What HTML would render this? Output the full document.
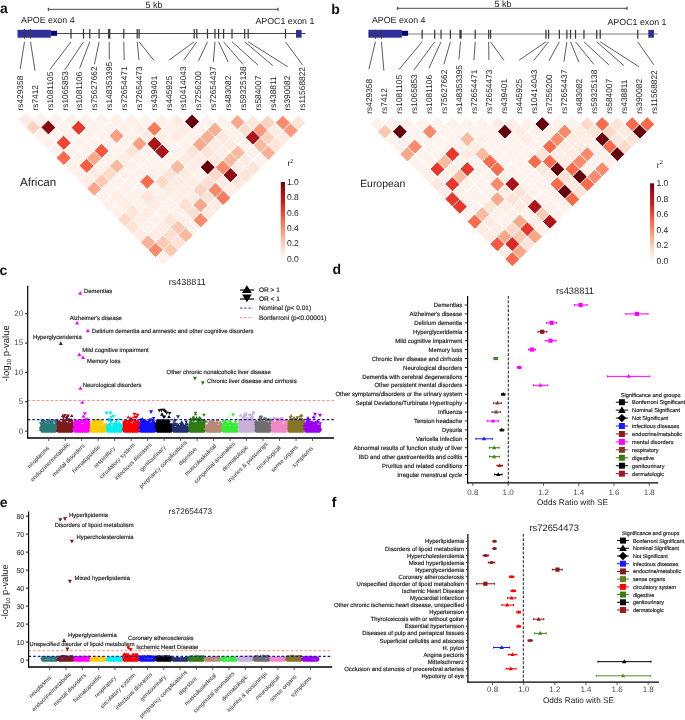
<!DOCTYPE html>
<html><head><meta charset="utf-8"><style>
html,body{margin:0;padding:0;background:#fff;}
svg{display:block;will-change:transform;}
text{font-family:"Liberation Sans", sans-serif;text-rendering:geometricPrecision;}
</style></head><body>
<svg width="685" height="720" viewBox="0 0 685 720" font-family="Liberation Sans, sans-serif">
<rect width="685" height="720" fill="#fff"/>
<line x1="48.40" y1="9.30" x2="277.90" y2="9.30" stroke="#4a4a4a" stroke-width="1" />
<line x1="48.40" y1="7.80" x2="48.40" y2="10.80" stroke="#4a4a4a" stroke-width="1.3" />
<line x1="277.90" y1="7.80" x2="277.90" y2="10.80" stroke="#4a4a4a" stroke-width="1.3" />
<text x="145.50" y="7.90" font-size="9" fill="#1a1a1a" text-anchor="start" font-weight="normal" >5 kb</text>
<text x="21.00" y="22.80" font-size="8.85" fill="#1a1a1a" text-anchor="start" font-weight="normal" >APOE exon 4</text>
<text x="255.40" y="24.40" font-size="8.85" fill="#1a1a1a" text-anchor="start" font-weight="normal" >APOC1 exon 1</text>
<line x1="57.00" y1="33.50" x2="305.40" y2="33.50" stroke="#444" stroke-width="1.0" />
<rect x="17.50" y="29.80" width="33.30" height="7.90" fill="#30309c" />
<rect x="50.80" y="30.80" width="6.20" height="5.00" fill="#000080" />
<rect x="296.00" y="29.90" width="5.60" height="7.80" fill="#30309c" />
<line x1="24.50" y1="29.00" x2="24.50" y2="38.60" stroke="#3a3a3a" stroke-width="1.25" />
<line x1="30.50" y1="29.00" x2="30.50" y2="38.60" stroke="#3a3a3a" stroke-width="1.25" />
<line x1="71.00" y1="29.00" x2="71.00" y2="38.60" stroke="#3a3a3a" stroke-width="1.25" />
<line x1="83.50" y1="29.00" x2="83.50" y2="38.60" stroke="#3a3a3a" stroke-width="1.25" />
<line x1="89.80" y1="29.00" x2="89.80" y2="38.60" stroke="#3a3a3a" stroke-width="1.25" />
<line x1="99.10" y1="29.00" x2="99.10" y2="38.60" stroke="#3a3a3a" stroke-width="1.25" />
<line x1="109.20" y1="29.00" x2="109.20" y2="38.60" stroke="#3a3a3a" stroke-width="2.3" />
<line x1="123.80" y1="29.00" x2="123.80" y2="38.60" stroke="#3a3a3a" stroke-width="1.25" />
<line x1="137.20" y1="29.00" x2="137.20" y2="38.60" stroke="#3a3a3a" stroke-width="1.25" />
<line x1="139.10" y1="29.00" x2="139.10" y2="38.60" stroke="#3a3a3a" stroke-width="1.25" />
<line x1="194.20" y1="29.00" x2="194.20" y2="38.60" stroke="#3a3a3a" stroke-width="1.25" />
<line x1="196.80" y1="29.00" x2="196.80" y2="38.60" stroke="#3a3a3a" stroke-width="1.25" />
<line x1="207.50" y1="29.00" x2="207.50" y2="38.60" stroke="#3a3a3a" stroke-width="1.25" />
<line x1="215.00" y1="29.00" x2="215.00" y2="38.60" stroke="#3a3a3a" stroke-width="1.25" />
<line x1="218.60" y1="29.00" x2="218.60" y2="38.60" stroke="#3a3a3a" stroke-width="1.25" />
<line x1="223.60" y1="29.00" x2="223.60" y2="38.60" stroke="#3a3a3a" stroke-width="1.25" />
<line x1="232.00" y1="29.00" x2="232.00" y2="38.60" stroke="#3a3a3a" stroke-width="1.25" />
<line x1="244.70" y1="29.00" x2="244.70" y2="38.60" stroke="#3a3a3a" stroke-width="1.25" />
<line x1="248.20" y1="29.00" x2="248.20" y2="38.60" stroke="#3a3a3a" stroke-width="1.25" />
<line x1="285.50" y1="29.00" x2="285.50" y2="38.60" stroke="#3a3a3a" stroke-width="1.25" />
<line x1="24.50" y1="41.80" x2="20.15" y2="69.20" stroke="#333" stroke-width="0.8" />
<text transform="translate(23.00,110.50) rotate(-90)" font-size="8.35" fill="#1a1a1a">rs429358</text>
<line x1="30.50" y1="41.80" x2="35.01" y2="70.80" stroke="#333" stroke-width="0.8" />
<text transform="translate(37.86,110.50) rotate(-90)" font-size="8.35" fill="#1a1a1a">rs7412</text>
<line x1="71.00" y1="41.80" x2="49.87" y2="69.60" stroke="#333" stroke-width="0.8" />
<text transform="translate(52.72,110.50) rotate(-90)" font-size="8.35" fill="#1a1a1a">rs1081105</text>
<line x1="83.50" y1="41.80" x2="64.73" y2="70.00" stroke="#333" stroke-width="0.8" />
<text transform="translate(67.58,110.50) rotate(-90)" font-size="8.35" fill="#1a1a1a">rs1065853</text>
<line x1="89.80" y1="41.80" x2="79.59" y2="68.40" stroke="#333" stroke-width="0.8" />
<text transform="translate(82.44,110.50) rotate(-90)" font-size="8.35" fill="#1a1a1a">rs1081106</text>
<line x1="99.10" y1="41.80" x2="94.45" y2="64.30" stroke="#333" stroke-width="0.8" />
<text transform="translate(97.30,110.50) rotate(-90)" font-size="8.35" fill="#1a1a1a">rs75627662</text>
<line x1="109.20" y1="41.80" x2="109.31" y2="59.50" stroke="#333" stroke-width="0.8" />
<text transform="translate(112.16,110.50) rotate(-90)" font-size="8.35" fill="#1a1a1a">rs148353395</text>
<line x1="123.80" y1="41.80" x2="124.17" y2="60.00" stroke="#333" stroke-width="0.8" />
<text transform="translate(127.02,110.50) rotate(-90)" font-size="8.35" fill="#1a1a1a">rs72654471</text>
<line x1="137.20" y1="41.80" x2="139.03" y2="60.00" stroke="#333" stroke-width="0.8" />
<text transform="translate(141.88,110.50) rotate(-90)" font-size="8.35" fill="#1a1a1a">rs72654473</text>
<line x1="139.10" y1="41.80" x2="153.89" y2="60.30" stroke="#333" stroke-width="0.8" />
<text transform="translate(156.74,110.50) rotate(-90)" font-size="8.35" fill="#1a1a1a">rs439401</text>
<line x1="194.20" y1="41.80" x2="168.75" y2="60.30" stroke="#333" stroke-width="0.8" />
<text transform="translate(171.60,110.50) rotate(-90)" font-size="8.35" fill="#1a1a1a">rs445925</text>
<line x1="196.80" y1="41.80" x2="183.61" y2="60.30" stroke="#333" stroke-width="0.8" />
<text transform="translate(186.46,110.50) rotate(-90)" font-size="8.35" fill="#1a1a1a">rs10414043</text>
<line x1="207.50" y1="41.80" x2="198.47" y2="60.90" stroke="#333" stroke-width="0.8" />
<text transform="translate(201.32,110.50) rotate(-90)" font-size="8.35" fill="#1a1a1a">rs7256200</text>
<line x1="215.00" y1="41.80" x2="213.33" y2="61.80" stroke="#333" stroke-width="0.8" />
<text transform="translate(216.18,110.50) rotate(-90)" font-size="8.35" fill="#1a1a1a">rs72654437</text>
<line x1="218.60" y1="41.80" x2="228.19" y2="62.10" stroke="#333" stroke-width="0.8" />
<text transform="translate(231.04,110.50) rotate(-90)" font-size="8.35" fill="#1a1a1a">rs483082</text>
<line x1="223.60" y1="41.80" x2="243.05" y2="64.40" stroke="#333" stroke-width="0.8" />
<text transform="translate(245.90,110.50) rotate(-90)" font-size="8.35" fill="#1a1a1a">rs59325138</text>
<line x1="232.00" y1="41.80" x2="257.91" y2="64.90" stroke="#333" stroke-width="0.8" />
<text transform="translate(260.76,110.50) rotate(-90)" font-size="8.35" fill="#1a1a1a">rs584007</text>
<line x1="244.70" y1="41.80" x2="272.77" y2="65.60" stroke="#333" stroke-width="0.8" />
<text transform="translate(275.62,110.50) rotate(-90)" font-size="8.35" fill="#1a1a1a">rs438811</text>
<line x1="248.20" y1="41.80" x2="287.63" y2="66.70" stroke="#333" stroke-width="0.8" />
<text transform="translate(290.48,110.50) rotate(-90)" font-size="8.35" fill="#1a1a1a">rs390082</text>
<line x1="285.50" y1="41.80" x2="302.49" y2="64.90" stroke="#333" stroke-width="0.8" />
<text transform="translate(305.34,110.50) rotate(-90)" font-size="8.35" fill="#1a1a1a">rs11568822</text>
<line x1="397.50" y1="8.30" x2="627.00" y2="8.30" stroke="#4a4a4a" stroke-width="1" />
<line x1="397.50" y1="6.80" x2="397.50" y2="9.80" stroke="#4a4a4a" stroke-width="1.3" />
<line x1="627.00" y1="6.80" x2="627.00" y2="9.80" stroke="#4a4a4a" stroke-width="1.3" />
<text x="494.60" y="6.90" font-size="9" fill="#1a1a1a" text-anchor="start" font-weight="normal" >5 kb</text>
<text x="371.91" y="23.20" font-size="8.85" fill="#1a1a1a" text-anchor="start" font-weight="normal" >APOE exon 4</text>
<text x="607.48" y="24.80" font-size="8.85" fill="#1a1a1a" text-anchor="start" font-weight="normal" >APOC1 exon 1</text>
<line x1="408.09" y1="33.90" x2="657.73" y2="33.90" stroke="#a8a8a8" stroke-width="1.5" />
<rect x="368.39" y="29.80" width="33.47" height="7.90" fill="#30309c" />
<rect x="401.85" y="30.80" width="6.23" height="5.00" fill="#000080" />
<rect x="648.28" y="29.90" width="5.63" height="7.80" fill="#30309c" />
<line x1="375.42" y1="29.80" x2="375.42" y2="38.70" stroke="#3a3a3a" stroke-width="1.25" />
<line x1="381.45" y1="29.80" x2="381.45" y2="38.70" stroke="#3a3a3a" stroke-width="1.25" />
<line x1="422.15" y1="29.80" x2="422.15" y2="38.70" stroke="#3a3a3a" stroke-width="1.25" />
<line x1="434.72" y1="29.80" x2="434.72" y2="38.70" stroke="#3a3a3a" stroke-width="1.25" />
<line x1="441.05" y1="29.80" x2="441.05" y2="38.70" stroke="#3a3a3a" stroke-width="1.25" />
<line x1="450.40" y1="29.80" x2="450.40" y2="38.70" stroke="#3a3a3a" stroke-width="1.25" />
<line x1="460.55" y1="29.80" x2="460.55" y2="38.70" stroke="#3a3a3a" stroke-width="2.3" />
<line x1="475.22" y1="29.80" x2="475.22" y2="38.70" stroke="#3a3a3a" stroke-width="1.25" />
<line x1="488.69" y1="29.80" x2="488.69" y2="38.70" stroke="#3a3a3a" stroke-width="1.25" />
<line x1="490.60" y1="29.80" x2="490.60" y2="38.70" stroke="#3a3a3a" stroke-width="1.25" />
<line x1="545.97" y1="29.80" x2="545.97" y2="38.70" stroke="#3a3a3a" stroke-width="1.25" />
<line x1="548.58" y1="29.80" x2="548.58" y2="38.70" stroke="#3a3a3a" stroke-width="1.25" />
<line x1="559.34" y1="29.80" x2="559.34" y2="38.70" stroke="#3a3a3a" stroke-width="1.25" />
<line x1="566.88" y1="29.80" x2="566.88" y2="38.70" stroke="#3a3a3a" stroke-width="1.25" />
<line x1="570.49" y1="29.80" x2="570.49" y2="38.70" stroke="#3a3a3a" stroke-width="1.25" />
<line x1="575.52" y1="29.80" x2="575.52" y2="38.70" stroke="#3a3a3a" stroke-width="1.25" />
<line x1="583.96" y1="29.80" x2="583.96" y2="38.70" stroke="#3a3a3a" stroke-width="1.25" />
<line x1="596.72" y1="29.80" x2="596.72" y2="38.70" stroke="#3a3a3a" stroke-width="1.25" />
<line x1="600.24" y1="29.80" x2="600.24" y2="38.70" stroke="#3a3a3a" stroke-width="1.25" />
<line x1="637.73" y1="29.80" x2="637.73" y2="38.70" stroke="#3a3a3a" stroke-width="1.25" />
<line x1="375.42" y1="41.80" x2="368.90" y2="69.20" stroke="#333" stroke-width="0.8" />
<text transform="translate(371.75,113.70) rotate(-90)" font-size="8.35" fill="#1a1a1a">rs429358</text>
<line x1="381.45" y1="41.80" x2="383.90" y2="70.80" stroke="#333" stroke-width="0.8" />
<text transform="translate(386.75,113.70) rotate(-90)" font-size="8.35" fill="#1a1a1a">rs7412</text>
<line x1="422.15" y1="41.80" x2="398.90" y2="69.60" stroke="#333" stroke-width="0.8" />
<text transform="translate(401.75,113.70) rotate(-90)" font-size="8.35" fill="#1a1a1a">rs1081105</text>
<line x1="434.72" y1="41.80" x2="413.90" y2="70.00" stroke="#333" stroke-width="0.8" />
<text transform="translate(416.75,113.70) rotate(-90)" font-size="8.35" fill="#1a1a1a">rs1065853</text>
<line x1="441.05" y1="41.80" x2="428.90" y2="68.40" stroke="#333" stroke-width="0.8" />
<text transform="translate(431.75,113.70) rotate(-90)" font-size="8.35" fill="#1a1a1a">rs1081106</text>
<line x1="450.40" y1="41.80" x2="443.90" y2="64.30" stroke="#333" stroke-width="0.8" />
<text transform="translate(446.75,113.70) rotate(-90)" font-size="8.35" fill="#1a1a1a">rs75627662</text>
<line x1="460.55" y1="41.80" x2="458.90" y2="59.50" stroke="#333" stroke-width="0.8" />
<text transform="translate(461.75,113.70) rotate(-90)" font-size="8.35" fill="#1a1a1a">rs148353395</text>
<line x1="475.22" y1="41.80" x2="473.90" y2="60.00" stroke="#333" stroke-width="0.8" />
<text transform="translate(476.75,113.70) rotate(-90)" font-size="8.35" fill="#1a1a1a">rs72654471</text>
<line x1="488.69" y1="41.80" x2="488.90" y2="60.00" stroke="#333" stroke-width="0.8" />
<text transform="translate(491.75,113.70) rotate(-90)" font-size="8.35" fill="#1a1a1a">rs72654473</text>
<line x1="490.60" y1="41.80" x2="503.90" y2="60.30" stroke="#333" stroke-width="0.8" />
<text transform="translate(506.75,113.70) rotate(-90)" font-size="8.35" fill="#1a1a1a">rs439401</text>
<line x1="545.97" y1="41.80" x2="518.90" y2="60.30" stroke="#333" stroke-width="0.8" />
<text transform="translate(521.75,113.70) rotate(-90)" font-size="8.35" fill="#1a1a1a">rs445925</text>
<line x1="548.58" y1="41.80" x2="533.90" y2="60.30" stroke="#333" stroke-width="0.8" />
<text transform="translate(536.75,113.70) rotate(-90)" font-size="8.35" fill="#1a1a1a">rs10414043</text>
<line x1="559.34" y1="41.80" x2="548.90" y2="60.90" stroke="#333" stroke-width="0.8" />
<text transform="translate(551.75,113.70) rotate(-90)" font-size="8.35" fill="#1a1a1a">rs7256200</text>
<line x1="566.88" y1="41.80" x2="563.90" y2="61.80" stroke="#333" stroke-width="0.8" />
<text transform="translate(566.75,113.70) rotate(-90)" font-size="8.35" fill="#1a1a1a">rs72654437</text>
<line x1="570.49" y1="41.80" x2="578.90" y2="62.10" stroke="#333" stroke-width="0.8" />
<text transform="translate(581.75,113.70) rotate(-90)" font-size="8.35" fill="#1a1a1a">rs483082</text>
<line x1="575.52" y1="41.80" x2="593.90" y2="64.40" stroke="#333" stroke-width="0.8" />
<text transform="translate(596.75,113.70) rotate(-90)" font-size="8.35" fill="#1a1a1a">rs59325138</text>
<line x1="583.96" y1="41.80" x2="608.90" y2="64.90" stroke="#333" stroke-width="0.8" />
<text transform="translate(611.75,113.70) rotate(-90)" font-size="8.35" fill="#1a1a1a">rs584007</text>
<line x1="596.72" y1="41.80" x2="623.90" y2="65.60" stroke="#333" stroke-width="0.8" />
<text transform="translate(626.75,113.70) rotate(-90)" font-size="8.35" fill="#1a1a1a">rs438811</text>
<line x1="600.24" y1="41.80" x2="638.90" y2="66.70" stroke="#333" stroke-width="0.8" />
<text transform="translate(641.75,113.70) rotate(-90)" font-size="8.35" fill="#1a1a1a">rs390082</text>
<line x1="637.73" y1="41.80" x2="653.90" y2="64.90" stroke="#333" stroke-width="0.8" />
<text transform="translate(656.75,113.70) rotate(-90)" font-size="8.35" fill="#1a1a1a">rs11568822</text>
<g transform="translate(25.6,119.7) skewY(0.6932451007573786) skewX(0.5729386976834859)">
<path d="M0.00 -7.57L7.57 0.00L0.00 7.57L-7.57 0.00Z" fill="#ffede5" stroke="#fff" stroke-width="0.9"/>
<path d="M15.14 -7.57L22.71 0.00L15.14 7.57L7.57 0.00Z" fill="#fff2ec" stroke="#fff" stroke-width="0.9"/>
<path d="M30.28 -7.57L37.85 0.00L30.28 7.57L22.71 0.00Z" fill="#fff2ec" stroke="#fff" stroke-width="0.9"/>
<path d="M45.42 -7.57L52.99 0.00L45.42 7.57L37.85 0.00Z" fill="#fff2ec" stroke="#fff" stroke-width="0.9"/>
<path d="M60.56 -7.57L68.13 0.00L60.56 7.57L52.99 0.00Z" fill="#fff1eb" stroke="#fff" stroke-width="0.9"/>
<path d="M75.70 -7.57L83.27 0.00L75.70 7.57L68.13 0.00Z" fill="#fff1eb" stroke="#fff" stroke-width="0.9"/>
<path d="M90.84 -7.57L98.41 0.00L90.84 7.57L83.27 0.00Z" fill="#ffefe7" stroke="#fff" stroke-width="0.9"/>
<path d="M105.98 -7.57L113.55 0.00L105.98 7.57L98.41 0.00Z" fill="#ffefe7" stroke="#fff" stroke-width="0.9"/>
<path d="M121.12 -7.57L128.69 0.00L121.12 7.57L113.55 0.00Z" fill="#fff2ec" stroke="#fff" stroke-width="0.9"/>
<path d="M136.26 -7.57L143.83 0.00L136.26 7.57L128.69 0.00Z" fill="#ffefe7" stroke="#fff" stroke-width="0.9"/>
<path d="M151.40 -7.57L158.97 0.00L151.40 7.57L143.83 0.00Z" fill="#ffebe2" stroke="#fff" stroke-width="0.9"/>
<path d="M166.54 -7.57L174.11 0.00L166.54 7.57L158.97 0.00Z" fill="#67000d" stroke="#fff" stroke-width="0.9"/>
<path d="M181.68 -7.57L189.25 0.00L181.68 7.57L174.11 0.00Z" fill="#fff1eb" stroke="#fff" stroke-width="0.9"/>
<path d="M196.82 -7.57L204.39 0.00L196.82 7.57L189.25 0.00Z" fill="#fff1eb" stroke="#fff" stroke-width="0.9"/>
<path d="M211.96 -7.57L219.53 0.00L211.96 7.57L204.39 0.00Z" fill="#fca78a" stroke="#fff" stroke-width="0.9"/>
<path d="M227.10 -7.57L234.67 0.00L227.10 7.57L219.53 0.00Z" fill="#fee8dd" stroke="#fff" stroke-width="0.9"/>
<path d="M242.24 -7.57L249.81 0.00L242.24 7.57L234.67 0.00Z" fill="#fdd2c0" stroke="#fff" stroke-width="0.9"/>
<path d="M257.38 -7.57L264.95 0.00L257.38 7.57L249.81 0.00Z" fill="#fc8969" stroke="#fff" stroke-width="0.9"/>
<path d="M272.52 -7.57L280.09 0.00L272.52 7.57L264.95 0.00Z" fill="#fee3d7" stroke="#fff" stroke-width="0.9"/>
<path d="M7.57 0.00L15.14 7.57L7.57 15.14L0.00 7.57Z" fill="#fdd2c0" stroke="#fff" stroke-width="0.9"/>
<path d="M22.71 0.00L30.28 7.57L22.71 15.14L15.14 7.57Z" fill="#8e0912" stroke="#fff" stroke-width="0.9"/>
<path d="M37.85 0.00L45.42 7.57L37.85 15.14L30.28 7.57Z" fill="#fff2ec" stroke="#fff" stroke-width="0.9"/>
<path d="M52.99 0.00L60.56 7.57L52.99 15.14L45.42 7.57Z" fill="#eb372a" stroke="#fff" stroke-width="0.9"/>
<path d="M68.13 0.00L75.70 7.57L68.13 15.14L60.56 7.57Z" fill="#fff2ec" stroke="#fff" stroke-width="0.9"/>
<path d="M83.27 0.00L90.84 7.57L83.27 15.14L75.70 7.57Z" fill="#fff2ec" stroke="#fff" stroke-width="0.9"/>
<path d="M98.41 0.00L105.98 7.57L98.41 15.14L90.84 7.57Z" fill="#fff0e9" stroke="#fff" stroke-width="0.9"/>
<path d="M113.55 0.00L121.12 7.57L113.55 15.14L105.98 7.57Z" fill="#ffefe7" stroke="#fff" stroke-width="0.9"/>
<path d="M128.69 0.00L136.26 7.57L128.69 15.14L121.12 7.57Z" fill="#fb7a5a" stroke="#fff" stroke-width="0.9"/>
<path d="M143.83 0.00L151.40 7.57L143.83 15.14L136.26 7.57Z" fill="#fff0e9" stroke="#fff" stroke-width="0.9"/>
<path d="M158.97 0.00L166.54 7.57L158.97 15.14L151.40 7.57Z" fill="#ffebe2" stroke="#fff" stroke-width="0.9"/>
<path d="M174.11 0.00L181.68 7.57L174.11 15.14L166.54 7.57Z" fill="#fff1eb" stroke="#fff" stroke-width="0.9"/>
<path d="M189.25 0.00L196.82 7.57L189.25 15.14L181.68 7.57Z" fill="#fcae92" stroke="#fff" stroke-width="0.9"/>
<path d="M204.39 0.00L211.96 7.57L204.39 15.14L196.82 7.57Z" fill="#fff0e9" stroke="#fff" stroke-width="0.9"/>
<path d="M219.53 0.00L227.10 7.57L219.53 15.14L211.96 7.57Z" fill="#fedecf" stroke="#fff" stroke-width="0.9"/>
<path d="M234.67 0.00L242.24 7.57L234.67 15.14L227.10 7.57Z" fill="#fc9879" stroke="#fff" stroke-width="0.9"/>
<path d="M249.81 0.00L257.38 7.57L249.81 15.14L242.24 7.57Z" fill="#ffebe2" stroke="#fff" stroke-width="0.9"/>
<path d="M264.95 0.00L272.52 7.57L264.95 15.14L257.38 7.57Z" fill="#fc9879" stroke="#fff" stroke-width="0.9"/>
<path d="M15.14 7.57L22.71 15.14L15.14 22.71L7.57 15.14Z" fill="#fff0e9" stroke="#fff" stroke-width="0.9"/>
<path d="M30.28 7.57L37.85 15.14L30.28 22.71L22.71 15.14Z" fill="#fff3ed" stroke="#fff" stroke-width="0.9"/>
<path d="M45.42 7.57L52.99 15.14L45.42 22.71L37.85 15.14Z" fill="#fff2ec" stroke="#fff" stroke-width="0.9"/>
<path d="M60.56 7.57L68.13 15.14L60.56 22.71L52.99 15.14Z" fill="#fff2ec" stroke="#fff" stroke-width="0.9"/>
<path d="M75.70 7.57L83.27 15.14L75.70 22.71L68.13 15.14Z" fill="#fff2ec" stroke="#fff" stroke-width="0.9"/>
<path d="M90.84 7.57L98.41 15.14L90.84 22.71L83.27 15.14Z" fill="#fc9e80" stroke="#fff" stroke-width="0.9"/>
<path d="M105.98 7.57L113.55 15.14L105.98 22.71L98.41 15.14Z" fill="#fff1eb" stroke="#fff" stroke-width="0.9"/>
<path d="M121.12 7.57L128.69 15.14L121.12 22.71L113.55 15.14Z" fill="#ffebe2" stroke="#fff" stroke-width="0.9"/>
<path d="M136.26 7.57L143.83 15.14L136.26 22.71L128.69 15.14Z" fill="#ffefe7" stroke="#fff" stroke-width="0.9"/>
<path d="M151.40 7.57L158.97 15.14L151.40 22.71L143.83 15.14Z" fill="#ffede5" stroke="#fff" stroke-width="0.9"/>
<path d="M166.54 7.57L174.11 15.14L166.54 22.71L158.97 15.14Z" fill="#fff1eb" stroke="#fff" stroke-width="0.9"/>
<path d="M181.68 7.57L189.25 15.14L181.68 22.71L174.11 15.14Z" fill="#fcae92" stroke="#fff" stroke-width="0.9"/>
<path d="M196.82 7.57L204.39 15.14L196.82 22.71L189.25 15.14Z" fill="#fee8dd" stroke="#fff" stroke-width="0.9"/>
<path d="M211.96 7.57L219.53 15.14L211.96 22.71L204.39 15.14Z" fill="#fff1eb" stroke="#fff" stroke-width="0.9"/>
<path d="M227.10 7.57L234.67 15.14L227.10 22.71L219.53 15.14Z" fill="#ae1117" stroke="#fff" stroke-width="0.9"/>
<path d="M242.24 7.57L249.81 15.14L242.24 22.71L234.67 15.14Z" fill="#fdd2c0" stroke="#fff" stroke-width="0.9"/>
<path d="M257.38 7.57L264.95 15.14L257.38 22.71L249.81 15.14Z" fill="#ffebe2" stroke="#fff" stroke-width="0.9"/>
<path d="M22.71 15.14L30.28 22.71L22.71 30.28L15.14 22.71Z" fill="#fff2ec" stroke="#fff" stroke-width="0.9"/>
<path d="M37.85 15.14L45.42 22.71L37.85 30.28L30.28 22.71Z" fill="#f24633" stroke="#fff" stroke-width="0.9"/>
<path d="M52.99 15.14L60.56 22.71L52.99 30.28L45.42 22.71Z" fill="#fff1eb" stroke="#fff" stroke-width="0.9"/>
<path d="M68.13 15.14L75.70 22.71L68.13 30.28L60.56 22.71Z" fill="#fff2ec" stroke="#fff" stroke-width="0.9"/>
<path d="M83.27 15.14L90.84 22.71L83.27 30.28L75.70 22.71Z" fill="#fff2ec" stroke="#fff" stroke-width="0.9"/>
<path d="M98.41 15.14L105.98 22.71L98.41 30.28L90.84 22.71Z" fill="#fff2ec" stroke="#fff" stroke-width="0.9"/>
<path d="M113.55 15.14L121.12 22.71L113.55 30.28L105.98 22.71Z" fill="#fc9e80" stroke="#fff" stroke-width="0.9"/>
<path d="M128.69 15.14L136.26 22.71L128.69 30.28L121.12 22.71Z" fill="#ae1117" stroke="#fff" stroke-width="0.9"/>
<path d="M143.83 15.14L151.40 22.71L143.83 30.28L136.26 22.71Z" fill="#fff2ec" stroke="#fff" stroke-width="0.9"/>
<path d="M158.97 15.14L166.54 22.71L158.97 30.28L151.40 22.71Z" fill="#fff2ec" stroke="#fff" stroke-width="0.9"/>
<path d="M174.11 15.14L181.68 22.71L174.11 30.28L166.54 22.71Z" fill="#fca78a" stroke="#fff" stroke-width="0.9"/>
<path d="M189.25 15.14L196.82 22.71L189.25 30.28L181.68 22.71Z" fill="#ffebe2" stroke="#fff" stroke-width="0.9"/>
<path d="M204.39 15.14L211.96 22.71L204.39 30.28L196.82 22.71Z" fill="#ffebe2" stroke="#fff" stroke-width="0.9"/>
<path d="M219.53 15.14L227.10 22.71L219.53 30.28L211.96 22.71Z" fill="#fff2ec" stroke="#fff" stroke-width="0.9"/>
<path d="M234.67 15.14L242.24 22.71L234.67 30.28L227.10 22.71Z" fill="#fcb99e" stroke="#fff" stroke-width="0.9"/>
<path d="M249.81 15.14L257.38 22.71L249.81 30.28L242.24 22.71Z" fill="#fee3d7" stroke="#fff" stroke-width="0.9"/>
<path d="M30.28 22.71L37.85 30.28L30.28 37.85L22.71 30.28Z" fill="#fff2ec" stroke="#fff" stroke-width="0.9"/>
<path d="M45.42 22.71L52.99 30.28L45.42 37.85L37.85 30.28Z" fill="#fff1eb" stroke="#fff" stroke-width="0.9"/>
<path d="M60.56 22.71L68.13 30.28L60.56 37.85L52.99 30.28Z" fill="#fff1eb" stroke="#fff" stroke-width="0.9"/>
<path d="M75.70 22.71L83.27 30.28L75.70 37.85L68.13 30.28Z" fill="#f6573e" stroke="#fff" stroke-width="0.9"/>
<path d="M90.84 22.71L98.41 30.28L90.84 37.85L83.27 30.28Z" fill="#fff2ec" stroke="#fff" stroke-width="0.9"/>
<path d="M105.98 22.71L113.55 30.28L105.98 37.85L98.41 30.28Z" fill="#fee3d7" stroke="#fff" stroke-width="0.9"/>
<path d="M121.12 22.71L128.69 30.28L121.12 37.85L113.55 30.28Z" fill="#fff2ec" stroke="#fff" stroke-width="0.9"/>
<path d="M136.26 22.71L143.83 30.28L136.26 37.85L128.69 30.28Z" fill="#ae1117" stroke="#fff" stroke-width="0.9"/>
<path d="M151.40 22.71L158.97 30.28L151.40 37.85L143.83 30.28Z" fill="#fff2ec" stroke="#fff" stroke-width="0.9"/>
<path d="M166.54 22.71L174.11 30.28L166.54 37.85L158.97 30.28Z" fill="#fee3d7" stroke="#fff" stroke-width="0.9"/>
<path d="M181.68 22.71L189.25 30.28L181.68 37.85L174.11 30.28Z" fill="#fee3d7" stroke="#fff" stroke-width="0.9"/>
<path d="M196.82 22.71L204.39 30.28L196.82 37.85L189.25 30.28Z" fill="#ffede5" stroke="#fff" stroke-width="0.9"/>
<path d="M211.96 22.71L219.53 30.28L211.96 37.85L204.39 30.28Z" fill="#fcb99e" stroke="#fff" stroke-width="0.9"/>
<path d="M227.10 22.71L234.67 30.28L227.10 37.85L219.53 30.28Z" fill="#fff1eb" stroke="#fff" stroke-width="0.9"/>
<path d="M242.24 22.71L249.81 30.28L242.24 37.85L234.67 30.28Z" fill="#fcae92" stroke="#fff" stroke-width="0.9"/>
<path d="M37.85 30.28L45.42 37.85L37.85 45.42L30.28 37.85Z" fill="#fb6a4a" stroke="#fff" stroke-width="0.9"/>
<path d="M52.99 30.28L60.56 37.85L52.99 45.42L45.42 37.85Z" fill="#fff1eb" stroke="#fff" stroke-width="0.9"/>
<path d="M68.13 30.28L75.70 37.85L68.13 45.42L60.56 37.85Z" fill="#fca78a" stroke="#fff" stroke-width="0.9"/>
<path d="M83.27 30.28L90.84 37.85L83.27 45.42L75.70 37.85Z" fill="#fff1eb" stroke="#fff" stroke-width="0.9"/>
<path d="M98.41 30.28L105.98 37.85L98.41 45.42L90.84 37.85Z" fill="#ffede5" stroke="#fff" stroke-width="0.9"/>
<path d="M113.55 30.28L121.12 37.85L113.55 45.42L105.98 37.85Z" fill="#fff0e9" stroke="#fff" stroke-width="0.9"/>
<path d="M128.69 30.28L136.26 37.85L128.69 45.42L121.12 37.85Z" fill="#fff1eb" stroke="#fff" stroke-width="0.9"/>
<path d="M143.83 30.28L151.40 37.85L143.83 45.42L136.26 37.85Z" fill="#fff2ec" stroke="#fff" stroke-width="0.9"/>
<path d="M158.97 30.28L166.54 37.85L158.97 45.42L151.40 37.85Z" fill="#ffebe2" stroke="#fff" stroke-width="0.9"/>
<path d="M174.11 30.28L181.68 37.85L174.11 45.42L166.54 37.85Z" fill="#ffebe2" stroke="#fff" stroke-width="0.9"/>
<path d="M189.25 30.28L196.82 37.85L189.25 45.42L181.68 37.85Z" fill="#fee8dd" stroke="#fff" stroke-width="0.9"/>
<path d="M204.39 30.28L211.96 37.85L204.39 45.42L196.82 37.85Z" fill="#fcb99e" stroke="#fff" stroke-width="0.9"/>
<path d="M219.53 30.28L227.10 37.85L219.53 45.42L211.96 37.85Z" fill="#ffebe2" stroke="#fff" stroke-width="0.9"/>
<path d="M234.67 30.28L242.24 37.85L234.67 45.42L227.10 37.85Z" fill="#fff1eb" stroke="#fff" stroke-width="0.9"/>
<path d="M45.42 37.85L52.99 45.42L45.42 52.99L37.85 45.42Z" fill="#fff0e9" stroke="#fff" stroke-width="0.9"/>
<path d="M60.56 37.85L68.13 45.42L60.56 52.99L52.99 45.42Z" fill="#f85f43" stroke="#fff" stroke-width="0.9"/>
<path d="M75.70 37.85L83.27 45.42L75.70 52.99L68.13 45.42Z" fill="#fff2ec" stroke="#fff" stroke-width="0.9"/>
<path d="M90.84 37.85L98.41 45.42L90.84 52.99L83.27 45.42Z" fill="#fcb99e" stroke="#fff" stroke-width="0.9"/>
<path d="M105.98 37.85L113.55 45.42L105.98 52.99L98.41 45.42Z" fill="#fff0e9" stroke="#fff" stroke-width="0.9"/>
<path d="M121.12 37.85L128.69 45.42L121.12 52.99L113.55 45.42Z" fill="#fff2ec" stroke="#fff" stroke-width="0.9"/>
<path d="M136.26 37.85L143.83 45.42L136.26 52.99L128.69 45.42Z" fill="#fff2ec" stroke="#fff" stroke-width="0.9"/>
<path d="M151.40 37.85L158.97 45.42L151.40 52.99L143.83 45.42Z" fill="#fcb99e" stroke="#fff" stroke-width="0.9"/>
<path d="M166.54 37.85L174.11 45.42L166.54 52.99L158.97 45.42Z" fill="#ffede5" stroke="#fff" stroke-width="0.9"/>
<path d="M181.68 37.85L189.25 45.42L181.68 52.99L174.11 45.42Z" fill="#67000d" stroke="#fff" stroke-width="0.9"/>
<path d="M196.82 37.85L204.39 45.42L196.82 52.99L189.25 45.42Z" fill="#fc8969" stroke="#fff" stroke-width="0.9"/>
<path d="M211.96 37.85L219.53 45.42L211.96 52.99L204.39 45.42Z" fill="#ffebe2" stroke="#fff" stroke-width="0.9"/>
<path d="M227.10 37.85L234.67 45.42L227.10 52.99L219.53 45.42Z" fill="#fee3d7" stroke="#fff" stroke-width="0.9"/>
<path d="M52.99 45.42L60.56 52.99L52.99 60.56L45.42 52.99Z" fill="#fff0e9" stroke="#fff" stroke-width="0.9"/>
<path d="M68.13 45.42L75.70 52.99L68.13 60.56L60.56 52.99Z" fill="#ffede5" stroke="#fff" stroke-width="0.9"/>
<path d="M83.27 45.42L90.84 52.99L83.27 60.56L75.70 52.99Z" fill="#fed9c8" stroke="#fff" stroke-width="0.9"/>
<path d="M98.41 45.42L105.98 52.99L98.41 60.56L90.84 52.99Z" fill="#fff0e9" stroke="#fff" stroke-width="0.9"/>
<path d="M113.55 45.42L121.12 52.99L113.55 60.56L105.98 52.99Z" fill="#fff2ec" stroke="#fff" stroke-width="0.9"/>
<path d="M128.69 45.42L136.26 52.99L128.69 60.56L121.12 52.99Z" fill="#fff0e9" stroke="#fff" stroke-width="0.9"/>
<path d="M143.83 45.42L151.40 52.99L143.83 60.56L136.26 52.99Z" fill="#fee3d7" stroke="#fff" stroke-width="0.9"/>
<path d="M158.97 45.42L166.54 52.99L158.97 60.56L151.40 52.99Z" fill="#ffebe2" stroke="#fff" stroke-width="0.9"/>
<path d="M174.11 45.42L181.68 52.99L174.11 60.56L166.54 52.99Z" fill="#fff2ec" stroke="#fff" stroke-width="0.9"/>
<path d="M189.25 45.42L196.82 52.99L189.25 60.56L181.68 52.99Z" fill="#fed9c8" stroke="#fff" stroke-width="0.9"/>
<path d="M204.39 45.42L211.96 52.99L204.39 60.56L196.82 52.99Z" fill="#8e0912" stroke="#fff" stroke-width="0.9"/>
<path d="M219.53 45.42L227.10 52.99L219.53 60.56L211.96 52.99Z" fill="#fee3d7" stroke="#fff" stroke-width="0.9"/>
<path d="M60.56 52.99L68.13 60.56L60.56 68.13L52.99 60.56Z" fill="#ffede5" stroke="#fff" stroke-width="0.9"/>
<path d="M75.70 52.99L83.27 60.56L75.70 68.13L68.13 60.56Z" fill="#fdc9b3" stroke="#fff" stroke-width="0.9"/>
<path d="M90.84 52.99L98.41 60.56L90.84 68.13L83.27 60.56Z" fill="#fff2ec" stroke="#fff" stroke-width="0.9"/>
<path d="M105.98 52.99L113.55 60.56L105.98 68.13L98.41 60.56Z" fill="#fff2ec" stroke="#fff" stroke-width="0.9"/>
<path d="M121.12 52.99L128.69 60.56L121.12 68.13L113.55 60.56Z" fill="#fb6a4a" stroke="#fff" stroke-width="0.9"/>
<path d="M136.26 52.99L143.83 60.56L136.26 68.13L128.69 60.56Z" fill="#fed9c8" stroke="#fff" stroke-width="0.9"/>
<path d="M151.40 52.99L158.97 60.56L151.40 68.13L143.83 60.56Z" fill="#ffebe2" stroke="#fff" stroke-width="0.9"/>
<path d="M166.54 52.99L174.11 60.56L166.54 68.13L158.97 60.56Z" fill="#ffede5" stroke="#fff" stroke-width="0.9"/>
<path d="M181.68 52.99L189.25 60.56L181.68 68.13L174.11 60.56Z" fill="#fedecf" stroke="#fff" stroke-width="0.9"/>
<path d="M196.82 52.99L204.39 60.56L196.82 68.13L189.25 60.56Z" fill="#ffebe2" stroke="#fff" stroke-width="0.9"/>
<path d="M211.96 52.99L219.53 60.56L211.96 68.13L204.39 60.56Z" fill="#fee8dd" stroke="#fff" stroke-width="0.9"/>
<path d="M68.13 60.56L75.70 68.13L68.13 75.70L60.56 68.13Z" fill="#fca78a" stroke="#fff" stroke-width="0.9"/>
<path d="M83.27 60.56L90.84 68.13L83.27 75.70L75.70 68.13Z" fill="#fff2ec" stroke="#fff" stroke-width="0.9"/>
<path d="M98.41 60.56L105.98 68.13L98.41 75.70L90.84 68.13Z" fill="#fff0e9" stroke="#fff" stroke-width="0.9"/>
<path d="M113.55 60.56L121.12 68.13L113.55 75.70L105.98 68.13Z" fill="#fff2ec" stroke="#fff" stroke-width="0.9"/>
<path d="M128.69 60.56L136.26 68.13L128.69 75.70L121.12 68.13Z" fill="#fff2ec" stroke="#fff" stroke-width="0.9"/>
<path d="M143.83 60.56L151.40 68.13L143.83 75.70L136.26 68.13Z" fill="#ffebe2" stroke="#fff" stroke-width="0.9"/>
<path d="M158.97 60.56L166.54 68.13L158.97 75.70L151.40 68.13Z" fill="#ffede5" stroke="#fff" stroke-width="0.9"/>
<path d="M174.11 60.56L181.68 68.13L174.11 75.70L166.54 68.13Z" fill="#fdd2c0" stroke="#fff" stroke-width="0.9"/>
<path d="M189.25 60.56L196.82 68.13L189.25 75.70L181.68 68.13Z" fill="#fc8969" stroke="#fff" stroke-width="0.9"/>
<path d="M204.39 60.56L211.96 68.13L204.39 75.70L196.82 68.13Z" fill="#fff0e9" stroke="#fff" stroke-width="0.9"/>
<path d="M75.70 68.13L83.27 75.70L75.70 83.27L68.13 75.70Z" fill="#fff1eb" stroke="#fff" stroke-width="0.9"/>
<path d="M90.84 68.13L98.41 75.70L90.84 83.27L83.27 75.70Z" fill="#ffede5" stroke="#fff" stroke-width="0.9"/>
<path d="M105.98 68.13L113.55 75.70L105.98 83.27L98.41 75.70Z" fill="#fff2ec" stroke="#fff" stroke-width="0.9"/>
<path d="M121.12 68.13L128.69 75.70L121.12 83.27L113.55 75.70Z" fill="#fee3d7" stroke="#fff" stroke-width="0.9"/>
<path d="M136.26 68.13L143.83 75.70L136.26 83.27L128.69 75.70Z" fill="#ffefe7" stroke="#fff" stroke-width="0.9"/>
<path d="M151.40 68.13L158.97 75.70L151.40 83.27L143.83 75.70Z" fill="#ffefe7" stroke="#fff" stroke-width="0.9"/>
<path d="M166.54 68.13L174.11 75.70L166.54 83.27L158.97 75.70Z" fill="#ffebe2" stroke="#fff" stroke-width="0.9"/>
<path d="M181.68 68.13L189.25 75.70L181.68 83.27L174.11 75.70Z" fill="#fee3d7" stroke="#fff" stroke-width="0.9"/>
<path d="M196.82 68.13L204.39 75.70L196.82 83.27L189.25 75.70Z" fill="#fb7a5a" stroke="#fff" stroke-width="0.9"/>
<path d="M83.27 75.70L90.84 83.27L83.27 90.84L75.70 83.27Z" fill="#fff2ec" stroke="#fff" stroke-width="0.9"/>
<path d="M98.41 75.70L105.98 83.27L98.41 90.84L90.84 83.27Z" fill="#ffede5" stroke="#fff" stroke-width="0.9"/>
<path d="M113.55 75.70L121.12 83.27L113.55 90.84L105.98 83.27Z" fill="#fff2ec" stroke="#fff" stroke-width="0.9"/>
<path d="M128.69 75.70L136.26 83.27L128.69 90.84L121.12 83.27Z" fill="#ffede5" stroke="#fff" stroke-width="0.9"/>
<path d="M143.83 75.70L151.40 83.27L143.83 90.84L136.26 83.27Z" fill="#fff2ec" stroke="#fff" stroke-width="0.9"/>
<path d="M158.97 75.70L166.54 83.27L158.97 90.84L151.40 83.27Z" fill="#fedecf" stroke="#fff" stroke-width="0.9"/>
<path d="M174.11 75.70L181.68 83.27L174.11 90.84L166.54 83.27Z" fill="#fca78a" stroke="#fff" stroke-width="0.9"/>
<path d="M189.25 75.70L196.82 83.27L189.25 90.84L181.68 83.27Z" fill="#ffede5" stroke="#fff" stroke-width="0.9"/>
<path d="M90.84 83.27L98.41 90.84L90.84 98.41L83.27 90.84Z" fill="#fff1eb" stroke="#fff" stroke-width="0.9"/>
<path d="M105.98 83.27L113.55 90.84L105.98 98.41L98.41 90.84Z" fill="#fee3d7" stroke="#fff" stroke-width="0.9"/>
<path d="M121.12 83.27L128.69 90.84L121.12 98.41L113.55 90.84Z" fill="#ffede5" stroke="#fff" stroke-width="0.9"/>
<path d="M136.26 83.27L143.83 90.84L136.26 98.41L128.69 90.84Z" fill="#fff2ec" stroke="#fff" stroke-width="0.9"/>
<path d="M151.40 83.27L158.97 90.84L151.40 98.41L143.83 90.84Z" fill="#fff0e9" stroke="#fff" stroke-width="0.9"/>
<path d="M166.54 83.27L174.11 90.84L166.54 98.41L158.97 90.84Z" fill="#fedecf" stroke="#fff" stroke-width="0.9"/>
<path d="M181.68 83.27L189.25 90.84L181.68 98.41L174.11 90.84Z" fill="#ffebe2" stroke="#fff" stroke-width="0.9"/>
<path d="M98.41 90.84L105.98 98.41L98.41 105.98L90.84 98.41Z" fill="#fed9c8" stroke="#fff" stroke-width="0.9"/>
<path d="M113.55 90.84L121.12 98.41L113.55 105.98L105.98 98.41Z" fill="#ffede5" stroke="#fff" stroke-width="0.9"/>
<path d="M128.69 90.84L136.26 98.41L128.69 105.98L121.12 98.41Z" fill="#fff1eb" stroke="#fff" stroke-width="0.9"/>
<path d="M143.83 90.84L151.40 98.41L143.83 105.98L136.26 98.41Z" fill="#fee3d7" stroke="#fff" stroke-width="0.9"/>
<path d="M158.97 90.84L166.54 98.41L158.97 105.98L151.40 98.41Z" fill="#fff0e9" stroke="#fff" stroke-width="0.9"/>
<path d="M174.11 90.84L181.68 98.41L174.11 105.98L166.54 98.41Z" fill="#fc8969" stroke="#fff" stroke-width="0.9"/>
<path d="M105.98 98.41L113.55 105.98L105.98 113.55L98.41 105.98Z" fill="#fee3d7" stroke="#fff" stroke-width="0.9"/>
<path d="M121.12 98.41L128.69 105.98L121.12 113.55L113.55 105.98Z" fill="#fff1eb" stroke="#fff" stroke-width="0.9"/>
<path d="M136.26 98.41L143.83 105.98L136.26 113.55L128.69 105.98Z" fill="#ffebe2" stroke="#fff" stroke-width="0.9"/>
<path d="M151.40 98.41L158.97 105.98L151.40 113.55L143.83 105.98Z" fill="#fdc9b3" stroke="#fff" stroke-width="0.9"/>
<path d="M166.54 98.41L174.11 105.98L166.54 113.55L158.97 105.98Z" fill="#fff2ec" stroke="#fff" stroke-width="0.9"/>
<path d="M113.55 105.98L121.12 113.55L113.55 121.12L105.98 113.55Z" fill="#ffebe2" stroke="#fff" stroke-width="0.9"/>
<path d="M128.69 105.98L136.26 113.55L128.69 121.12L121.12 113.55Z" fill="#ffebe2" stroke="#fff" stroke-width="0.9"/>
<path d="M143.83 105.98L151.40 113.55L143.83 121.12L136.26 113.55Z" fill="#fedecf" stroke="#fff" stroke-width="0.9"/>
<path d="M158.97 105.98L166.54 113.55L158.97 121.12L151.40 113.55Z" fill="#fcb99e" stroke="#fff" stroke-width="0.9"/>
<path d="M121.12 113.55L128.69 121.12L121.12 128.69L113.55 121.12Z" fill="#fcb296" stroke="#fff" stroke-width="0.9"/>
<path d="M136.26 113.55L143.83 121.12L136.26 128.69L128.69 121.12Z" fill="#fdc9b3" stroke="#fff" stroke-width="0.9"/>
<path d="M151.40 113.55L158.97 121.12L151.40 128.69L143.83 121.12Z" fill="#fee3d7" stroke="#fff" stroke-width="0.9"/>
<path d="M128.69 121.12L136.26 128.69L128.69 136.26L121.12 128.69Z" fill="#fc8969" stroke="#fff" stroke-width="0.9"/>
<path d="M143.83 121.12L151.40 128.69L143.83 136.26L136.26 128.69Z" fill="#fdc9b3" stroke="#fff" stroke-width="0.9"/>
<path d="M136.26 128.69L143.83 136.26L136.26 143.83L128.69 136.26Z" fill="#fff1eb" stroke="#fff" stroke-width="0.9"/>
</g>
<g transform="translate(377.4,124.2) skewY(0) skewX(0)">
<path d="M0.00 -7.50L7.50 0.00L0.00 7.50L-7.50 0.00Z" fill="#fff1eb" stroke="#fff" stroke-width="0.9"/>
<path d="M14.99 -7.50L22.48 0.00L14.99 7.50L7.50 0.00Z" fill="#fff2ec" stroke="#fff" stroke-width="0.9"/>
<path d="M29.98 -7.50L37.48 0.00L29.98 7.50L22.48 0.00Z" fill="#fff2ec" stroke="#fff" stroke-width="0.9"/>
<path d="M44.97 -7.50L52.46 0.00L44.97 7.50L37.48 0.00Z" fill="#fff2ec" stroke="#fff" stroke-width="0.9"/>
<path d="M59.96 -7.50L67.45 0.00L59.96 7.50L52.47 0.00Z" fill="#fff2ec" stroke="#fff" stroke-width="0.9"/>
<path d="M74.95 -7.50L82.45 0.00L74.95 7.50L67.45 0.00Z" fill="#fff2ec" stroke="#fff" stroke-width="0.9"/>
<path d="M89.94 -7.50L97.44 0.00L89.94 7.50L82.44 0.00Z" fill="#fff1eb" stroke="#fff" stroke-width="0.9"/>
<path d="M104.93 -7.50L112.43 0.00L104.93 7.50L97.44 0.00Z" fill="#fff2ec" stroke="#fff" stroke-width="0.9"/>
<path d="M119.92 -7.50L127.42 0.00L119.92 7.50L112.42 0.00Z" fill="#ffede5" stroke="#fff" stroke-width="0.9"/>
<path d="M134.91 -7.50L142.41 0.00L134.91 7.50L127.41 0.00Z" fill="#ffede5" stroke="#fff" stroke-width="0.9"/>
<path d="M149.90 -7.50L157.40 0.00L149.90 7.50L142.41 0.00Z" fill="#fff2ec" stroke="#fff" stroke-width="0.9"/>
<path d="M164.89 -7.50L172.39 0.00L164.89 7.50L157.40 0.00Z" fill="#67000d" stroke="#fff" stroke-width="0.9"/>
<path d="M179.88 -7.50L187.38 0.00L179.88 7.50L172.38 0.00Z" fill="#fff2ec" stroke="#fff" stroke-width="0.9"/>
<path d="M194.87 -7.50L202.37 0.00L194.87 7.50L187.38 0.00Z" fill="#fff1eb" stroke="#fff" stroke-width="0.9"/>
<path d="M209.86 -7.50L217.36 0.00L209.86 7.50L202.37 0.00Z" fill="#fed9c8" stroke="#fff" stroke-width="0.9"/>
<path d="M224.85 -7.50L232.34 0.00L224.85 7.50L217.35 0.00Z" fill="#fb6a4a" stroke="#fff" stroke-width="0.9"/>
<path d="M239.84 -7.50L247.34 0.00L239.84 7.50L232.34 0.00Z" fill="#fee3d7" stroke="#fff" stroke-width="0.9"/>
<path d="M254.83 -7.50L262.32 0.00L254.83 7.50L247.34 0.00Z" fill="#fb6a4a" stroke="#fff" stroke-width="0.9"/>
<path d="M269.82 -7.50L277.31 0.00L269.82 7.50L262.32 0.00Z" fill="#fb6a4a" stroke="#fff" stroke-width="0.9"/>
<path d="M7.50 0.00L14.99 7.50L7.50 14.99L0.00 7.50Z" fill="#fdc9b3" stroke="#fff" stroke-width="0.9"/>
<path d="M22.48 0.00L29.98 7.50L22.48 14.99L14.99 7.50Z" fill="#67000d" stroke="#fff" stroke-width="0.9"/>
<path d="M37.48 0.00L44.97 7.50L37.48 14.99L29.98 7.50Z" fill="#fff3ed" stroke="#fff" stroke-width="0.9"/>
<path d="M52.47 0.00L59.96 7.50L52.47 14.99L44.97 7.50Z" fill="#fc8969" stroke="#fff" stroke-width="0.9"/>
<path d="M67.45 0.00L74.95 7.50L67.45 14.99L59.96 7.50Z" fill="#fff3ed" stroke="#fff" stroke-width="0.9"/>
<path d="M82.45 0.00L89.94 7.50L82.45 14.99L74.95 7.50Z" fill="#fff3ed" stroke="#fff" stroke-width="0.9"/>
<path d="M97.44 0.00L104.93 7.50L97.44 14.99L89.94 7.50Z" fill="#fff3ed" stroke="#fff" stroke-width="0.9"/>
<path d="M112.42 0.00L119.92 7.50L112.42 14.99L104.93 7.50Z" fill="#fff3ed" stroke="#fff" stroke-width="0.9"/>
<path d="M127.42 0.00L134.91 7.50L127.42 14.99L119.92 7.50Z" fill="#67000d" stroke="#fff" stroke-width="0.9"/>
<path d="M142.41 0.00L149.90 7.50L142.41 14.99L134.91 7.50Z" fill="#ffede5" stroke="#fff" stroke-width="0.9"/>
<path d="M157.40 0.00L164.89 7.50L157.40 14.99L149.90 7.50Z" fill="#fff1eb" stroke="#fff" stroke-width="0.9"/>
<path d="M172.38 0.00L179.88 7.50L172.38 14.99L164.89 7.50Z" fill="#fff2ec" stroke="#fff" stroke-width="0.9"/>
<path d="M187.38 0.00L194.87 7.50L187.38 14.99L179.88 7.50Z" fill="#fc8969" stroke="#fff" stroke-width="0.9"/>
<path d="M202.37 0.00L209.86 7.50L202.37 14.99L194.87 7.50Z" fill="#ffede5" stroke="#fff" stroke-width="0.9"/>
<path d="M217.35 0.00L224.85 7.50L217.35 14.99L209.86 7.50Z" fill="#fee3d7" stroke="#fff" stroke-width="0.9"/>
<path d="M232.34 0.00L239.84 7.50L232.34 14.99L224.85 7.50Z" fill="#fed9c8" stroke="#fff" stroke-width="0.9"/>
<path d="M247.34 0.00L254.83 7.50L247.34 14.99L239.84 7.50Z" fill="#ffebe2" stroke="#fff" stroke-width="0.9"/>
<path d="M262.32 0.00L269.82 7.50L262.32 14.99L254.83 7.50Z" fill="#67000d" stroke="#fff" stroke-width="0.9"/>
<path d="M14.99 7.50L22.48 14.99L14.99 22.48L7.50 14.99Z" fill="#fff3ed" stroke="#fff" stroke-width="0.9"/>
<path d="M29.98 7.50L37.48 14.99L29.98 22.48L22.48 14.99Z" fill="#fff1eb" stroke="#fff" stroke-width="0.9"/>
<path d="M44.97 7.50L52.46 14.99L44.97 22.48L37.48 14.99Z" fill="#fff3ed" stroke="#fff" stroke-width="0.9"/>
<path d="M59.96 7.50L67.45 14.99L59.96 22.48L52.47 14.99Z" fill="#fff3ed" stroke="#fff" stroke-width="0.9"/>
<path d="M74.95 7.50L82.45 14.99L74.95 22.48L67.45 14.99Z" fill="#fff3ed" stroke="#fff" stroke-width="0.9"/>
<path d="M89.94 7.50L97.44 14.99L89.94 22.48L82.44 14.99Z" fill="#fcb99e" stroke="#fff" stroke-width="0.9"/>
<path d="M104.93 7.50L112.43 14.99L104.93 22.48L97.44 14.99Z" fill="#fff2ec" stroke="#fff" stroke-width="0.9"/>
<path d="M119.92 7.50L127.42 14.99L119.92 22.48L112.42 14.99Z" fill="#fff3ed" stroke="#fff" stroke-width="0.9"/>
<path d="M134.91 7.50L142.41 14.99L134.91 22.48L127.41 14.99Z" fill="#fff3ed" stroke="#fff" stroke-width="0.9"/>
<path d="M149.90 7.50L157.40 14.99L149.90 22.48L142.41 14.99Z" fill="#ffede5" stroke="#fff" stroke-width="0.9"/>
<path d="M164.89 7.50L172.39 14.99L164.89 22.48L157.40 14.99Z" fill="#fff2ec" stroke="#fff" stroke-width="0.9"/>
<path d="M179.88 7.50L187.38 14.99L179.88 22.48L172.38 14.99Z" fill="#fc8969" stroke="#fff" stroke-width="0.9"/>
<path d="M194.87 7.50L202.37 14.99L194.87 22.48L187.38 14.99Z" fill="#ffebe2" stroke="#fff" stroke-width="0.9"/>
<path d="M209.86 7.50L217.36 14.99L209.86 22.48L202.37 14.99Z" fill="#ffede5" stroke="#fff" stroke-width="0.9"/>
<path d="M224.85 7.50L232.34 14.99L224.85 22.48L217.35 14.99Z" fill="#67000d" stroke="#fff" stroke-width="0.9"/>
<path d="M239.84 7.50L247.34 14.99L239.84 22.48L232.34 14.99Z" fill="#fee8dd" stroke="#fff" stroke-width="0.9"/>
<path d="M254.83 7.50L262.32 14.99L254.83 22.48L247.34 14.99Z" fill="#fee3d7" stroke="#fff" stroke-width="0.9"/>
<path d="M22.48 14.99L29.98 22.48L22.48 29.98L14.99 22.48Z" fill="#fff2ec" stroke="#fff" stroke-width="0.9"/>
<path d="M37.48 14.99L44.97 22.48L37.48 29.98L29.98 22.48Z" fill="#fc8969" stroke="#fff" stroke-width="0.9"/>
<path d="M52.47 14.99L59.96 22.48L52.47 29.98L44.97 22.48Z" fill="#fff3ed" stroke="#fff" stroke-width="0.9"/>
<path d="M67.45 14.99L74.95 22.48L67.45 29.98L59.96 22.48Z" fill="#fff3ed" stroke="#fff" stroke-width="0.9"/>
<path d="M82.45 14.99L89.94 22.48L82.45 29.98L74.95 22.48Z" fill="#fff2ec" stroke="#fff" stroke-width="0.9"/>
<path d="M97.44 14.99L104.93 22.48L97.44 29.98L89.94 22.48Z" fill="#ffebe2" stroke="#fff" stroke-width="0.9"/>
<path d="M112.42 14.99L119.92 22.48L112.42 29.98L104.93 22.48Z" fill="#fff3ed" stroke="#fff" stroke-width="0.9"/>
<path d="M127.42 14.99L134.91 22.48L127.42 29.98L119.92 22.48Z" fill="#fff3ed" stroke="#fff" stroke-width="0.9"/>
<path d="M142.41 14.99L149.90 22.48L142.41 29.98L134.91 22.48Z" fill="#fff2ec" stroke="#fff" stroke-width="0.9"/>
<path d="M157.40 14.99L164.89 22.48L157.40 29.98L149.90 22.48Z" fill="#fff2ec" stroke="#fff" stroke-width="0.9"/>
<path d="M172.38 14.99L179.88 22.48L172.38 29.98L164.89 22.48Z" fill="#fb6a4a" stroke="#fff" stroke-width="0.9"/>
<path d="M187.38 14.99L194.87 22.48L187.38 29.98L179.88 22.48Z" fill="#ffede5" stroke="#fff" stroke-width="0.9"/>
<path d="M202.37 14.99L209.86 22.48L202.37 29.98L194.87 22.48Z" fill="#ffebe2" stroke="#fff" stroke-width="0.9"/>
<path d="M217.35 14.99L224.85 22.48L217.35 29.98L209.86 22.48Z" fill="#fff1eb" stroke="#fff" stroke-width="0.9"/>
<path d="M232.34 14.99L239.84 22.48L232.34 29.98L224.85 22.48Z" fill="#fb6a4a" stroke="#fff" stroke-width="0.9"/>
<path d="M247.34 14.99L254.83 22.48L247.34 29.98L239.84 22.48Z" fill="#fed9c8" stroke="#fff" stroke-width="0.9"/>
<path d="M29.98 22.48L37.48 29.98L29.98 37.48L22.48 29.98Z" fill="#fca78a" stroke="#fff" stroke-width="0.9"/>
<path d="M44.97 22.48L52.46 29.98L44.97 37.48L37.48 29.98Z" fill="#fff2ec" stroke="#fff" stroke-width="0.9"/>
<path d="M59.96 22.48L67.45 29.98L59.96 37.48L52.47 29.98Z" fill="#fff3ed" stroke="#fff" stroke-width="0.9"/>
<path d="M74.95 22.48L82.45 29.98L74.95 37.48L67.45 29.98Z" fill="#eb372a" stroke="#fff" stroke-width="0.9"/>
<path d="M89.94 22.48L97.44 29.98L89.94 37.48L82.44 29.98Z" fill="#ffebe2" stroke="#fff" stroke-width="0.9"/>
<path d="M104.93 22.48L112.43 29.98L104.93 37.48L97.44 29.98Z" fill="#fcb99e" stroke="#fff" stroke-width="0.9"/>
<path d="M119.92 22.48L127.42 29.98L119.92 37.48L112.42 29.98Z" fill="#fff3ed" stroke="#fff" stroke-width="0.9"/>
<path d="M134.91 22.48L142.41 29.98L134.91 37.48L127.41 29.98Z" fill="#fff2ec" stroke="#fff" stroke-width="0.9"/>
<path d="M149.90 22.48L157.40 29.98L149.90 37.48L142.41 29.98Z" fill="#fff1eb" stroke="#fff" stroke-width="0.9"/>
<path d="M164.89 22.48L172.39 29.98L164.89 37.48L157.40 29.98Z" fill="#fee3d7" stroke="#fff" stroke-width="0.9"/>
<path d="M179.88 22.48L187.38 29.98L179.88 37.48L172.38 29.98Z" fill="#ffede5" stroke="#fff" stroke-width="0.9"/>
<path d="M194.87 22.48L202.37 29.98L194.87 37.48L187.38 29.98Z" fill="#ffebe2" stroke="#fff" stroke-width="0.9"/>
<path d="M209.86 22.48L217.36 29.98L209.86 37.48L202.37 29.98Z" fill="#fc8969" stroke="#fff" stroke-width="0.9"/>
<path d="M224.85 22.48L232.34 29.98L224.85 37.48L217.35 29.98Z" fill="#fff1eb" stroke="#fff" stroke-width="0.9"/>
<path d="M239.84 22.48L247.34 29.98L239.84 37.48L232.34 29.98Z" fill="#67000d" stroke="#fff" stroke-width="0.9"/>
<path d="M37.48 29.98L44.97 37.48L37.48 44.97L29.98 37.48Z" fill="#fff1eb" stroke="#fff" stroke-width="0.9"/>
<path d="M52.47 29.98L59.96 37.48L52.47 44.97L44.97 37.48Z" fill="#fff2ec" stroke="#fff" stroke-width="0.9"/>
<path d="M67.45 29.98L74.95 37.48L67.45 44.97L59.96 37.48Z" fill="#fcb99e" stroke="#fff" stroke-width="0.9"/>
<path d="M82.45 29.98L89.94 37.48L82.45 44.97L74.95 37.48Z" fill="#fff2ec" stroke="#fff" stroke-width="0.9"/>
<path d="M97.44 29.98L104.93 37.48L97.44 44.97L89.94 37.48Z" fill="#fff2ec" stroke="#fff" stroke-width="0.9"/>
<path d="M112.42 29.98L119.92 37.48L112.42 44.97L104.93 37.48Z" fill="#fb6a4a" stroke="#fff" stroke-width="0.9"/>
<path d="M127.42 29.98L134.91 37.48L127.42 44.97L119.92 37.48Z" fill="#fff2ec" stroke="#fff" stroke-width="0.9"/>
<path d="M142.41 29.98L149.90 37.48L142.41 44.97L134.91 37.48Z" fill="#fff2ec" stroke="#fff" stroke-width="0.9"/>
<path d="M157.40 29.98L164.89 37.48L157.40 44.97L149.90 37.48Z" fill="#fb6a4a" stroke="#fff" stroke-width="0.9"/>
<path d="M172.38 29.98L179.88 37.48L172.38 44.97L164.89 37.48Z" fill="#fb6a4a" stroke="#fff" stroke-width="0.9"/>
<path d="M187.38 29.98L194.87 37.48L187.38 44.97L179.88 37.48Z" fill="#ffebe2" stroke="#fff" stroke-width="0.9"/>
<path d="M202.37 29.98L209.86 37.48L202.37 44.97L194.87 37.48Z" fill="#fc8969" stroke="#fff" stroke-width="0.9"/>
<path d="M217.35 29.98L224.85 37.48L217.35 44.97L209.86 37.48Z" fill="#fff2ec" stroke="#fff" stroke-width="0.9"/>
<path d="M232.34 29.98L239.84 37.48L232.34 44.97L224.85 37.48Z" fill="#fff0e9" stroke="#fff" stroke-width="0.9"/>
<path d="M44.97 37.48L52.46 44.97L44.97 52.46L37.48 44.97Z" fill="#fff1eb" stroke="#fff" stroke-width="0.9"/>
<path d="M59.96 37.48L67.45 44.97L59.96 52.46L52.47 44.97Z" fill="#eb372a" stroke="#fff" stroke-width="0.9"/>
<path d="M74.95 37.48L82.45 44.97L74.95 52.46L67.45 44.97Z" fill="#fff0e9" stroke="#fff" stroke-width="0.9"/>
<path d="M89.94 37.48L97.44 44.97L89.94 52.46L82.44 44.97Z" fill="#eb372a" stroke="#fff" stroke-width="0.9"/>
<path d="M104.93 37.48L112.43 44.97L104.93 52.46L97.44 44.97Z" fill="#fff2ec" stroke="#fff" stroke-width="0.9"/>
<path d="M119.92 37.48L127.42 44.97L119.92 52.46L112.42 44.97Z" fill="#fb6a4a" stroke="#fff" stroke-width="0.9"/>
<path d="M134.91 37.48L142.41 44.97L134.91 52.46L127.41 44.97Z" fill="#fff2ec" stroke="#fff" stroke-width="0.9"/>
<path d="M149.90 37.48L157.40 44.97L149.90 52.46L142.41 44.97Z" fill="#fff2ec" stroke="#fff" stroke-width="0.9"/>
<path d="M164.89 37.48L172.39 44.97L164.89 52.46L157.40 44.97Z" fill="#fee8dd" stroke="#fff" stroke-width="0.9"/>
<path d="M179.88 37.48L187.38 44.97L179.88 52.46L172.38 44.97Z" fill="#67000d" stroke="#fff" stroke-width="0.9"/>
<path d="M194.87 37.48L202.37 44.97L194.87 52.46L187.38 44.97Z" fill="#fb6a4a" stroke="#fff" stroke-width="0.9"/>
<path d="M209.86 37.48L217.36 44.97L209.86 52.46L202.37 44.97Z" fill="#fff1eb" stroke="#fff" stroke-width="0.9"/>
<path d="M224.85 37.48L232.34 44.97L224.85 52.46L217.35 44.97Z" fill="#fc8969" stroke="#fff" stroke-width="0.9"/>
<path d="M52.47 44.97L59.96 52.47L52.47 59.96L44.97 52.47Z" fill="#fff0e9" stroke="#fff" stroke-width="0.9"/>
<path d="M67.45 44.97L74.95 52.47L67.45 59.96L59.96 52.47Z" fill="#fff0e9" stroke="#fff" stroke-width="0.9"/>
<path d="M82.45 44.97L89.94 52.47L82.45 59.96L74.95 52.47Z" fill="#fcb99e" stroke="#fff" stroke-width="0.9"/>
<path d="M97.44 44.97L104.93 52.47L97.44 59.96L89.94 52.47Z" fill="#fff2ec" stroke="#fff" stroke-width="0.9"/>
<path d="M112.42 44.97L119.92 52.47L112.42 59.96L104.93 52.47Z" fill="#fff2ec" stroke="#fff" stroke-width="0.9"/>
<path d="M127.42 44.97L134.91 52.47L127.42 59.96L119.92 52.47Z" fill="#fff0e9" stroke="#fff" stroke-width="0.9"/>
<path d="M142.41 44.97L149.90 52.47L142.41 59.96L134.91 52.47Z" fill="#fff2ec" stroke="#fff" stroke-width="0.9"/>
<path d="M157.40 44.97L164.89 52.47L157.40 59.96L149.90 52.47Z" fill="#fff2ec" stroke="#fff" stroke-width="0.9"/>
<path d="M172.38 44.97L179.88 52.47L172.38 59.96L164.89 52.47Z" fill="#ffede5" stroke="#fff" stroke-width="0.9"/>
<path d="M187.38 44.97L194.87 52.47L187.38 59.96L179.88 52.47Z" fill="#fee3d7" stroke="#fff" stroke-width="0.9"/>
<path d="M202.37 44.97L209.86 52.47L202.37 59.96L194.87 52.47Z" fill="#67000d" stroke="#fff" stroke-width="0.9"/>
<path d="M217.35 44.97L224.85 52.47L217.35 59.96L209.86 52.47Z" fill="#fc8969" stroke="#fff" stroke-width="0.9"/>
<path d="M59.96 52.47L67.45 59.96L59.96 67.45L52.47 59.96Z" fill="#fee8dd" stroke="#fff" stroke-width="0.9"/>
<path d="M74.95 52.47L82.45 59.96L74.95 67.45L67.45 59.96Z" fill="#eb372a" stroke="#fff" stroke-width="0.9"/>
<path d="M89.94 52.47L97.44 59.96L89.94 67.45L82.44 59.96Z" fill="#fff2ec" stroke="#fff" stroke-width="0.9"/>
<path d="M104.93 52.47L112.43 59.96L104.93 67.45L97.44 59.96Z" fill="#fff2ec" stroke="#fff" stroke-width="0.9"/>
<path d="M119.92 52.47L127.42 59.96L119.92 67.45L112.42 59.96Z" fill="#fc8969" stroke="#fff" stroke-width="0.9"/>
<path d="M134.91 52.47L142.41 59.96L134.91 67.45L127.41 59.96Z" fill="#ae1117" stroke="#fff" stroke-width="0.9"/>
<path d="M149.90 52.47L157.40 59.96L149.90 67.45L142.41 59.96Z" fill="#fff2ec" stroke="#fff" stroke-width="0.9"/>
<path d="M164.89 52.47L172.39 59.96L164.89 67.45L157.40 59.96Z" fill="#fff1eb" stroke="#fff" stroke-width="0.9"/>
<path d="M179.88 52.47L187.38 59.96L179.88 67.45L172.38 59.96Z" fill="#fb6a4a" stroke="#fff" stroke-width="0.9"/>
<path d="M194.87 52.47L202.37 59.96L194.87 67.45L187.38 59.96Z" fill="#ffebe2" stroke="#fff" stroke-width="0.9"/>
<path d="M209.86 52.47L217.36 59.96L209.86 67.45L202.37 59.96Z" fill="#fb6a4a" stroke="#fff" stroke-width="0.9"/>
<path d="M67.45 59.96L74.95 67.45L67.45 74.95L59.96 67.45Z" fill="#ffede5" stroke="#fff" stroke-width="0.9"/>
<path d="M82.45 59.96L89.94 67.45L82.45 74.95L74.95 67.45Z" fill="#fff2ec" stroke="#fff" stroke-width="0.9"/>
<path d="M97.44 59.96L104.93 67.45L97.44 74.95L89.94 67.45Z" fill="#fff2ec" stroke="#fff" stroke-width="0.9"/>
<path d="M112.42 59.96L119.92 67.45L112.42 74.95L104.93 67.45Z" fill="#fff1eb" stroke="#fff" stroke-width="0.9"/>
<path d="M127.42 59.96L134.91 67.45L127.42 74.95L119.92 67.45Z" fill="#ffede5" stroke="#fff" stroke-width="0.9"/>
<path d="M142.41 59.96L149.90 67.45L142.41 74.95L134.91 67.45Z" fill="#fee3d7" stroke="#fff" stroke-width="0.9"/>
<path d="M157.40 59.96L164.89 67.45L157.40 74.95L149.90 67.45Z" fill="#fff2ec" stroke="#fff" stroke-width="0.9"/>
<path d="M172.38 59.96L179.88 67.45L172.38 74.95L164.89 67.45Z" fill="#fff1eb" stroke="#fff" stroke-width="0.9"/>
<path d="M187.38 59.96L194.87 67.45L187.38 74.95L179.88 67.45Z" fill="#67000d" stroke="#fff" stroke-width="0.9"/>
<path d="M202.37 59.96L209.86 67.45L202.37 74.95L194.87 67.45Z" fill="#fee3d7" stroke="#fff" stroke-width="0.9"/>
<path d="M74.95 67.45L82.45 74.95L74.95 82.45L67.45 74.95Z" fill="#eb372a" stroke="#fff" stroke-width="0.9"/>
<path d="M89.94 67.45L97.44 74.95L89.94 82.45L82.44 74.95Z" fill="#fff2ec" stroke="#fff" stroke-width="0.9"/>
<path d="M104.93 67.45L112.43 74.95L104.93 82.45L97.44 74.95Z" fill="#fff1eb" stroke="#fff" stroke-width="0.9"/>
<path d="M119.92 67.45L127.42 74.95L119.92 82.45L112.42 74.95Z" fill="#fca78a" stroke="#fff" stroke-width="0.9"/>
<path d="M134.91 67.45L142.41 74.95L134.91 82.45L127.41 74.95Z" fill="#fee3d7" stroke="#fff" stroke-width="0.9"/>
<path d="M149.90 67.45L157.40 74.95L149.90 82.45L142.41 74.95Z" fill="#fee8dd" stroke="#fff" stroke-width="0.9"/>
<path d="M164.89 67.45L172.39 74.95L164.89 82.45L157.40 74.95Z" fill="#fff1eb" stroke="#fff" stroke-width="0.9"/>
<path d="M179.88 67.45L187.38 74.95L179.88 82.45L172.38 74.95Z" fill="#fff0e9" stroke="#fff" stroke-width="0.9"/>
<path d="M194.87 67.45L202.37 74.95L194.87 82.45L187.38 74.95Z" fill="#fb6a4a" stroke="#fff" stroke-width="0.9"/>
<path d="M82.45 74.95L89.94 82.45L82.45 89.94L74.95 82.45Z" fill="#eb372a" stroke="#fff" stroke-width="0.9"/>
<path d="M97.44 74.95L104.93 82.45L97.44 89.94L89.94 82.45Z" fill="#fff2ec" stroke="#fff" stroke-width="0.9"/>
<path d="M112.42 74.95L119.92 82.45L112.42 89.94L104.93 82.45Z" fill="#fee3d7" stroke="#fff" stroke-width="0.9"/>
<path d="M127.42 74.95L134.91 82.45L127.42 89.94L119.92 82.45Z" fill="#ffede5" stroke="#fff" stroke-width="0.9"/>
<path d="M142.41 74.95L149.90 82.45L142.41 89.94L134.91 82.45Z" fill="#ffebe2" stroke="#fff" stroke-width="0.9"/>
<path d="M157.40 74.95L164.89 82.45L157.40 89.94L149.90 82.45Z" fill="#ae1117" stroke="#fff" stroke-width="0.9"/>
<path d="M172.38 74.95L179.88 82.45L172.38 89.94L164.89 82.45Z" fill="#fff0e9" stroke="#fff" stroke-width="0.9"/>
<path d="M187.38 74.95L194.87 82.45L187.38 89.94L179.88 82.45Z" fill="#fff1eb" stroke="#fff" stroke-width="0.9"/>
<path d="M89.94 82.44L97.44 89.94L89.94 97.44L82.44 89.94Z" fill="#fff1eb" stroke="#fff" stroke-width="0.9"/>
<path d="M104.93 82.44L112.43 89.94L104.93 97.44L97.44 89.94Z" fill="#fcb99e" stroke="#fff" stroke-width="0.9"/>
<path d="M119.92 82.44L127.42 89.94L119.92 97.44L112.42 89.94Z" fill="#fff0e9" stroke="#fff" stroke-width="0.9"/>
<path d="M134.91 82.44L142.41 89.94L134.91 97.44L127.41 89.94Z" fill="#fff0e9" stroke="#fff" stroke-width="0.9"/>
<path d="M149.90 82.44L157.40 89.94L149.90 97.44L142.41 89.94Z" fill="#fff1eb" stroke="#fff" stroke-width="0.9"/>
<path d="M164.89 82.44L172.39 89.94L164.89 97.44L157.40 89.94Z" fill="#fdc9b3" stroke="#fff" stroke-width="0.9"/>
<path d="M179.88 82.44L187.38 89.94L179.88 97.44L172.38 89.94Z" fill="#fff2ec" stroke="#fff" stroke-width="0.9"/>
<path d="M97.44 89.94L104.93 97.44L97.44 104.93L89.94 97.44Z" fill="#fb6a4a" stroke="#fff" stroke-width="0.9"/>
<path d="M112.42 89.94L119.92 97.44L112.42 104.93L104.93 97.44Z" fill="#ffebe2" stroke="#fff" stroke-width="0.9"/>
<path d="M127.42 89.94L134.91 97.44L127.42 104.93L119.92 97.44Z" fill="#fff1eb" stroke="#fff" stroke-width="0.9"/>
<path d="M142.41 89.94L149.90 97.44L142.41 104.93L134.91 97.44Z" fill="#fca78a" stroke="#fff" stroke-width="0.9"/>
<path d="M157.40 89.94L164.89 97.44L157.40 104.93L149.90 97.44Z" fill="#ffede5" stroke="#fff" stroke-width="0.9"/>
<path d="M172.38 89.94L179.88 97.44L172.38 104.93L164.89 97.44Z" fill="#ae1117" stroke="#fff" stroke-width="0.9"/>
<path d="M104.93 97.44L112.43 104.93L104.93 112.43L97.44 104.93Z" fill="#ffebe2" stroke="#fff" stroke-width="0.9"/>
<path d="M119.92 97.44L127.42 104.93L119.92 112.43L112.42 104.93Z" fill="#ffede5" stroke="#fff" stroke-width="0.9"/>
<path d="M134.91 97.44L142.41 104.93L134.91 112.43L127.41 104.93Z" fill="#fed9c8" stroke="#fff" stroke-width="0.9"/>
<path d="M149.90 97.44L157.40 104.93L149.90 112.43L142.41 104.93Z" fill="#eb372a" stroke="#fff" stroke-width="0.9"/>
<path d="M164.89 97.44L172.39 104.93L164.89 112.43L157.40 104.93Z" fill="#fff0e9" stroke="#fff" stroke-width="0.9"/>
<path d="M112.42 104.93L119.92 112.42L112.42 119.92L104.93 112.42Z" fill="#ffebe2" stroke="#fff" stroke-width="0.9"/>
<path d="M127.42 104.93L134.91 112.42L127.42 119.92L119.92 112.42Z" fill="#fca78a" stroke="#fff" stroke-width="0.9"/>
<path d="M142.41 104.93L149.90 112.42L142.41 119.92L134.91 112.42Z" fill="#fdc9b3" stroke="#fff" stroke-width="0.9"/>
<path d="M157.40 104.93L164.89 112.42L157.40 119.92L149.90 112.42Z" fill="#fca78a" stroke="#fff" stroke-width="0.9"/>
<path d="M119.92 112.42L127.42 119.92L119.92 127.42L112.42 119.92Z" fill="#f6573e" stroke="#fff" stroke-width="0.9"/>
<path d="M134.91 112.42L142.41 119.92L134.91 127.42L127.41 119.92Z" fill="#dc2924" stroke="#fff" stroke-width="0.9"/>
<path d="M149.90 112.42L157.40 119.92L149.90 127.42L142.41 119.92Z" fill="#fee3d7" stroke="#fff" stroke-width="0.9"/>
<path d="M127.42 119.92L134.91 127.42L127.42 134.91L119.92 127.42Z" fill="#ffede5" stroke="#fff" stroke-width="0.9"/>
<path d="M142.41 119.92L149.90 127.42L142.41 134.91L134.91 127.42Z" fill="#fca78a" stroke="#fff" stroke-width="0.9"/>
<path d="M134.91 127.41L142.41 134.91L134.91 142.41L127.41 134.91Z" fill="#fb6a4a" stroke="#fff" stroke-width="0.9"/>
</g>
<defs><linearGradient id="rg" x1="0" y1="1" x2="0" y2="0"><stop offset="0.000" stop-color="#FFF5F0"/><stop offset="0.125" stop-color="#FEE0D2"/><stop offset="0.250" stop-color="#FCBBA1"/><stop offset="0.375" stop-color="#FC9272"/><stop offset="0.500" stop-color="#FB6A4A"/><stop offset="0.625" stop-color="#EF3B2C"/><stop offset="0.750" stop-color="#CB181D"/><stop offset="0.875" stop-color="#A50F15"/><stop offset="1.000" stop-color="#67000D"/></linearGradient></defs>
<rect x="280.80" y="182.00" width="4.20" height="76.50" fill="url(#rg)" />
<text x="287.00" y="261.55" font-size="8.5" fill="#1a1a1a" text-anchor="start" font-weight="normal" >0.0</text>
<text x="287.00" y="246.25" font-size="8.5" fill="#1a1a1a" text-anchor="start" font-weight="normal" >0.2</text>
<text x="287.00" y="230.95" font-size="8.5" fill="#1a1a1a" text-anchor="start" font-weight="normal" >0.4</text>
<text x="287.00" y="215.65" font-size="8.5" fill="#1a1a1a" text-anchor="start" font-weight="normal" >0.6</text>
<text x="287.00" y="200.35" font-size="8.5" fill="#1a1a1a" text-anchor="start" font-weight="normal" >0.8</text>
<text x="287.00" y="185.05" font-size="8.5" fill="#1a1a1a" text-anchor="start" font-weight="normal" >1.0</text>
<text x="287.4" y="166.0" font-size="8.5" fill="#1a1a1a">r<tspan font-size="5.5" dy="-3.5">2</tspan></text>
<rect x="650.10" y="183.30" width="4.00" height="77.20" fill="url(#rg)" />
<text x="656.50" y="263.55" font-size="8.5" fill="#1a1a1a" text-anchor="start" font-weight="normal" >0.0</text>
<text x="656.50" y="248.11" font-size="8.5" fill="#1a1a1a" text-anchor="start" font-weight="normal" >0.2</text>
<text x="656.50" y="232.67" font-size="8.5" fill="#1a1a1a" text-anchor="start" font-weight="normal" >0.4</text>
<text x="656.50" y="217.23" font-size="8.5" fill="#1a1a1a" text-anchor="start" font-weight="normal" >0.6</text>
<text x="656.50" y="201.79" font-size="8.5" fill="#1a1a1a" text-anchor="start" font-weight="normal" >0.8</text>
<text x="656.50" y="186.35" font-size="8.5" fill="#1a1a1a" text-anchor="start" font-weight="normal" >1.0</text>
<text x="656.8" y="167.5" font-size="8.5" fill="#1a1a1a">r<tspan font-size="5.5" dy="-3.5">2</tspan></text>
<text x="20.00" y="185.90" font-size="11.6" fill="#1a1a1a" text-anchor="start" font-weight="normal" >African</text>
<text x="360.20" y="186.80" font-size="10.4" fill="#1a1a1a" text-anchor="start" font-weight="normal" >European</text>
<text x="0.00" y="13.10" font-size="14" fill="#111" text-anchor="start" font-weight="bold" >a</text>
<text x="331.30" y="13.80" font-size="14" fill="#111" text-anchor="start" font-weight="bold" >b</text>
<text x="-0.60" y="274.60" font-size="14" fill="#111" text-anchor="start" font-weight="bold" >c</text>
<text x="332.40" y="274.00" font-size="14" fill="#111" text-anchor="start" font-weight="bold" >d</text>
<text x="-0.30" y="507.40" font-size="14" fill="#111" text-anchor="start" font-weight="bold" >e</text>
<text x="331.80" y="507.20" font-size="14" fill="#111" text-anchor="start" font-weight="bold" >f</text>
<path d="M40.4 423.8L57.0 423.8L57.0 431.7L55.8 432.8L41.6 432.8L40.4 431.7ZM48.0 424.3l-1.8 -3.1h3.6ZM48.2 424.4l-1.8 -3.1h3.6ZM43.9 424.4l-1.8 -3.1h3.6ZM53.1 422.1l1.8 3.1h-3.6ZM42.5 423.4l-1.8 -3.1h3.6ZM41.8 422.8l-1.8 -3.1h3.6ZM51.0 420.3l1.8 3.1h-3.6ZM41.4 420.6l1.8 3.1h-3.6ZM44.0 421.6l1.8 3.1h-3.6ZM48.2 424.7l-1.8 -3.1h3.6ZM49.0 420.2l1.8 3.1h-3.6ZM51.2 420.9l1.8 3.1h-3.6ZM56.2 422.7l-1.8 -3.1h3.6ZM51.8 421.4l1.8 3.1h-3.6ZM45.5 426.0l-1.8 -3.1h3.6ZM47.2 419.5l1.8 3.1h-3.6ZM55.6 419.5l1.8 3.1h-3.6ZM44.3 419.3l1.8 3.1h-3.6ZM55.9 421.1l1.8 3.1h-3.6ZM50.7 419.7l1.8 3.1h-3.6ZM42.5 425.1l-1.8 -3.1h3.6ZM52.6 422.1l1.8 3.1h-3.6ZM40.7 425.1l1.8 3.1h-3.6ZM41.2 431.3l-1.8 -3.1h3.6ZM41.2 425.8l1.8 3.1h-3.6ZM40.7 425.4l-1.8 -3.1h3.6ZM56.7 429.0l1.8 3.1h-3.6ZM40.7 427.9l1.8 3.1h-3.6ZM41.6 426.3l1.8 3.1h-3.6ZM40.7 431.1l-1.8 -3.1h3.6ZM42.1 423.1l-1.8 -3.1h3.6ZM43.6 422.5l-1.8 -3.1h3.6ZM43.7 423.0l-1.8 -3.1h3.6ZM46.1 423.5l-1.8 -3.1h3.6ZM51.8 423.7l-1.8 -3.1h3.6ZM49.4 418.4l1.8 3.1h-3.6ZM48.5 420.2l1.8 3.1h-3.6ZM43.3 418.9l1.8 3.1h-3.6ZM52.0 419.3l1.8 3.1h-3.6ZM54.2 422.7l-1.8 -3.1h3.6Z" fill="#2a7b78"/>
<path d="M56.8 422.6L73.5 422.6L73.5 431.7L72.3 432.8L58.0 432.8L56.8 431.7ZM71.7 417.9l1.8 3.1h-3.6ZM64.9 422.8l-1.8 -3.1h3.6ZM58.8 424.3l-1.8 -3.1h3.6ZM68.9 421.1l1.8 3.1h-3.6ZM61.4 421.1l1.8 3.1h-3.6ZM65.7 417.9l1.8 3.1h-3.6ZM59.7 419.7l1.8 3.1h-3.6ZM68.7 423.2l-1.8 -3.1h3.6ZM66.5 418.0l1.8 3.1h-3.6ZM63.0 420.2l1.8 3.1h-3.6ZM66.7 421.0l1.8 3.1h-3.6ZM62.3 420.8l1.8 3.1h-3.6ZM64.5 420.0l1.8 3.1h-3.6ZM71.8 418.7l1.8 3.1h-3.6ZM72.2 420.1l1.8 3.1h-3.6ZM64.8 424.8l-1.8 -3.1h3.6ZM71.9 421.2l1.8 3.1h-3.6ZM57.9 419.0l1.8 3.1h-3.6ZM57.8 421.0l1.8 3.1h-3.6ZM59.4 420.4l1.8 3.1h-3.6ZM62.6 421.8l-1.8 -3.1h3.6ZM64.6 423.4l-1.8 -3.1h3.6ZM57.5 428.3l1.8 3.1h-3.6ZM57.7 426.8l-1.8 -3.1h3.6ZM73.1 425.5l1.8 3.1h-3.6ZM57.8 421.7l1.8 3.1h-3.6ZM72.6 426.8l1.8 3.1h-3.6ZM72.3 428.7l-1.8 -3.1h3.6ZM58.2 429.1l-1.8 -3.1h3.6ZM72.3 427.9l1.8 3.1h-3.6ZM70.6 419.0l1.8 3.1h-3.6ZM71.8 413.9l1.8 3.1h-3.6ZM64.8 417.0l-1.8 -3.1h3.6ZM63.6 419.6l-1.8 -3.1h3.6ZM68.2 417.6l-1.8 -3.1h3.6ZM62.7 413.9l1.8 3.1h-3.6ZM66.7 414.9l1.8 3.1h-3.6ZM63.2 418.8l-1.8 -3.1h3.6ZM67.1 416.6l1.8 3.1h-3.6ZM68.9 421.3l-1.8 -3.1h3.6Z" fill="#7b1a1a"/>
<path d="M73.3 423.8L90.0 423.8L90.0 431.7L88.8 432.8L74.5 432.8L73.3 431.7ZM86.2 419.0l1.8 3.1h-3.6ZM75.8 424.3l-1.8 -3.1h3.6ZM79.7 422.2l1.8 3.1h-3.6ZM86.6 425.3l-1.8 -3.1h3.6ZM85.5 420.6l1.8 3.1h-3.6ZM77.6 423.5l-1.8 -3.1h3.6ZM88.4 424.5l-1.8 -3.1h3.6ZM76.5 423.2l-1.8 -3.1h3.6ZM77.5 424.8l-1.8 -3.1h3.6ZM80.0 420.9l1.8 3.1h-3.6ZM87.5 426.2l-1.8 -3.1h3.6ZM84.0 424.5l-1.8 -3.1h3.6ZM79.3 425.1l-1.8 -3.1h3.6ZM75.6 423.2l-1.8 -3.1h3.6ZM88.1 422.0l1.8 3.1h-3.6ZM80.0 422.2l1.8 3.1h-3.6ZM88.9 419.2l1.8 3.1h-3.6ZM85.0 426.2l-1.8 -3.1h3.6ZM74.7 421.3l1.8 3.1h-3.6ZM78.3 419.2l1.8 3.1h-3.6ZM87.2 421.0l1.8 3.1h-3.6ZM82.2 423.8l-1.8 -3.1h3.6ZM88.7 428.4l-1.8 -3.1h3.6ZM89.7 428.6l-1.8 -3.1h3.6ZM74.5 429.1l-1.8 -3.1h3.6ZM74.3 425.6l-1.8 -3.1h3.6ZM89.3 424.6l-1.8 -3.1h3.6ZM74.0 431.7l-1.8 -3.1h3.6ZM89.2 431.2l-1.8 -3.1h3.6ZM74.4 432.7l-1.8 -3.1h3.6ZM81.9 422.8l-1.8 -3.1h3.6ZM82.5 422.4l-1.8 -3.1h3.6ZM75.7 418.5l1.8 3.1h-3.6ZM87.9 417.2l1.8 3.1h-3.6ZM81.3 420.0l1.8 3.1h-3.6ZM86.0 417.2l1.8 3.1h-3.6ZM79.2 423.5l-1.8 -3.1h3.6ZM87.5 423.7l-1.8 -3.1h3.6ZM75.1 419.7l1.8 3.1h-3.6ZM84.2 419.3l1.8 3.1h-3.6Z" fill="#ff00ff"/>
<path d="M89.8 424.4L106.5 424.4L106.5 431.7L105.3 432.8L91.0 432.8L89.8 431.7ZM100.0 426.4l-1.8 -3.1h3.6ZM92.5 421.3l1.8 3.1h-3.6ZM93.6 421.2l1.8 3.1h-3.6ZM96.3 425.4l-1.8 -3.1h3.6ZM93.0 426.1l-1.8 -3.1h3.6ZM100.3 425.0l-1.8 -3.1h3.6ZM99.9 420.0l1.8 3.1h-3.6ZM101.8 424.0l-1.8 -3.1h3.6ZM95.4 425.7l-1.8 -3.1h3.6ZM93.9 423.3l-1.8 -3.1h3.6ZM92.6 426.0l-1.8 -3.1h3.6ZM94.5 426.5l-1.8 -3.1h3.6ZM97.0 420.3l1.8 3.1h-3.6ZM96.7 420.6l1.8 3.1h-3.6ZM93.7 424.4l-1.8 -3.1h3.6ZM105.2 426.4l-1.8 -3.1h3.6ZM102.1 425.0l-1.8 -3.1h3.6ZM93.5 422.8l1.8 3.1h-3.6ZM91.2 424.9l-1.8 -3.1h3.6ZM99.2 422.5l1.8 3.1h-3.6ZM93.7 423.9l-1.8 -3.1h3.6ZM104.6 422.7l1.8 3.1h-3.6ZM105.1 428.4l1.8 3.1h-3.6ZM105.6 429.4l-1.8 -3.1h3.6ZM90.9 428.9l1.8 3.1h-3.6ZM105.6 423.1l1.8 3.1h-3.6ZM90.9 432.2l-1.8 -3.1h3.6ZM106.1 426.4l-1.8 -3.1h3.6ZM105.7 431.4l-1.8 -3.1h3.6ZM106.0 430.9l-1.8 -3.1h3.6ZM101.5 422.5l-1.8 -3.1h3.6ZM96.9 422.1l-1.8 -3.1h3.6ZM100.8 422.5l-1.8 -3.1h3.6ZM96.9 418.9l1.8 3.1h-3.6ZM96.0 419.6l1.8 3.1h-3.6ZM96.2 422.9l-1.8 -3.1h3.6ZM94.5 422.0l-1.8 -3.1h3.6ZM95.9 422.8l-1.8 -3.1h3.6ZM98.6 423.6l-1.8 -3.1h3.6ZM100.1 422.7l-1.8 -3.1h3.6Z" fill="#ffcc00"/>
<path d="M106.3 425.6L123.0 425.6L123.0 431.7L121.8 432.8L107.5 432.8L106.3 431.7ZM121.9 427.9l-1.8 -3.1h3.6ZM118.3 423.3l1.8 3.1h-3.6ZM107.9 423.5l1.8 3.1h-3.6ZM108.6 427.1l-1.8 -3.1h3.6ZM115.4 426.2l-1.8 -3.1h3.6ZM115.7 424.5l-1.8 -3.1h3.6ZM119.3 427.7l-1.8 -3.1h3.6ZM118.6 427.8l-1.8 -3.1h3.6ZM109.5 422.6l1.8 3.1h-3.6ZM114.6 422.1l1.8 3.1h-3.6ZM121.4 426.5l-1.8 -3.1h3.6ZM116.1 422.9l1.8 3.1h-3.6ZM117.0 422.3l1.8 3.1h-3.6ZM117.9 423.2l1.8 3.1h-3.6ZM110.8 424.1l1.8 3.1h-3.6ZM118.5 426.6l-1.8 -3.1h3.6ZM118.4 427.8l-1.8 -3.1h3.6ZM121.4 427.7l-1.8 -3.1h3.6ZM113.6 426.3l-1.8 -3.1h3.6ZM110.8 426.1l-1.8 -3.1h3.6ZM118.0 426.3l-1.8 -3.1h3.6ZM119.4 422.1l1.8 3.1h-3.6ZM122.1 427.8l1.8 3.1h-3.6ZM106.8 429.9l-1.8 -3.1h3.6ZM122.2 428.5l-1.8 -3.1h3.6ZM122.4 429.2l-1.8 -3.1h3.6ZM122.4 427.5l1.8 3.1h-3.6ZM122.4 424.8l1.8 3.1h-3.6ZM122.2 427.9l-1.8 -3.1h3.6ZM107.4 423.9l1.8 3.1h-3.6ZM111.2 419.0l-1.8 -3.1h3.6ZM119.8 421.9l1.8 3.1h-3.6ZM111.5 422.9l-1.8 -3.1h3.6ZM109.2 418.4l1.8 3.1h-3.6ZM109.0 421.2l-1.8 -3.1h3.6ZM116.5 419.5l1.8 3.1h-3.6ZM110.7 423.5l-1.8 -3.1h3.6ZM119.3 421.7l1.8 3.1h-3.6ZM118.9 421.5l-1.8 -3.1h3.6ZM110.7 419.2l1.8 3.1h-3.6Z" fill="#00f0f0"/>
<path d="M122.8 423.2L139.5 423.2L139.5 431.7L138.3 432.8L124.0 432.8L122.8 431.7ZM135.8 424.3l-1.8 -3.1h3.6ZM138.5 424.5l-1.8 -3.1h3.6ZM134.9 418.6l1.8 3.1h-3.6ZM129.2 425.3l-1.8 -3.1h3.6ZM124.8 425.3l-1.8 -3.1h3.6ZM130.9 419.5l1.8 3.1h-3.6ZM135.3 421.6l1.8 3.1h-3.6ZM133.6 421.6l1.8 3.1h-3.6ZM134.5 419.4l1.8 3.1h-3.6ZM125.8 424.4l-1.8 -3.1h3.6ZM129.1 425.2l-1.8 -3.1h3.6ZM132.2 422.4l-1.8 -3.1h3.6ZM137.4 424.1l-1.8 -3.1h3.6ZM128.2 420.8l1.8 3.1h-3.6ZM137.7 418.7l1.8 3.1h-3.6ZM129.1 420.6l1.8 3.1h-3.6ZM129.6 420.5l1.8 3.1h-3.6ZM132.1 422.8l-1.8 -3.1h3.6ZM136.2 419.9l1.8 3.1h-3.6ZM135.1 418.8l1.8 3.1h-3.6ZM123.9 423.8l-1.8 -3.1h3.6ZM132.2 422.2l-1.8 -3.1h3.6ZM138.1 427.8l-1.8 -3.1h3.6ZM123.5 426.7l1.8 3.1h-3.6ZM138.1 423.3l1.8 3.1h-3.6ZM138.3 430.9l-1.8 -3.1h3.6ZM138.9 425.5l1.8 3.1h-3.6ZM138.8 428.3l-1.8 -3.1h3.6ZM124.0 420.6l1.8 3.1h-3.6ZM139.0 425.4l-1.8 -3.1h3.6ZM136.5 419.1l-1.8 -3.1h3.6ZM131.5 420.3l-1.8 -3.1h3.6ZM130.1 417.9l1.8 3.1h-3.6ZM134.5 415.2l1.8 3.1h-3.6ZM126.6 418.9l1.8 3.1h-3.6ZM128.3 415.3l1.8 3.1h-3.6ZM128.5 423.0l-1.8 -3.1h3.6ZM134.9 419.0l1.8 3.1h-3.6ZM130.6 420.8l-1.8 -3.1h3.6ZM124.8 419.3l1.8 3.1h-3.6Z" fill="#ff0000"/>
<path d="M139.3 423.8L156.0 423.8L156.0 431.7L154.8 432.8L140.5 432.8L139.3 431.7ZM143.4 425.4l-1.8 -3.1h3.6ZM149.1 421.7l1.8 3.1h-3.6ZM144.3 425.6l-1.8 -3.1h3.6ZM144.8 424.3l-1.8 -3.1h3.6ZM147.3 425.3l-1.8 -3.1h3.6ZM153.9 425.0l-1.8 -3.1h3.6ZM154.5 420.8l1.8 3.1h-3.6ZM140.8 422.9l-1.8 -3.1h3.6ZM145.9 424.4l-1.8 -3.1h3.6ZM144.2 422.7l-1.8 -3.1h3.6ZM143.7 422.4l1.8 3.1h-3.6ZM145.7 423.4l-1.8 -3.1h3.6ZM149.2 421.9l1.8 3.1h-3.6ZM145.0 425.3l-1.8 -3.1h3.6ZM147.9 424.0l-1.8 -3.1h3.6ZM144.1 420.6l1.8 3.1h-3.6ZM151.7 426.2l-1.8 -3.1h3.6ZM152.9 419.6l1.8 3.1h-3.6ZM144.2 419.9l1.8 3.1h-3.6ZM147.3 424.6l-1.8 -3.1h3.6ZM148.9 419.5l1.8 3.1h-3.6ZM152.0 424.8l-1.8 -3.1h3.6ZM140.5 425.3l1.8 3.1h-3.6ZM155.1 431.6l-1.8 -3.1h3.6ZM154.9 429.4l-1.8 -3.1h3.6ZM155.3 428.6l1.8 3.1h-3.6ZM139.7 425.7l1.8 3.1h-3.6ZM140.4 429.1l1.8 3.1h-3.6ZM154.8 424.3l1.8 3.1h-3.6ZM140.6 425.5l-1.8 -3.1h3.6ZM153.1 423.4l-1.8 -3.1h3.6ZM153.6 420.2l-1.8 -3.1h3.6ZM151.1 417.5l1.8 3.1h-3.6ZM143.4 418.4l1.8 3.1h-3.6ZM145.0 419.0l1.8 3.1h-3.6ZM149.6 418.1l1.8 3.1h-3.6ZM142.2 417.1l1.8 3.1h-3.6ZM149.4 419.5l1.8 3.1h-3.6ZM141.3 421.7l-1.8 -3.1h3.6ZM142.2 424.0l-1.8 -3.1h3.6Z" fill="#1010ff"/>
<path d="M155.8 423.2L172.5 423.2L172.5 431.7L171.3 432.8L157.0 432.8L155.8 431.7ZM163.1 419.2l1.8 3.1h-3.6ZM169.0 418.6l1.8 3.1h-3.6ZM159.7 425.1l-1.8 -3.1h3.6ZM163.9 422.4l-1.8 -3.1h3.6ZM167.6 419.7l1.8 3.1h-3.6ZM168.5 424.8l-1.8 -3.1h3.6ZM164.6 421.0l1.8 3.1h-3.6ZM161.2 424.1l-1.8 -3.1h3.6ZM159.7 420.7l1.8 3.1h-3.6ZM158.1 419.4l1.8 3.1h-3.6ZM164.7 420.8l1.8 3.1h-3.6ZM165.8 423.8l-1.8 -3.1h3.6ZM159.6 422.4l-1.8 -3.1h3.6ZM167.3 422.3l-1.8 -3.1h3.6ZM157.0 423.3l-1.8 -3.1h3.6ZM158.6 420.2l1.8 3.1h-3.6ZM161.6 425.3l-1.8 -3.1h3.6ZM160.6 418.8l1.8 3.1h-3.6ZM167.6 424.8l-1.8 -3.1h3.6ZM164.8 425.4l-1.8 -3.1h3.6ZM159.1 423.0l-1.8 -3.1h3.6ZM161.6 425.1l-1.8 -3.1h3.6ZM156.4 420.8l1.8 3.1h-3.6ZM172.0 431.2l-1.8 -3.1h3.6ZM156.6 429.2l-1.8 -3.1h3.6ZM156.5 426.7l-1.8 -3.1h3.6ZM171.7 427.0l-1.8 -3.1h3.6ZM156.3 424.8l1.8 3.1h-3.6ZM171.1 425.4l1.8 3.1h-3.6ZM156.4 423.9l1.8 3.1h-3.6ZM166.1 423.1l-1.8 -3.1h3.6ZM159.3 412.3l-1.8 -3.1h3.6ZM163.7 418.8l-1.8 -3.1h3.6ZM166.7 414.7l-1.8 -3.1h3.6ZM163.9 411.9l-1.8 -3.1h3.6ZM169.0 415.0l1.8 3.1h-3.6ZM165.0 413.0l-1.8 -3.1h3.6ZM164.5 418.5l-1.8 -3.1h3.6ZM161.7 422.9l-1.8 -3.1h3.6ZM169.6 415.0l-1.8 -3.1h3.6Z" fill="#000000"/>
<path d="M172.3 426.7L189.0 426.7L189.0 431.7L187.8 432.8L173.5 432.8L172.3 431.7ZM184.4 428.1l-1.8 -3.1h3.6ZM174.1 425.0l1.8 3.1h-3.6ZM180.7 424.0l1.8 3.1h-3.6ZM183.6 423.6l1.8 3.1h-3.6ZM177.7 424.0l1.8 3.1h-3.6ZM174.1 426.0l-1.8 -3.1h3.6ZM183.1 422.4l1.8 3.1h-3.6ZM185.2 428.4l-1.8 -3.1h3.6ZM181.6 422.2l1.8 3.1h-3.6ZM185.0 428.7l-1.8 -3.1h3.6ZM187.4 425.4l1.8 3.1h-3.6ZM177.6 424.3l1.8 3.1h-3.6ZM186.6 422.5l1.8 3.1h-3.6ZM178.5 423.3l1.8 3.1h-3.6ZM173.5 422.2l1.8 3.1h-3.6ZM180.6 425.9l-1.8 -3.1h3.6ZM180.2 424.7l1.8 3.1h-3.6ZM187.0 422.2l1.8 3.1h-3.6ZM185.7 424.2l1.8 3.1h-3.6ZM175.7 426.1l-1.8 -3.1h3.6ZM176.1 423.2l1.8 3.1h-3.6ZM186.4 425.2l1.8 3.1h-3.6ZM188.6 427.6l1.8 3.1h-3.6ZM173.0 427.4l-1.8 -3.1h3.6ZM187.6 427.9l1.8 3.1h-3.6ZM172.9 428.8l-1.8 -3.1h3.6ZM188.4 430.8l-1.8 -3.1h3.6ZM173.3 427.9l1.8 3.1h-3.6ZM173.4 431.4l-1.8 -3.1h3.6ZM173.1 432.5l-1.8 -3.1h3.6ZM174.8 418.0l1.8 3.1h-3.6ZM181.8 420.2l1.8 3.1h-3.6ZM181.6 426.1l-1.8 -3.1h3.6ZM176.4 426.1l-1.8 -3.1h3.6ZM174.2 418.7l1.8 3.1h-3.6ZM186.1 423.5l-1.8 -3.1h3.6ZM181.8 427.1l-1.8 -3.1h3.6ZM174.6 426.7l-1.8 -3.1h3.6ZM186.2 421.5l1.8 3.1h-3.6ZM174.2 425.4l-1.8 -3.1h3.6Z" fill="#1f2f70"/>
<path d="M188.8 422.0L205.5 422.0L205.5 431.7L204.3 432.8L190.0 432.8L188.8 431.7ZM199.1 421.0l-1.8 -3.1h3.6ZM197.6 422.4l-1.8 -3.1h3.6ZM191.3 422.9l-1.8 -3.1h3.6ZM197.8 423.6l-1.8 -3.1h3.6ZM200.5 423.6l-1.8 -3.1h3.6ZM202.4 418.6l1.8 3.1h-3.6ZM192.6 417.3l1.8 3.1h-3.6ZM196.3 417.6l1.8 3.1h-3.6ZM198.7 422.3l-1.8 -3.1h3.6ZM197.2 421.9l-1.8 -3.1h3.6ZM190.0 420.3l1.8 3.1h-3.6ZM199.2 422.4l-1.8 -3.1h3.6ZM199.0 420.5l1.8 3.1h-3.6ZM200.1 421.6l-1.8 -3.1h3.6ZM201.3 418.0l1.8 3.1h-3.6ZM199.4 418.9l1.8 3.1h-3.6ZM193.3 422.7l-1.8 -3.1h3.6ZM198.6 419.1l1.8 3.1h-3.6ZM196.6 422.0l-1.8 -3.1h3.6ZM204.0 424.0l-1.8 -3.1h3.6ZM198.6 424.0l-1.8 -3.1h3.6ZM197.4 417.2l1.8 3.1h-3.6ZM205.0 427.7l1.8 3.1h-3.6ZM204.5 423.1l-1.8 -3.1h3.6ZM189.4 431.7l-1.8 -3.1h3.6ZM204.5 419.4l1.8 3.1h-3.6ZM205.1 419.5l1.8 3.1h-3.6ZM189.5 422.4l1.8 3.1h-3.6ZM204.6 423.3l-1.8 -3.1h3.6ZM189.6 428.8l-1.8 -3.1h3.6ZM195.5 412.2l1.8 3.1h-3.6ZM195.0 420.9l-1.8 -3.1h3.6ZM192.5 417.0l1.8 3.1h-3.6ZM196.7 416.1l1.8 3.1h-3.6ZM203.9 416.8l-1.8 -3.1h3.6ZM193.1 415.5l1.8 3.1h-3.6ZM199.7 415.7l1.8 3.1h-3.6ZM190.5 417.2l1.8 3.1h-3.6ZM195.6 414.8l-1.8 -3.1h3.6ZM193.9 415.7l1.8 3.1h-3.6Z" fill="#2f7d12"/>
<path d="M205.3 425.0L221.9 425.0L221.9 431.7L220.7 432.8L206.5 432.8L205.3 431.7ZM220.2 426.1l-1.8 -3.1h3.6ZM217.0 420.4l1.8 3.1h-3.6ZM210.9 422.3l1.8 3.1h-3.6ZM219.4 426.3l-1.8 -3.1h3.6ZM213.9 423.5l1.8 3.1h-3.6ZM209.7 423.5l1.8 3.1h-3.6ZM215.0 423.5l1.8 3.1h-3.6ZM212.5 421.7l1.8 3.1h-3.6ZM216.7 426.5l-1.8 -3.1h3.6ZM216.1 423.1l1.8 3.1h-3.6ZM210.3 421.1l1.8 3.1h-3.6ZM211.9 420.6l1.8 3.1h-3.6ZM210.5 422.4l1.8 3.1h-3.6ZM206.7 427.3l-1.8 -3.1h3.6ZM214.6 424.6l-1.8 -3.1h3.6ZM210.6 425.0l-1.8 -3.1h3.6ZM209.3 425.0l-1.8 -3.1h3.6ZM220.5 420.6l1.8 3.1h-3.6ZM215.6 423.3l1.8 3.1h-3.6ZM212.0 423.4l1.8 3.1h-3.6ZM211.0 421.9l1.8 3.1h-3.6ZM208.4 422.2l1.8 3.1h-3.6ZM206.0 427.5l-1.8 -3.1h3.6ZM221.5 423.1l1.8 3.1h-3.6ZM221.3 428.8l-1.8 -3.1h3.6ZM206.6 432.1l-1.8 -3.1h3.6ZM220.8 430.1l-1.8 -3.1h3.6ZM221.0 426.7l1.8 3.1h-3.6ZM205.6 426.8l1.8 3.1h-3.6ZM220.8 424.1l1.8 3.1h-3.6ZM213.2 423.2l-1.8 -3.1h3.6ZM211.7 423.3l-1.8 -3.1h3.6ZM217.3 423.1l-1.8 -3.1h3.6ZM212.4 420.1l1.8 3.1h-3.6ZM218.1 418.5l1.8 3.1h-3.6ZM219.2 421.5l1.8 3.1h-3.6ZM213.7 420.5l1.8 3.1h-3.6ZM220.1 421.1l1.8 3.1h-3.6ZM209.9 419.2l1.8 3.1h-3.6ZM206.8 419.7l1.8 3.1h-3.6Z" fill="#b88878"/>
<path d="M221.7 426.1L238.4 426.1L238.4 431.7L237.2 432.8L222.9 432.8L221.7 431.7ZM226.2 426.8l-1.8 -3.1h3.6ZM230.8 426.4l-1.8 -3.1h3.6ZM235.1 421.4l1.8 3.1h-3.6ZM227.8 421.7l1.8 3.1h-3.6ZM233.3 426.1l-1.8 -3.1h3.6ZM237.1 421.9l1.8 3.1h-3.6ZM231.9 426.8l-1.8 -3.1h3.6ZM228.1 427.6l-1.8 -3.1h3.6ZM230.6 424.0l1.8 3.1h-3.6ZM227.4 428.0l-1.8 -3.1h3.6ZM224.4 424.6l1.8 3.1h-3.6ZM224.1 422.3l1.8 3.1h-3.6ZM229.4 422.1l1.8 3.1h-3.6ZM225.0 425.5l-1.8 -3.1h3.6ZM223.4 427.7l-1.8 -3.1h3.6ZM234.6 427.2l-1.8 -3.1h3.6ZM226.3 422.3l1.8 3.1h-3.6ZM227.6 425.9l-1.8 -3.1h3.6ZM235.0 422.8l1.8 3.1h-3.6ZM233.2 426.4l-1.8 -3.1h3.6ZM234.6 424.4l1.8 3.1h-3.6ZM232.6 424.0l1.8 3.1h-3.6ZM222.6 428.5l-1.8 -3.1h3.6ZM222.4 427.5l1.8 3.1h-3.6ZM237.4 424.8l1.8 3.1h-3.6ZM222.9 428.5l1.8 3.1h-3.6ZM237.4 429.5l-1.8 -3.1h3.6ZM237.3 432.8l-1.8 -3.1h3.6ZM237.1 428.8l1.8 3.1h-3.6ZM237.2 424.6l1.8 3.1h-3.6ZM225.2 424.2l-1.8 -3.1h3.6ZM226.2 425.4l-1.8 -3.1h3.6ZM229.3 423.1l-1.8 -3.1h3.6ZM235.5 419.1l1.8 3.1h-3.6ZM225.3 419.1l1.8 3.1h-3.6ZM231.0 421.6l1.8 3.1h-3.6ZM227.7 422.4l1.8 3.1h-3.6ZM230.8 420.5l1.8 3.1h-3.6ZM223.3 423.4l-1.8 -3.1h3.6ZM223.3 421.4l1.8 3.1h-3.6Z" fill="#33ee33"/>
<path d="M238.2 420.9L254.9 420.9L254.9 431.7L253.7 432.8L239.4 432.8L238.2 431.7ZM250.9 416.0l1.8 3.1h-3.6ZM239.5 422.1l-1.8 -3.1h3.6ZM247.4 422.5l-1.8 -3.1h3.6ZM251.5 418.6l1.8 3.1h-3.6ZM243.4 422.4l-1.8 -3.1h3.6ZM247.7 416.2l1.8 3.1h-3.6ZM252.0 420.0l-1.8 -3.1h3.6ZM249.2 418.6l1.8 3.1h-3.6ZM247.4 419.3l1.8 3.1h-3.6ZM252.4 419.3l1.8 3.1h-3.6ZM250.6 418.6l1.8 3.1h-3.6ZM253.0 417.8l1.8 3.1h-3.6ZM247.1 420.9l-1.8 -3.1h3.6ZM250.6 416.2l1.8 3.1h-3.6ZM251.7 421.9l-1.8 -3.1h3.6ZM248.4 419.5l1.8 3.1h-3.6ZM243.9 420.7l-1.8 -3.1h3.6ZM243.2 419.8l-1.8 -3.1h3.6ZM245.8 418.4l1.8 3.1h-3.6ZM248.9 417.4l1.8 3.1h-3.6ZM242.3 418.9l1.8 3.1h-3.6ZM241.0 418.5l1.8 3.1h-3.6ZM253.6 427.5l1.8 3.1h-3.6ZM253.5 424.5l1.8 3.1h-3.6ZM238.9 426.7l-1.8 -3.1h3.6ZM238.6 427.2l1.8 3.1h-3.6ZM239.2 425.4l1.8 3.1h-3.6ZM239.1 423.8l-1.8 -3.1h3.6ZM253.5 428.4l-1.8 -3.1h3.6ZM239.5 423.1l1.8 3.1h-3.6ZM249.7 417.0l-1.8 -3.1h3.6ZM240.5 413.5l1.8 3.1h-3.6ZM245.8 412.9l1.8 3.1h-3.6ZM253.0 411.5l1.8 3.1h-3.6ZM249.8 412.7l1.8 3.1h-3.6ZM246.1 415.8l-1.8 -3.1h3.6ZM244.9 414.0l1.8 3.1h-3.6ZM252.3 414.1l1.8 3.1h-3.6ZM243.6 417.2l1.8 3.1h-3.6ZM244.2 414.0l1.8 3.1h-3.6Z" fill="#c8b0d8"/>
<path d="M254.7 422.6L271.4 422.6L271.4 431.7L270.2 432.8L255.9 432.8L254.7 431.7ZM259.4 419.1l1.8 3.1h-3.6ZM262.6 419.4l1.8 3.1h-3.6ZM270.1 422.4l-1.8 -3.1h3.6ZM257.2 424.4l-1.8 -3.1h3.6ZM267.4 420.8l1.8 3.1h-3.6ZM257.1 420.4l1.8 3.1h-3.6ZM258.3 421.2l1.8 3.1h-3.6ZM263.3 420.1l1.8 3.1h-3.6ZM255.7 419.8l1.8 3.1h-3.6ZM270.0 420.5l1.8 3.1h-3.6ZM262.2 422.4l-1.8 -3.1h3.6ZM256.6 419.5l1.8 3.1h-3.6ZM268.7 417.9l1.8 3.1h-3.6ZM269.7 418.4l1.8 3.1h-3.6ZM260.6 421.8l-1.8 -3.1h3.6ZM258.8 420.3l1.8 3.1h-3.6ZM264.8 424.9l-1.8 -3.1h3.6ZM262.6 419.6l1.8 3.1h-3.6ZM265.3 419.4l1.8 3.1h-3.6ZM270.0 421.6l-1.8 -3.1h3.6ZM270.5 423.7l-1.8 -3.1h3.6ZM266.1 422.1l-1.8 -3.1h3.6ZM255.9 427.4l1.8 3.1h-3.6ZM270.0 426.4l1.8 3.1h-3.6ZM270.6 425.7l1.8 3.1h-3.6ZM255.9 421.9l1.8 3.1h-3.6ZM270.8 427.2l1.8 3.1h-3.6ZM270.4 421.0l1.8 3.1h-3.6ZM270.1 428.0l1.8 3.1h-3.6ZM270.2 423.4l1.8 3.1h-3.6ZM268.2 421.5l-1.8 -3.1h3.6ZM265.5 420.6l-1.8 -3.1h3.6ZM261.5 419.1l-1.8 -3.1h3.6ZM262.4 418.9l1.8 3.1h-3.6ZM260.1 420.7l-1.8 -3.1h3.6ZM260.2 419.3l-1.8 -3.1h3.6ZM259.6 417.1l1.8 3.1h-3.6ZM268.5 417.9l1.8 3.1h-3.6ZM260.9 418.7l-1.8 -3.1h3.6ZM264.3 416.4l1.8 3.1h-3.6Z" fill="#6e6e6e"/>
<path d="M271.2 423.2L287.9 423.2L287.9 431.7L286.7 432.8L272.4 432.8L271.2 431.7ZM285.5 421.6l1.8 3.1h-3.6ZM277.7 423.1l-1.8 -3.1h3.6ZM277.2 422.5l-1.8 -3.1h3.6ZM272.4 419.7l1.8 3.1h-3.6ZM277.5 420.2l1.8 3.1h-3.6ZM282.1 423.5l-1.8 -3.1h3.6ZM286.7 418.4l1.8 3.1h-3.6ZM284.5 423.4l-1.8 -3.1h3.6ZM287.1 421.6l1.8 3.1h-3.6ZM278.1 419.6l1.8 3.1h-3.6ZM287.0 421.1l1.8 3.1h-3.6ZM274.2 424.3l-1.8 -3.1h3.6ZM273.3 425.1l-1.8 -3.1h3.6ZM281.4 419.3l1.8 3.1h-3.6ZM284.3 423.1l-1.8 -3.1h3.6ZM273.8 420.2l1.8 3.1h-3.6ZM285.0 422.3l-1.8 -3.1h3.6ZM272.4 424.4l-1.8 -3.1h3.6ZM280.1 425.2l-1.8 -3.1h3.6ZM276.6 420.1l1.8 3.1h-3.6ZM280.6 421.4l1.8 3.1h-3.6ZM279.7 424.6l-1.8 -3.1h3.6ZM272.2 428.6l-1.8 -3.1h3.6ZM286.6 428.2l1.8 3.1h-3.6ZM272.5 424.5l1.8 3.1h-3.6ZM272.0 427.2l-1.8 -3.1h3.6ZM272.0 429.1l1.8 3.1h-3.6ZM272.4 422.5l1.8 3.1h-3.6ZM272.0 428.3l-1.8 -3.1h3.6ZM272.0 426.4l1.8 3.1h-3.6ZM280.1 416.7l1.8 3.1h-3.6ZM285.0 422.6l-1.8 -3.1h3.6ZM280.4 422.9l-1.8 -3.1h3.6ZM285.4 423.1l-1.8 -3.1h3.6ZM276.4 417.0l1.8 3.1h-3.6ZM273.9 416.1l1.8 3.1h-3.6ZM281.6 418.3l1.8 3.1h-3.6ZM277.0 417.3l1.8 3.1h-3.6ZM277.9 422.1l-1.8 -3.1h3.6ZM282.0 416.5l1.8 3.1h-3.6Z" fill="#f088c8"/>
<path d="M287.7 422.0L304.4 422.0L304.4 431.7L303.2 432.8L288.9 432.8L287.7 431.7ZM293.9 421.1l-1.8 -3.1h3.6ZM296.5 418.1l1.8 3.1h-3.6ZM297.5 424.1l-1.8 -3.1h3.6ZM293.9 423.6l-1.8 -3.1h3.6ZM299.0 417.8l1.8 3.1h-3.6ZM300.0 420.5l1.8 3.1h-3.6ZM290.3 418.0l1.8 3.1h-3.6ZM301.4 423.7l-1.8 -3.1h3.6ZM300.7 421.1l-1.8 -3.1h3.6ZM294.1 424.2l-1.8 -3.1h3.6ZM290.0 419.3l1.8 3.1h-3.6ZM292.3 420.6l1.8 3.1h-3.6ZM290.9 419.7l1.8 3.1h-3.6ZM303.6 419.0l1.8 3.1h-3.6ZM289.8 420.2l1.8 3.1h-3.6ZM299.3 422.3l-1.8 -3.1h3.6ZM291.7 422.5l-1.8 -3.1h3.6ZM295.7 423.3l-1.8 -3.1h3.6ZM302.3 417.8l1.8 3.1h-3.6ZM289.8 418.3l1.8 3.1h-3.6ZM299.9 422.1l-1.8 -3.1h3.6ZM295.2 421.3l-1.8 -3.1h3.6ZM289.2 429.2l-1.8 -3.1h3.6ZM288.8 428.8l-1.8 -3.1h3.6ZM289.1 427.0l1.8 3.1h-3.6ZM289.0 431.7l-1.8 -3.1h3.6ZM303.4 423.5l-1.8 -3.1h3.6ZM288.8 419.4l1.8 3.1h-3.6ZM303.5 427.9l-1.8 -3.1h3.6ZM288.9 425.8l1.8 3.1h-3.6ZM300.5 414.4l1.8 3.1h-3.6ZM300.2 414.2l1.8 3.1h-3.6ZM297.3 419.4l-1.8 -3.1h3.6ZM291.2 414.1l1.8 3.1h-3.6ZM290.4 419.3l-1.8 -3.1h3.6ZM294.0 416.0l1.8 3.1h-3.6ZM301.8 413.5l1.8 3.1h-3.6ZM292.5 421.0l-1.8 -3.1h3.6ZM290.1 417.5l1.8 3.1h-3.6ZM296.5 416.2l1.8 3.1h-3.6Z" fill="#857525"/>
<path d="M304.2 424.4L320.9 424.4L320.9 431.7L319.7 432.8L305.4 432.8L304.2 431.7ZM307.8 424.6l-1.8 -3.1h3.6ZM312.5 426.3l-1.8 -3.1h3.6ZM310.3 422.5l1.8 3.1h-3.6ZM312.4 425.2l-1.8 -3.1h3.6ZM310.4 422.0l1.8 3.1h-3.6ZM307.4 423.3l-1.8 -3.1h3.6ZM316.1 421.8l1.8 3.1h-3.6ZM307.9 426.2l-1.8 -3.1h3.6ZM310.6 421.9l1.8 3.1h-3.6ZM316.9 424.0l-1.8 -3.1h3.6ZM317.5 419.6l1.8 3.1h-3.6ZM310.4 426.2l-1.8 -3.1h3.6ZM315.1 425.8l-1.8 -3.1h3.6ZM309.0 422.8l1.8 3.1h-3.6ZM317.0 419.7l1.8 3.1h-3.6ZM310.9 423.9l-1.8 -3.1h3.6ZM307.0 426.5l-1.8 -3.1h3.6ZM307.5 424.2l-1.8 -3.1h3.6ZM313.9 420.8l1.8 3.1h-3.6ZM311.4 424.1l-1.8 -3.1h3.6ZM313.2 425.1l-1.8 -3.1h3.6ZM310.2 426.1l-1.8 -3.1h3.6ZM320.1 426.4l1.8 3.1h-3.6ZM305.2 425.4l-1.8 -3.1h3.6ZM320.5 432.1l-1.8 -3.1h3.6ZM304.7 426.2l1.8 3.1h-3.6ZM304.6 423.7l1.8 3.1h-3.6ZM305.0 431.8l-1.8 -3.1h3.6ZM305.0 423.6l1.8 3.1h-3.6ZM320.1 425.4l-1.8 -3.1h3.6ZM307.1 420.1l1.8 3.1h-3.6ZM315.2 424.6l-1.8 -3.1h3.6ZM318.0 424.2l-1.8 -3.1h3.6ZM309.2 419.6l1.8 3.1h-3.6ZM307.8 421.3l-1.8 -3.1h3.6ZM307.8 422.0l-1.8 -3.1h3.6ZM314.0 419.6l-1.8 -3.1h3.6ZM313.5 415.2l1.8 3.1h-3.6ZM308.0 416.0l1.8 3.1h-3.6ZM318.2 420.3l1.8 3.1h-3.6Z" fill="#9900ee"/>
<line x1="27.70" y1="400.50" x2="334.00" y2="400.50" stroke="#f8826f" stroke-width="0.9" stroke-dasharray="2.6,2"/>
<line x1="27.70" y1="419.60" x2="334.00" y2="419.60" stroke="#1a1aa0" stroke-width="1.1" stroke-dasharray="2.6,2"/>
<line x1="27.70" y1="285.80" x2="27.70" y2="438.50" stroke="#000" stroke-width="1.2" />
<line x1="27.10" y1="438.00" x2="334.00" y2="438.00" stroke="#000" stroke-width="1.4" />
<line x1="25.10" y1="431.10" x2="27.70" y2="431.10" stroke="#222" stroke-width="1.1" />
<text x="23.20" y="433.50" font-size="8" fill="#4d4d4d" text-anchor="end" font-weight="normal" >0</text>
<line x1="25.10" y1="401.75" x2="27.70" y2="401.75" stroke="#222" stroke-width="1.1" />
<text x="23.20" y="404.15" font-size="8" fill="#4d4d4d" text-anchor="end" font-weight="normal" >5</text>
<line x1="25.10" y1="372.40" x2="27.70" y2="372.40" stroke="#222" stroke-width="1.1" />
<text x="23.20" y="374.80" font-size="8" fill="#4d4d4d" text-anchor="end" font-weight="normal" >10</text>
<line x1="25.10" y1="343.05" x2="27.70" y2="343.05" stroke="#222" stroke-width="1.1" />
<text x="23.20" y="345.45" font-size="8" fill="#4d4d4d" text-anchor="end" font-weight="normal" >15</text>
<line x1="25.10" y1="313.70" x2="27.70" y2="313.70" stroke="#222" stroke-width="1.1" />
<text x="23.20" y="316.10" font-size="8" fill="#4d4d4d" text-anchor="end" font-weight="normal" >20</text>
<line x1="48.70" y1="438.00" x2="48.70" y2="441.00" stroke="#333" stroke-width="0.8" />
<text transform="translate(49.71,448.53) rotate(-45)" font-size="5.9" fill="#262626" text-anchor="end">neoplasms</text>
<line x1="65.19" y1="438.00" x2="65.19" y2="441.00" stroke="#333" stroke-width="0.8" />
<text transform="translate(70.02,444.71) rotate(-45)" font-size="5.9" fill="#262626" text-anchor="end">endocrine/metabolic</text>
<line x1="81.68" y1="438.00" x2="81.68" y2="441.00" stroke="#333" stroke-width="0.8" />
<text transform="translate(85.06,446.16) rotate(-45)" font-size="5.9" fill="#262626" text-anchor="end">mental disorders</text>
<line x1="98.17" y1="438.00" x2="98.17" y2="441.00" stroke="#333" stroke-width="0.8" />
<text transform="translate(100.47,447.24) rotate(-45)" font-size="5.9" fill="#262626" text-anchor="end">hematopoietic</text>
<line x1="114.66" y1="438.00" x2="114.66" y2="441.00" stroke="#333" stroke-width="0.8" />
<text transform="translate(115.56,448.64) rotate(-45)" font-size="5.9" fill="#262626" text-anchor="end">respiratory</text>
<line x1="131.15" y1="438.00" x2="131.15" y2="441.00" stroke="#333" stroke-width="0.8" />
<text transform="translate(135.10,445.59) rotate(-45)" font-size="5.9" fill="#262626" text-anchor="end">circulatory system</text>
<line x1="147.64" y1="438.00" x2="147.64" y2="441.00" stroke="#333" stroke-width="0.8" />
<text transform="translate(152.01,445.17) rotate(-45)" font-size="5.9" fill="#262626" text-anchor="end">infectious diseases</text>
<line x1="164.13" y1="438.00" x2="164.13" y2="441.00" stroke="#333" stroke-width="0.8" />
<text transform="translate(166.01,447.65) rotate(-45)" font-size="5.9" fill="#262626" text-anchor="end">genitourinary</text>
<line x1="180.62" y1="438.00" x2="180.62" y2="441.00" stroke="#333" stroke-width="0.8" />
<text transform="translate(187.37,442.79) rotate(-45)" font-size="5.9" fill="#262626" text-anchor="end">pregnancy complications</text>
<line x1="197.11" y1="438.00" x2="197.11" y2="441.00" stroke="#333" stroke-width="0.8" />
<text transform="translate(197.29,449.36) rotate(-45)" font-size="5.9" fill="#262626" text-anchor="end">digestive</text>
<line x1="213.60" y1="438.00" x2="213.60" y2="441.00" stroke="#333" stroke-width="0.8" />
<text transform="translate(216.73,446.41) rotate(-45)" font-size="5.9" fill="#262626" text-anchor="end">musculoskeletal</text>
<line x1="230.09" y1="438.00" x2="230.09" y2="441.00" stroke="#333" stroke-width="0.8" />
<text transform="translate(235.34,444.29) rotate(-45)" font-size="5.9" fill="#262626" text-anchor="end">congenital anomalies</text>
<line x1="246.58" y1="438.00" x2="246.58" y2="441.00" stroke="#333" stroke-width="0.8" />
<text transform="translate(248.41,447.71) rotate(-45)" font-size="5.9" fill="#262626" text-anchor="end">dermatologic</text>
<line x1="263.07" y1="438.00" x2="263.07" y2="441.00" stroke="#333" stroke-width="0.8" />
<text transform="translate(268.11,444.50) rotate(-45)" font-size="5.9" fill="#262626" text-anchor="end">injuries &amp; poisonings</text>
<line x1="279.56" y1="438.00" x2="279.56" y2="441.00" stroke="#333" stroke-width="0.8" />
<text transform="translate(281.08,448.02) rotate(-45)" font-size="5.9" fill="#262626" text-anchor="end">neurological</text>
<line x1="296.05" y1="438.00" x2="296.05" y2="441.00" stroke="#333" stroke-width="0.8" />
<text transform="translate(298.14,447.45) rotate(-45)" font-size="5.9" fill="#262626" text-anchor="end">sense organs</text>
<line x1="312.54" y1="438.00" x2="312.54" y2="441.00" stroke="#333" stroke-width="0.8" />
<text transform="translate(313.29,448.79) rotate(-45)" font-size="5.9" fill="#262626" text-anchor="end">symptoms</text>
<text transform="translate(8.60,353.30) rotate(-90)" font-size="9.5" fill="#1a1a1a" text-anchor="middle">-log<tspan font-size="5.89" dy="2.85">10</tspan><tspan dy="-2.85"> p-value</tspan></text>
<text x="187.30" y="285.10" font-size="9" fill="#1a1a1a" text-anchor="middle" font-weight="normal" >rs438811</text>
<path d="M80.20 290.96L82.20 294.64L78.20 294.64Z" fill="#ff00ff" />
<path d="M77.10 320.76L79.10 324.44L75.10 324.44Z" fill="#ff00ff" />
<path d="M87.90 328.56L89.90 332.24L85.90 332.24Z" fill="#ff00ff" />
<path d="M60.80 341.36L62.80 345.04L58.80 345.04Z" fill="#7b1a1a" />
<path d="M79.40 352.56L81.40 356.24L77.40 356.24Z" fill="#ff00ff" />
<path d="M83.00 355.36L85.00 359.04L81.00 359.04Z" fill="#ff00ff" />
<path d="M80.40 386.16L82.40 389.84L78.40 389.84Z" fill="#ff00ff" />
<path d="M82.30 400.16L84.30 403.84L80.30 403.84Z" fill="#ff00ff" />
<path d="M84.90 415.84L86.90 412.16L82.90 412.16Z" fill="#ff00ff" />
<path d="M83.50 414.16L85.50 417.84L81.50 417.84Z" fill="#ff00ff" />
<path d="M194.90 380.54L196.90 376.86L192.90 376.86Z" fill="#2f7d12" />
<path d="M202.80 384.94L204.80 381.26L200.80 381.26Z" fill="#2f7d12" />
<path d="M106.50 415.14L108.50 411.46L104.50 411.46Z" fill="#00f0f0" />
<path d="M110.50 415.14L112.50 411.46L108.50 411.46Z" fill="#00f0f0" />
<path d="M113.50 418.34L115.50 414.66L111.50 414.66Z" fill="#00f0f0" />
<path d="M151.00 414.04L153.00 410.36L149.00 410.36Z" fill="#1010ff" />
<path d="M161.50 412.34L163.50 408.66L159.50 408.66Z" fill="#000" />
<path d="M162.00 412.16L164.00 415.84L160.00 415.84Z" fill="#000" />
<path d="M134.50 416.34L136.50 412.66L132.50 412.66Z" fill="#ff0000" />
<path d="M137.50 417.34L139.50 413.66L135.50 413.66Z" fill="#ff0000" />
<path d="M178.00 418.84L180.00 415.16L176.00 415.16Z" fill="#1f2f70" />
<path d="M245.00 411.66L247.00 415.34L243.00 415.34Z" fill="#c8b0d8" />
<path d="M253.50 414.84L255.50 411.16L251.50 411.16Z" fill="#c8b0d8" />
<path d="M233.00 416.84L235.00 413.16L231.00 413.16Z" fill="#33ee33" />
<path d="M315.00 416.34L317.00 412.66L313.00 412.66Z" fill="#9900ee" />
<path d="M320.00 417.34L322.00 413.66L318.00 413.66Z" fill="#9900ee" />
<text x="84.00" y="293.40" font-size="5.9" fill="#262626" text-anchor="start" font-weight="normal" stroke="#262626" stroke-width="0.18" >Dementias</text>
<text x="69.70" y="319.70" font-size="5.9" fill="#262626" text-anchor="start" font-weight="normal" stroke="#262626" stroke-width="0.18" >Alzheimer's disease</text>
<text x="92.00" y="333.30" font-size="5.9" fill="#262626" text-anchor="start" font-weight="normal" stroke="#262626" stroke-width="0.18" >Delirium dementia and amnestic and other cognitive disorders</text>
<text x="32.90" y="338.60" font-size="5.9" fill="#262626" text-anchor="start" font-weight="normal" stroke="#262626" stroke-width="0.18" >Hyperglyceridemia</text>
<text x="82.30" y="352.20" font-size="5.9" fill="#262626" text-anchor="start" font-weight="normal" stroke="#262626" stroke-width="0.18" >Mild cognitive impairment</text>
<text x="87.00" y="362.70" font-size="5.9" fill="#262626" text-anchor="start" font-weight="normal" stroke="#262626" stroke-width="0.18" >Memory loss</text>
<text x="82.80" y="387.10" font-size="5.9" fill="#262626" text-anchor="start" font-weight="normal" stroke="#262626" stroke-width="0.18" >Neurological disorders</text>
<text x="166.60" y="374.30" font-size="5.9" fill="#262626" text-anchor="start" font-weight="normal" stroke="#262626" stroke-width="0.18" >Other chronic nonalcoholic liver disease</text>
<text x="206.90" y="383.30" font-size="5.9" fill="#262626" text-anchor="start" font-weight="normal" stroke="#262626" stroke-width="0.18" >Chronic liver disease and cirrhosis</text>
<line x1="240.00" y1="290.00" x2="254.10" y2="290.00" stroke="#000" stroke-width="1.2" />
<path d="M246.9 285.2L251.7 293.0L242.1 293.0Z" fill="#000"/>
<line x1="240.00" y1="299.00" x2="254.10" y2="299.00" stroke="#000" stroke-width="1.2" />
<path d="M246.9 302.2L251.7 294.5L242.1 294.5Z" fill="#000"/>
<text x="258.90" y="291.60" font-size="6.55" fill="#262626" text-anchor="start" font-weight="normal" stroke="#262626" stroke-width="0.18" >OR &gt; 1</text>
<text x="258.90" y="300.50" font-size="6.55" fill="#262626" text-anchor="start" font-weight="normal" stroke="#262626" stroke-width="0.18" >OR &lt; 1</text>
<line x1="240.00" y1="308.10" x2="253.00" y2="308.10" stroke="#3030c0" stroke-width="1.0" stroke-dasharray="2.4,1.8"/>
<line x1="240.00" y1="317.70" x2="253.00" y2="317.70" stroke="#f8826f" stroke-width="1.0" stroke-dasharray="2.4,1.8"/>
<text x="258.90" y="310.40" font-size="6.55" fill="#262626" text-anchor="start" font-weight="normal" stroke="#262626" stroke-width="0.18" >Nominal (p&lt; 0.01)</text>
<text x="258.90" y="320.00" font-size="6.55" fill="#262626" text-anchor="start" font-weight="normal" stroke="#262626" stroke-width="0.18" >Bonferroni (p&lt;0.00001)</text>
<path d="M41.5 659.4L58.0 659.4L58.0 660.7L56.8 661.8L42.7 661.8L41.5 660.7ZM56.5 656.4l1.8 3.1h-3.6ZM57.1 656.3l1.8 3.1h-3.6ZM52.0 659.9l-1.8 -3.1h3.6ZM45.7 655.6l1.8 3.1h-3.6ZM51.2 659.4l-1.8 -3.1h3.6ZM56.0 655.9l1.8 3.1h-3.6ZM55.4 656.0l1.8 3.1h-3.6ZM45.1 659.5l-1.8 -3.1h3.6ZM56.2 659.6l-1.8 -3.1h3.6ZM50.7 659.6l-1.8 -3.1h3.6ZM46.1 655.6l1.8 3.1h-3.6ZM53.9 659.4l-1.8 -3.1h3.6ZM44.4 659.5l-1.8 -3.1h3.6ZM45.0 660.2l-1.8 -3.1h3.6ZM42.7 659.4l-1.8 -3.1h3.6ZM50.0 659.9l-1.8 -3.1h3.6ZM55.9 656.2l1.8 3.1h-3.6ZM50.9 660.0l-1.8 -3.1h3.6ZM50.3 659.9l-1.8 -3.1h3.6ZM50.1 660.2l-1.8 -3.1h3.6ZM47.5 656.1l1.8 3.1h-3.6ZM56.1 659.4l-1.8 -3.1h3.6ZM56.5 657.2l1.8 3.1h-3.6ZM42.4 657.4l1.8 3.1h-3.6ZM57.2 657.2l1.8 3.1h-3.6ZM42.7 656.8l1.8 3.1h-3.6ZM41.8 661.1l-1.8 -3.1h3.6ZM56.5 661.7l-1.8 -3.1h3.6ZM42.5 659.7l-1.8 -3.1h3.6ZM57.0 661.8l-1.8 -3.1h3.6ZM55.8 659.7l-1.8 -3.1h3.6ZM46.4 656.0l1.8 3.1h-3.6ZM47.7 656.0l1.8 3.1h-3.6ZM51.4 659.7l-1.8 -3.1h3.6ZM45.3 656.0l1.8 3.1h-3.6ZM52.1 659.6l-1.8 -3.1h3.6ZM49.5 656.0l1.8 3.1h-3.6ZM53.1 659.7l-1.8 -3.1h3.6ZM48.4 659.7l-1.8 -3.1h3.6ZM50.0 656.0l1.8 3.1h-3.6Z" fill="#2a7b78"/>
<path d="M57.8 658.6L74.2 658.6L74.2 660.7L73.0 661.8L59.0 661.8L57.8 660.7ZM71.1 655.2l1.8 3.1h-3.6ZM69.8 655.2l1.8 3.1h-3.6ZM68.8 655.4l1.8 3.1h-3.6ZM71.8 659.4l-1.8 -3.1h3.6ZM72.4 655.3l1.8 3.1h-3.6ZM72.9 655.5l1.8 3.1h-3.6ZM60.9 659.3l-1.8 -3.1h3.6ZM69.0 659.3l-1.8 -3.1h3.6ZM61.8 655.1l1.8 3.1h-3.6ZM68.4 655.4l1.8 3.1h-3.6ZM63.8 659.3l-1.8 -3.1h3.6ZM68.8 658.9l-1.8 -3.1h3.6ZM60.1 658.8l-1.8 -3.1h3.6ZM67.8 655.2l1.8 3.1h-3.6ZM71.1 655.5l1.8 3.1h-3.6ZM66.4 659.2l-1.8 -3.1h3.6ZM65.9 655.3l1.8 3.1h-3.6ZM66.6 655.3l1.8 3.1h-3.6ZM71.6 659.4l-1.8 -3.1h3.6ZM66.4 655.1l1.8 3.1h-3.6ZM72.3 655.5l1.8 3.1h-3.6ZM66.4 655.0l1.8 3.1h-3.6ZM73.8 660.2l-1.8 -3.1h3.6ZM58.2 656.7l1.8 3.1h-3.6ZM58.2 658.0l1.8 3.1h-3.6ZM73.9 655.5l1.8 3.1h-3.6ZM73.1 660.0l-1.8 -3.1h3.6ZM59.1 659.6l-1.8 -3.1h3.6ZM73.6 658.2l1.8 3.1h-3.6ZM59.2 657.3l1.8 3.1h-3.6ZM63.5 655.1l1.8 3.1h-3.6ZM63.7 655.0l1.8 3.1h-3.6ZM64.9 658.4l-1.8 -3.1h3.6ZM63.4 658.1l-1.8 -3.1h3.6ZM72.2 654.6l1.8 3.1h-3.6ZM72.1 654.4l1.8 3.1h-3.6ZM61.0 654.8l1.8 3.1h-3.6ZM61.1 658.9l-1.8 -3.1h3.6ZM70.3 655.1l1.8 3.1h-3.6ZM70.1 654.4l1.8 3.1h-3.6Z" fill="#7b1a1a"/>
<path d="M74.1 659.0L90.6 659.0L90.6 660.7L89.4 661.8L75.3 661.8L74.1 660.7ZM79.9 659.5l-1.8 -3.1h3.6ZM83.5 659.5l-1.8 -3.1h3.6ZM75.6 659.3l-1.8 -3.1h3.6ZM84.8 655.8l1.8 3.1h-3.6ZM75.0 656.0l1.8 3.1h-3.6ZM81.6 655.4l1.8 3.1h-3.6ZM81.9 659.3l-1.8 -3.1h3.6ZM75.2 659.1l-1.8 -3.1h3.6ZM79.4 659.7l-1.8 -3.1h3.6ZM88.7 655.8l1.8 3.1h-3.6ZM83.2 656.0l1.8 3.1h-3.6ZM88.5 659.4l-1.8 -3.1h3.6ZM78.8 659.1l-1.8 -3.1h3.6ZM78.2 659.4l-1.8 -3.1h3.6ZM83.4 655.6l1.8 3.1h-3.6ZM83.1 659.6l-1.8 -3.1h3.6ZM80.4 659.0l-1.8 -3.1h3.6ZM78.2 655.8l1.8 3.1h-3.6ZM85.8 659.8l-1.8 -3.1h3.6ZM79.4 655.4l1.8 3.1h-3.6ZM85.0 655.5l1.8 3.1h-3.6ZM76.8 659.6l-1.8 -3.1h3.6ZM89.1 661.5l-1.8 -3.1h3.6ZM89.2 659.5l-1.8 -3.1h3.6ZM75.2 657.5l1.8 3.1h-3.6ZM74.6 661.8l-1.8 -3.1h3.6ZM89.9 656.8l1.8 3.1h-3.6ZM89.3 661.5l-1.8 -3.1h3.6ZM75.1 657.3l1.8 3.1h-3.6ZM89.8 657.3l1.8 3.1h-3.6ZM85.4 659.2l-1.8 -3.1h3.6ZM81.1 655.6l1.8 3.1h-3.6ZM83.1 659.3l-1.8 -3.1h3.6ZM88.1 659.0l-1.8 -3.1h3.6ZM84.9 655.3l1.8 3.1h-3.6ZM88.4 655.0l1.8 3.1h-3.6ZM80.7 659.3l-1.8 -3.1h3.6ZM87.1 655.4l1.8 3.1h-3.6ZM83.8 655.1l1.8 3.1h-3.6ZM79.4 655.2l1.8 3.1h-3.6Z" fill="#ff00ff"/>
<path d="M90.4 659.4L106.9 659.4L106.9 660.7L105.7 661.8L91.6 661.8L90.4 660.7ZM103.3 660.0l-1.8 -3.1h3.6ZM97.9 656.3l1.8 3.1h-3.6ZM92.8 660.0l-1.8 -3.1h3.6ZM103.0 655.9l1.8 3.1h-3.6ZM101.0 655.8l1.8 3.1h-3.6ZM92.4 656.1l1.8 3.1h-3.6ZM94.0 656.1l1.8 3.1h-3.6ZM104.5 660.0l-1.8 -3.1h3.6ZM102.1 660.2l-1.8 -3.1h3.6ZM103.2 659.8l-1.8 -3.1h3.6ZM98.3 656.5l1.8 3.1h-3.6ZM95.8 659.5l-1.8 -3.1h3.6ZM92.9 656.2l1.8 3.1h-3.6ZM94.6 656.2l1.8 3.1h-3.6ZM93.4 655.9l1.8 3.1h-3.6ZM104.4 656.1l1.8 3.1h-3.6ZM102.6 656.2l1.8 3.1h-3.6ZM93.0 656.2l1.8 3.1h-3.6ZM102.1 659.9l-1.8 -3.1h3.6ZM95.3 656.4l1.8 3.1h-3.6ZM97.0 655.7l1.8 3.1h-3.6ZM94.3 656.3l1.8 3.1h-3.6ZM91.8 657.7l1.8 3.1h-3.6ZM106.4 657.6l1.8 3.1h-3.6ZM91.6 662.0l-1.8 -3.1h3.6ZM106.3 661.1l-1.8 -3.1h3.6ZM90.9 657.6l1.8 3.1h-3.6ZM90.7 657.0l1.8 3.1h-3.6ZM105.6 661.7l-1.8 -3.1h3.6ZM91.3 656.9l1.8 3.1h-3.6ZM96.0 655.9l1.8 3.1h-3.6ZM93.3 659.7l-1.8 -3.1h3.6ZM93.2 656.0l1.8 3.1h-3.6ZM103.6 655.9l1.8 3.1h-3.6ZM102.2 656.0l1.8 3.1h-3.6ZM99.9 659.7l-1.8 -3.1h3.6ZM96.2 655.9l1.8 3.1h-3.6ZM93.5 659.7l-1.8 -3.1h3.6ZM105.1 655.9l1.8 3.1h-3.6ZM101.8 659.6l-1.8 -3.1h3.6Z" fill="#ffcc00"/>
<path d="M106.7 659.4L123.2 659.4L123.2 660.7L122.0 661.8L107.9 661.8L106.7 660.7ZM113.6 659.6l-1.8 -3.1h3.6ZM118.5 659.8l-1.8 -3.1h3.6ZM119.1 656.3l1.8 3.1h-3.6ZM108.8 659.9l-1.8 -3.1h3.6ZM114.7 659.8l-1.8 -3.1h3.6ZM108.7 656.2l1.8 3.1h-3.6ZM114.8 659.6l-1.8 -3.1h3.6ZM119.4 659.8l-1.8 -3.1h3.6ZM115.5 659.4l-1.8 -3.1h3.6ZM116.3 656.1l1.8 3.1h-3.6ZM118.8 659.9l-1.8 -3.1h3.6ZM118.3 659.4l-1.8 -3.1h3.6ZM115.9 656.2l1.8 3.1h-3.6ZM117.3 659.6l-1.8 -3.1h3.6ZM118.8 660.2l-1.8 -3.1h3.6ZM111.6 659.9l-1.8 -3.1h3.6ZM113.5 656.1l1.8 3.1h-3.6ZM110.2 656.3l1.8 3.1h-3.6ZM115.2 656.4l1.8 3.1h-3.6ZM108.7 659.6l-1.8 -3.1h3.6ZM118.6 656.0l1.8 3.1h-3.6ZM119.1 656.4l1.8 3.1h-3.6ZM108.0 661.3l-1.8 -3.1h3.6ZM121.9 658.0l1.8 3.1h-3.6ZM108.1 656.4l1.8 3.1h-3.6ZM107.6 656.6l1.8 3.1h-3.6ZM107.3 657.8l1.8 3.1h-3.6ZM107.6 657.4l1.8 3.1h-3.6ZM122.4 656.7l1.8 3.1h-3.6ZM107.0 657.6l1.8 3.1h-3.6ZM110.2 659.6l-1.8 -3.1h3.6ZM120.2 655.9l1.8 3.1h-3.6ZM116.7 659.7l-1.8 -3.1h3.6ZM116.2 659.7l-1.8 -3.1h3.6ZM115.3 655.9l1.8 3.1h-3.6ZM110.3 655.9l1.8 3.1h-3.6ZM115.9 659.6l-1.8 -3.1h3.6ZM116.1 659.7l-1.8 -3.1h3.6ZM113.4 655.9l1.8 3.1h-3.6ZM109.6 659.7l-1.8 -3.1h3.6Z" fill="#00f0f0"/>
<path d="M122.9 658.1L139.4 658.1L139.4 660.7L138.2 661.8L124.1 661.8L122.9 660.7ZM127.8 658.7l-1.8 -3.1h3.6ZM124.7 658.3l-1.8 -3.1h3.6ZM127.5 655.2l1.8 3.1h-3.6ZM124.4 658.2l-1.8 -3.1h3.6ZM136.9 654.6l1.8 3.1h-3.6ZM135.8 658.3l-1.8 -3.1h3.6ZM128.3 658.5l-1.8 -3.1h3.6ZM125.8 658.8l-1.8 -3.1h3.6ZM133.5 658.3l-1.8 -3.1h3.6ZM137.7 654.4l1.8 3.1h-3.6ZM129.9 658.5l-1.8 -3.1h3.6ZM134.2 654.4l1.8 3.1h-3.6ZM125.6 658.2l-1.8 -3.1h3.6ZM129.7 654.8l1.8 3.1h-3.6ZM128.3 658.5l-1.8 -3.1h3.6ZM127.2 658.6l-1.8 -3.1h3.6ZM135.3 654.6l1.8 3.1h-3.6ZM127.2 658.5l-1.8 -3.1h3.6ZM132.8 654.4l1.8 3.1h-3.6ZM132.6 654.7l1.8 3.1h-3.6ZM133.4 658.8l-1.8 -3.1h3.6ZM136.3 658.8l-1.8 -3.1h3.6ZM138.9 659.0l-1.8 -3.1h3.6ZM138.0 659.5l-1.8 -3.1h3.6ZM124.3 660.3l-1.8 -3.1h3.6ZM138.0 659.8l-1.8 -3.1h3.6ZM123.5 660.2l-1.8 -3.1h3.6ZM123.9 657.9l1.8 3.1h-3.6ZM138.4 660.3l-1.8 -3.1h3.6ZM138.0 658.9l-1.8 -3.1h3.6ZM126.6 656.7l-1.8 -3.1h3.6ZM127.9 656.3l-1.8 -3.1h3.6ZM128.8 653.7l1.8 3.1h-3.6ZM133.2 657.2l-1.8 -3.1h3.6ZM124.6 657.2l-1.8 -3.1h3.6ZM137.7 653.3l1.8 3.1h-3.6ZM136.1 656.3l-1.8 -3.1h3.6ZM131.3 658.3l-1.8 -3.1h3.6ZM126.2 653.1l1.8 3.1h-3.6ZM124.7 652.1l1.8 3.1h-3.6Z" fill="#ff0000"/>
<path d="M139.2 658.6L155.8 658.6L155.8 660.7L154.6 661.8L140.4 661.8L139.2 660.7ZM140.4 658.9l-1.8 -3.1h3.6ZM140.8 658.9l-1.8 -3.1h3.6ZM143.1 655.2l1.8 3.1h-3.6ZM141.0 655.0l1.8 3.1h-3.6ZM141.6 659.1l-1.8 -3.1h3.6ZM153.9 658.8l-1.8 -3.1h3.6ZM143.6 658.7l-1.8 -3.1h3.6ZM149.9 658.9l-1.8 -3.1h3.6ZM154.7 659.0l-1.8 -3.1h3.6ZM152.1 655.1l1.8 3.1h-3.6ZM147.1 659.4l-1.8 -3.1h3.6ZM141.4 655.3l1.8 3.1h-3.6ZM140.5 655.5l1.8 3.1h-3.6ZM144.0 658.8l-1.8 -3.1h3.6ZM145.4 655.2l1.8 3.1h-3.6ZM146.8 659.0l-1.8 -3.1h3.6ZM148.6 654.9l1.8 3.1h-3.6ZM140.4 658.9l-1.8 -3.1h3.6ZM145.3 658.7l-1.8 -3.1h3.6ZM150.2 658.8l-1.8 -3.1h3.6ZM153.4 659.5l-1.8 -3.1h3.6ZM145.2 658.7l-1.8 -3.1h3.6ZM155.3 660.1l-1.8 -3.1h3.6ZM154.7 657.6l1.8 3.1h-3.6ZM139.6 657.4l1.8 3.1h-3.6ZM139.8 657.0l1.8 3.1h-3.6ZM140.6 656.8l1.8 3.1h-3.6ZM140.5 659.6l-1.8 -3.1h3.6ZM154.3 657.5l1.8 3.1h-3.6ZM154.5 657.9l1.8 3.1h-3.6ZM149.9 655.2l1.8 3.1h-3.6ZM153.3 654.9l1.8 3.1h-3.6ZM142.6 658.9l-1.8 -3.1h3.6ZM147.8 654.2l1.8 3.1h-3.6ZM144.7 654.5l1.8 3.1h-3.6ZM150.3 658.4l-1.8 -3.1h3.6ZM147.8 654.2l1.8 3.1h-3.6ZM141.1 658.6l-1.8 -3.1h3.6ZM143.0 654.4l1.8 3.1h-3.6ZM141.7 658.9l-1.8 -3.1h3.6Z" fill="#1010ff"/>
<path d="M155.6 658.6L172.1 658.6L172.1 660.7L170.9 661.8L156.8 661.8L155.6 660.7ZM164.9 659.4l-1.8 -3.1h3.6ZM160.3 658.7l-1.8 -3.1h3.6ZM168.7 655.3l1.8 3.1h-3.6ZM168.3 658.9l-1.8 -3.1h3.6ZM158.6 655.7l1.8 3.1h-3.6ZM160.7 659.3l-1.8 -3.1h3.6ZM158.7 655.4l1.8 3.1h-3.6ZM162.9 659.4l-1.8 -3.1h3.6ZM162.6 655.7l1.8 3.1h-3.6ZM164.6 655.6l1.8 3.1h-3.6ZM163.0 659.5l-1.8 -3.1h3.6ZM164.9 654.9l1.8 3.1h-3.6ZM158.4 658.7l-1.8 -3.1h3.6ZM157.2 659.5l-1.8 -3.1h3.6ZM162.1 655.3l1.8 3.1h-3.6ZM166.5 655.6l1.8 3.1h-3.6ZM163.8 659.0l-1.8 -3.1h3.6ZM163.2 655.2l1.8 3.1h-3.6ZM158.9 659.2l-1.8 -3.1h3.6ZM162.8 655.7l1.8 3.1h-3.6ZM159.4 658.9l-1.8 -3.1h3.6ZM162.0 659.4l-1.8 -3.1h3.6ZM156.6 655.8l1.8 3.1h-3.6ZM157.0 659.2l-1.8 -3.1h3.6ZM156.8 657.5l1.8 3.1h-3.6ZM171.7 656.1l1.8 3.1h-3.6ZM171.0 655.3l1.8 3.1h-3.6ZM156.3 656.0l1.8 3.1h-3.6ZM156.4 659.5l-1.8 -3.1h3.6ZM171.6 656.3l1.8 3.1h-3.6ZM164.4 658.5l-1.8 -3.1h3.6ZM169.3 654.7l1.8 3.1h-3.6ZM158.7 654.8l1.8 3.1h-3.6ZM168.1 658.7l-1.8 -3.1h3.6ZM159.0 658.5l-1.8 -3.1h3.6ZM168.0 658.5l-1.8 -3.1h3.6ZM159.4 655.0l1.8 3.1h-3.6ZM161.0 654.9l1.8 3.1h-3.6ZM165.9 658.4l-1.8 -3.1h3.6ZM157.1 658.6l-1.8 -3.1h3.6Z" fill="#000000"/>
<path d="M171.9 660.1L188.4 660.1L188.4 660.7L187.2 661.8L173.1 661.8L171.9 660.7ZM179.1 660.3l-1.8 -3.1h3.6ZM176.3 656.6l1.8 3.1h-3.6ZM179.2 660.6l-1.8 -3.1h3.6ZM186.2 660.2l-1.8 -3.1h3.6ZM183.2 660.4l-1.8 -3.1h3.6ZM174.7 660.7l-1.8 -3.1h3.6ZM181.5 657.1l1.8 3.1h-3.6ZM174.6 657.1l1.8 3.1h-3.6ZM177.0 657.2l1.8 3.1h-3.6ZM186.5 656.8l1.8 3.1h-3.6ZM178.3 657.0l1.8 3.1h-3.6ZM175.5 660.6l-1.8 -3.1h3.6ZM178.1 656.4l1.8 3.1h-3.6ZM182.1 656.8l1.8 3.1h-3.6ZM185.8 656.7l1.8 3.1h-3.6ZM177.2 660.6l-1.8 -3.1h3.6ZM178.3 657.0l1.8 3.1h-3.6ZM187.5 660.3l-1.8 -3.1h3.6ZM186.0 660.8l-1.8 -3.1h3.6ZM183.4 660.5l-1.8 -3.1h3.6ZM182.1 656.6l1.8 3.1h-3.6ZM173.5 657.0l1.8 3.1h-3.6ZM188.0 661.5l-1.8 -3.1h3.6ZM172.7 660.9l-1.8 -3.1h3.6ZM172.8 656.9l1.8 3.1h-3.6ZM187.2 657.2l1.8 3.1h-3.6ZM187.9 660.9l-1.8 -3.1h3.6ZM172.2 657.7l1.8 3.1h-3.6ZM187.7 660.7l-1.8 -3.1h3.6ZM187.7 660.7l-1.8 -3.1h3.6ZM185.0 656.6l1.8 3.1h-3.6ZM182.9 656.4l1.8 3.1h-3.6ZM181.6 660.3l-1.8 -3.1h3.6ZM173.8 656.6l1.8 3.1h-3.6ZM178.3 656.5l1.8 3.1h-3.6ZM177.1 656.4l1.8 3.1h-3.6ZM173.5 660.3l-1.8 -3.1h3.6ZM185.9 660.2l-1.8 -3.1h3.6ZM176.9 660.4l-1.8 -3.1h3.6ZM178.0 656.6l1.8 3.1h-3.6Z" fill="#1f2f70"/>
<path d="M188.2 658.6L204.7 658.6L204.7 660.7L203.5 661.8L189.4 661.8L188.2 660.7ZM191.9 655.6l1.8 3.1h-3.6ZM199.4 655.6l1.8 3.1h-3.6ZM190.2 659.2l-1.8 -3.1h3.6ZM197.9 659.0l-1.8 -3.1h3.6ZM199.3 658.8l-1.8 -3.1h3.6ZM189.0 655.0l1.8 3.1h-3.6ZM203.7 655.1l1.8 3.1h-3.6ZM189.6 659.4l-1.8 -3.1h3.6ZM189.1 659.5l-1.8 -3.1h3.6ZM198.0 655.2l1.8 3.1h-3.6ZM203.2 655.1l1.8 3.1h-3.6ZM197.4 655.5l1.8 3.1h-3.6ZM198.1 654.9l1.8 3.1h-3.6ZM200.9 654.9l1.8 3.1h-3.6ZM202.3 655.7l1.8 3.1h-3.6ZM189.3 655.6l1.8 3.1h-3.6ZM197.3 659.1l-1.8 -3.1h3.6ZM200.2 655.7l1.8 3.1h-3.6ZM193.1 658.8l-1.8 -3.1h3.6ZM201.4 658.8l-1.8 -3.1h3.6ZM197.3 658.8l-1.8 -3.1h3.6ZM201.1 658.8l-1.8 -3.1h3.6ZM189.2 661.1l-1.8 -3.1h3.6ZM189.3 659.3l-1.8 -3.1h3.6ZM204.0 660.6l-1.8 -3.1h3.6ZM189.0 656.7l1.8 3.1h-3.6ZM203.5 661.5l-1.8 -3.1h3.6ZM204.0 656.6l1.8 3.1h-3.6ZM189.6 658.2l1.8 3.1h-3.6ZM203.3 656.8l1.8 3.1h-3.6ZM201.5 658.7l-1.8 -3.1h3.6ZM194.1 655.2l1.8 3.1h-3.6ZM192.5 654.7l1.8 3.1h-3.6ZM191.1 654.7l1.8 3.1h-3.6ZM198.8 654.9l1.8 3.1h-3.6ZM202.2 655.1l1.8 3.1h-3.6ZM201.0 655.1l1.8 3.1h-3.6ZM197.2 654.8l1.8 3.1h-3.6ZM195.0 658.8l-1.8 -3.1h3.6ZM196.2 654.8l1.8 3.1h-3.6Z" fill="#2f7d12"/>
<path d="M204.4 659.4L220.9 659.4L220.9 660.7L219.8 661.8L205.6 661.8L204.4 660.7ZM216.2 656.0l1.8 3.1h-3.6ZM211.4 659.7l-1.8 -3.1h3.6ZM211.4 660.0l-1.8 -3.1h3.6ZM214.3 659.4l-1.8 -3.1h3.6ZM211.8 659.9l-1.8 -3.1h3.6ZM216.4 656.2l1.8 3.1h-3.6ZM209.8 656.3l1.8 3.1h-3.6ZM212.6 655.8l1.8 3.1h-3.6ZM211.4 656.2l1.8 3.1h-3.6ZM209.5 655.8l1.8 3.1h-3.6ZM216.4 655.7l1.8 3.1h-3.6ZM218.0 655.7l1.8 3.1h-3.6ZM209.7 655.8l1.8 3.1h-3.6ZM212.3 659.9l-1.8 -3.1h3.6ZM216.0 659.5l-1.8 -3.1h3.6ZM217.3 659.6l-1.8 -3.1h3.6ZM205.7 655.8l1.8 3.1h-3.6ZM219.8 656.4l1.8 3.1h-3.6ZM209.2 656.4l1.8 3.1h-3.6ZM208.4 659.6l-1.8 -3.1h3.6ZM215.5 656.1l1.8 3.1h-3.6ZM213.0 660.2l-1.8 -3.1h3.6ZM205.8 660.9l-1.8 -3.1h3.6ZM204.9 656.9l1.8 3.1h-3.6ZM204.8 660.5l-1.8 -3.1h3.6ZM205.7 656.5l1.8 3.1h-3.6ZM219.6 661.0l-1.8 -3.1h3.6ZM219.9 656.2l1.8 3.1h-3.6ZM205.4 661.0l-1.8 -3.1h3.6ZM205.2 657.9l1.8 3.1h-3.6ZM216.9 655.9l1.8 3.1h-3.6ZM214.3 656.0l1.8 3.1h-3.6ZM211.8 659.7l-1.8 -3.1h3.6ZM207.8 655.9l1.8 3.1h-3.6ZM206.1 659.7l-1.8 -3.1h3.6ZM216.0 659.7l-1.8 -3.1h3.6ZM213.8 659.7l-1.8 -3.1h3.6ZM218.9 659.7l-1.8 -3.1h3.6ZM206.6 659.7l-1.8 -3.1h3.6ZM218.3 655.9l1.8 3.1h-3.6Z" fill="#b88878"/>
<path d="M220.8 659.4L237.2 659.4L237.2 660.7L236.1 661.8L221.9 661.8L220.8 660.7ZM230.0 660.2l-1.8 -3.1h3.6ZM230.4 659.7l-1.8 -3.1h3.6ZM221.8 656.1l1.8 3.1h-3.6ZM229.5 659.7l-1.8 -3.1h3.6ZM230.0 660.1l-1.8 -3.1h3.6ZM224.2 660.1l-1.8 -3.1h3.6ZM225.6 659.7l-1.8 -3.1h3.6ZM225.6 655.9l1.8 3.1h-3.6ZM230.5 655.9l1.8 3.1h-3.6ZM235.0 656.3l1.8 3.1h-3.6ZM230.3 656.1l1.8 3.1h-3.6ZM221.6 655.8l1.8 3.1h-3.6ZM232.5 656.0l1.8 3.1h-3.6ZM232.7 659.4l-1.8 -3.1h3.6ZM231.6 656.2l1.8 3.1h-3.6ZM234.6 655.9l1.8 3.1h-3.6ZM222.5 660.2l-1.8 -3.1h3.6ZM232.8 655.8l1.8 3.1h-3.6ZM229.9 656.0l1.8 3.1h-3.6ZM232.5 656.4l1.8 3.1h-3.6ZM224.7 655.8l1.8 3.1h-3.6ZM223.9 659.8l-1.8 -3.1h3.6ZM221.8 658.0l1.8 3.1h-3.6ZM222.0 657.1l1.8 3.1h-3.6ZM222.1 660.3l-1.8 -3.1h3.6ZM221.2 660.9l-1.8 -3.1h3.6ZM236.4 661.4l-1.8 -3.1h3.6ZM222.1 657.2l1.8 3.1h-3.6ZM236.5 660.3l-1.8 -3.1h3.6ZM221.7 656.9l1.8 3.1h-3.6ZM223.6 655.9l1.8 3.1h-3.6ZM232.0 656.0l1.8 3.1h-3.6ZM226.3 659.7l-1.8 -3.1h3.6ZM228.4 659.7l-1.8 -3.1h3.6ZM225.6 655.9l1.8 3.1h-3.6ZM223.6 659.7l-1.8 -3.1h3.6ZM235.2 655.9l1.8 3.1h-3.6ZM230.2 659.7l-1.8 -3.1h3.6ZM225.2 655.9l1.8 3.1h-3.6ZM226.1 659.7l-1.8 -3.1h3.6Z" fill="#33ee33"/>
<path d="M237.1 659.0L253.6 659.0L253.6 660.7L252.4 661.8L238.2 661.8L237.1 660.7ZM249.5 659.4l-1.8 -3.1h3.6ZM240.0 659.6l-1.8 -3.1h3.6ZM249.1 659.3l-1.8 -3.1h3.6ZM247.4 655.5l1.8 3.1h-3.6ZM250.8 655.9l1.8 3.1h-3.6ZM247.1 655.5l1.8 3.1h-3.6ZM252.7 655.3l1.8 3.1h-3.6ZM250.2 659.8l-1.8 -3.1h3.6ZM245.4 659.7l-1.8 -3.1h3.6ZM243.0 659.8l-1.8 -3.1h3.6ZM252.6 659.7l-1.8 -3.1h3.6ZM241.1 655.4l1.8 3.1h-3.6ZM251.5 655.6l1.8 3.1h-3.6ZM240.7 659.3l-1.8 -3.1h3.6ZM240.2 655.8l1.8 3.1h-3.6ZM246.6 655.9l1.8 3.1h-3.6ZM243.5 659.8l-1.8 -3.1h3.6ZM251.9 659.5l-1.8 -3.1h3.6ZM250.9 655.4l1.8 3.1h-3.6ZM245.1 659.1l-1.8 -3.1h3.6ZM251.4 656.0l1.8 3.1h-3.6ZM245.8 655.6l1.8 3.1h-3.6ZM237.7 655.7l1.8 3.1h-3.6ZM252.7 656.7l1.8 3.1h-3.6ZM237.6 660.6l-1.8 -3.1h3.6ZM253.2 659.7l-1.8 -3.1h3.6ZM252.6 656.2l1.8 3.1h-3.6ZM237.4 660.7l-1.8 -3.1h3.6ZM237.5 659.7l-1.8 -3.1h3.6ZM238.5 659.7l-1.8 -3.1h3.6ZM248.3 654.9l1.8 3.1h-3.6ZM242.5 658.8l-1.8 -3.1h3.6ZM250.5 658.9l-1.8 -3.1h3.6ZM249.8 658.7l-1.8 -3.1h3.6ZM251.7 654.8l1.8 3.1h-3.6ZM246.5 658.9l-1.8 -3.1h3.6ZM247.5 658.9l-1.8 -3.1h3.6ZM248.5 659.0l-1.8 -3.1h3.6ZM247.4 655.3l1.8 3.1h-3.6ZM249.5 655.0l1.8 3.1h-3.6Z" fill="#c8b0d8"/>
<path d="M253.4 658.5L269.9 658.5L269.9 660.7L268.7 661.8L254.6 661.8L253.4 660.7ZM262.4 658.6l-1.8 -3.1h3.6ZM257.1 659.3l-1.8 -3.1h3.6ZM263.8 655.1l1.8 3.1h-3.6ZM266.2 654.7l1.8 3.1h-3.6ZM256.8 655.5l1.8 3.1h-3.6ZM261.9 659.3l-1.8 -3.1h3.6ZM269.0 655.0l1.8 3.1h-3.6ZM263.6 655.5l1.8 3.1h-3.6ZM262.9 654.9l1.8 3.1h-3.6ZM259.2 658.8l-1.8 -3.1h3.6ZM257.5 658.8l-1.8 -3.1h3.6ZM265.3 655.1l1.8 3.1h-3.6ZM260.7 655.4l1.8 3.1h-3.6ZM262.4 655.2l1.8 3.1h-3.6ZM262.6 658.6l-1.8 -3.1h3.6ZM256.8 655.3l1.8 3.1h-3.6ZM257.7 655.5l1.8 3.1h-3.6ZM260.5 658.9l-1.8 -3.1h3.6ZM267.1 655.0l1.8 3.1h-3.6ZM260.1 655.5l1.8 3.1h-3.6ZM254.7 655.5l1.8 3.1h-3.6ZM267.6 659.3l-1.8 -3.1h3.6ZM253.9 657.2l1.8 3.1h-3.6ZM254.4 656.2l1.8 3.1h-3.6ZM269.1 655.8l1.8 3.1h-3.6ZM254.2 657.4l1.8 3.1h-3.6ZM269.5 661.8l-1.8 -3.1h3.6ZM254.0 655.2l1.8 3.1h-3.6ZM268.4 661.4l-1.8 -3.1h3.6ZM254.8 660.5l-1.8 -3.1h3.6ZM260.6 654.4l1.8 3.1h-3.6ZM267.9 657.9l-1.8 -3.1h3.6ZM256.5 658.1l-1.8 -3.1h3.6ZM266.3 658.6l-1.8 -3.1h3.6ZM263.0 658.5l-1.8 -3.1h3.6ZM256.3 654.2l1.8 3.1h-3.6ZM263.5 654.3l1.8 3.1h-3.6ZM262.9 654.1l1.8 3.1h-3.6ZM265.1 658.4l-1.8 -3.1h3.6ZM263.7 658.1l-1.8 -3.1h3.6Z" fill="#6e6e6e"/>
<path d="M269.7 659.4L286.2 659.4L286.2 660.7L285.0 661.8L270.9 661.8L269.7 660.7ZM276.2 656.4l1.8 3.1h-3.6ZM274.1 655.9l1.8 3.1h-3.6ZM282.2 659.9l-1.8 -3.1h3.6ZM279.4 660.0l-1.8 -3.1h3.6ZM274.7 656.2l1.8 3.1h-3.6ZM280.5 659.7l-1.8 -3.1h3.6ZM279.0 655.6l1.8 3.1h-3.6ZM274.5 659.9l-1.8 -3.1h3.6ZM282.9 659.6l-1.8 -3.1h3.6ZM281.4 660.1l-1.8 -3.1h3.6ZM272.8 660.1l-1.8 -3.1h3.6ZM283.3 656.1l1.8 3.1h-3.6ZM279.2 659.5l-1.8 -3.1h3.6ZM272.4 659.7l-1.8 -3.1h3.6ZM284.4 655.8l1.8 3.1h-3.6ZM271.1 659.6l-1.8 -3.1h3.6ZM279.4 656.3l1.8 3.1h-3.6ZM272.7 655.7l1.8 3.1h-3.6ZM280.0 659.8l-1.8 -3.1h3.6ZM276.3 656.2l1.8 3.1h-3.6ZM279.0 655.7l1.8 3.1h-3.6ZM285.1 656.1l1.8 3.1h-3.6ZM271.0 657.6l1.8 3.1h-3.6ZM270.8 661.9l-1.8 -3.1h3.6ZM285.0 657.8l1.8 3.1h-3.6ZM271.0 660.9l-1.8 -3.1h3.6ZM285.1 656.9l1.8 3.1h-3.6ZM270.9 660.7l-1.8 -3.1h3.6ZM271.1 660.8l-1.8 -3.1h3.6ZM284.8 657.4l1.8 3.1h-3.6ZM279.8 655.7l1.8 3.1h-3.6ZM274.3 655.6l1.8 3.1h-3.6ZM282.6 655.8l1.8 3.1h-3.6ZM275.2 655.5l1.8 3.1h-3.6ZM275.6 659.6l-1.8 -3.1h3.6ZM280.5 656.0l1.8 3.1h-3.6ZM276.4 659.6l-1.8 -3.1h3.6ZM282.9 655.7l1.8 3.1h-3.6ZM281.2 655.8l1.8 3.1h-3.6ZM271.3 659.5l-1.8 -3.1h3.6Z" fill="#f088c8"/>
<path d="M285.9 658.6L302.4 658.6L302.4 660.7L301.2 661.8L287.1 661.8L285.9 660.7ZM293.8 658.8l-1.8 -3.1h3.6ZM294.9 659.0l-1.8 -3.1h3.6ZM290.7 659.2l-1.8 -3.1h3.6ZM295.4 659.3l-1.8 -3.1h3.6ZM293.6 655.5l1.8 3.1h-3.6ZM296.0 659.5l-1.8 -3.1h3.6ZM287.1 659.2l-1.8 -3.1h3.6ZM300.9 655.0l1.8 3.1h-3.6ZM295.5 659.2l-1.8 -3.1h3.6ZM294.2 655.0l1.8 3.1h-3.6ZM296.3 655.5l1.8 3.1h-3.6ZM290.5 655.5l1.8 3.1h-3.6ZM292.7 655.1l1.8 3.1h-3.6ZM301.4 655.1l1.8 3.1h-3.6ZM295.7 654.9l1.8 3.1h-3.6ZM298.1 655.5l1.8 3.1h-3.6ZM292.1 659.1l-1.8 -3.1h3.6ZM299.0 655.5l1.8 3.1h-3.6ZM291.6 654.9l1.8 3.1h-3.6ZM289.5 654.9l1.8 3.1h-3.6ZM295.7 659.1l-1.8 -3.1h3.6ZM295.0 658.9l-1.8 -3.1h3.6ZM286.6 656.8l1.8 3.1h-3.6ZM302.0 656.2l1.8 3.1h-3.6ZM286.5 656.5l1.8 3.1h-3.6ZM301.4 659.4l-1.8 -3.1h3.6ZM287.2 660.9l-1.8 -3.1h3.6ZM287.3 655.5l1.8 3.1h-3.6ZM286.9 656.5l1.8 3.1h-3.6ZM286.9 656.8l1.8 3.1h-3.6ZM296.2 654.9l1.8 3.1h-3.6ZM290.6 654.5l1.8 3.1h-3.6ZM298.2 654.6l1.8 3.1h-3.6ZM287.9 658.4l-1.8 -3.1h3.6ZM293.0 658.5l-1.8 -3.1h3.6ZM298.2 658.7l-1.8 -3.1h3.6ZM292.7 657.9l-1.8 -3.1h3.6ZM297.2 655.1l1.8 3.1h-3.6ZM296.0 655.0l1.8 3.1h-3.6ZM300.1 658.1l-1.8 -3.1h3.6Z" fill="#857525"/>
<path d="M302.2 659.4L318.8 659.4L318.8 660.7L317.6 661.8L303.4 661.8L302.2 660.7ZM313.2 655.9l1.8 3.1h-3.6ZM313.6 655.9l1.8 3.1h-3.6ZM316.3 659.5l-1.8 -3.1h3.6ZM317.0 656.2l1.8 3.1h-3.6ZM309.8 655.6l1.8 3.1h-3.6ZM306.6 659.5l-1.8 -3.1h3.6ZM309.9 655.7l1.8 3.1h-3.6ZM305.9 656.4l1.8 3.1h-3.6ZM316.8 656.2l1.8 3.1h-3.6ZM304.0 656.2l1.8 3.1h-3.6ZM307.8 656.2l1.8 3.1h-3.6ZM314.9 660.1l-1.8 -3.1h3.6ZM309.2 656.0l1.8 3.1h-3.6ZM305.5 656.4l1.8 3.1h-3.6ZM312.8 655.9l1.8 3.1h-3.6ZM312.0 656.3l1.8 3.1h-3.6ZM314.7 655.9l1.8 3.1h-3.6ZM312.2 655.9l1.8 3.1h-3.6ZM303.3 656.0l1.8 3.1h-3.6ZM309.6 656.2l1.8 3.1h-3.6ZM308.7 656.3l1.8 3.1h-3.6ZM305.8 655.9l1.8 3.1h-3.6ZM302.6 657.2l1.8 3.1h-3.6ZM317.9 661.5l-1.8 -3.1h3.6ZM318.1 656.3l1.8 3.1h-3.6ZM303.0 660.9l-1.8 -3.1h3.6ZM302.7 657.4l1.8 3.1h-3.6ZM317.4 657.7l1.8 3.1h-3.6ZM303.5 656.8l1.8 3.1h-3.6ZM303.0 657.5l1.8 3.1h-3.6ZM308.0 659.6l-1.8 -3.1h3.6ZM304.0 659.3l-1.8 -3.1h3.6ZM312.4 659.4l-1.8 -3.1h3.6ZM309.5 655.9l1.8 3.1h-3.6ZM311.9 659.4l-1.8 -3.1h3.6ZM317.0 659.6l-1.8 -3.1h3.6ZM307.5 655.6l1.8 3.1h-3.6ZM311.9 655.6l1.8 3.1h-3.6ZM316.9 659.5l-1.8 -3.1h3.6ZM307.9 655.6l1.8 3.1h-3.6Z" fill="#9900ee"/>
<line x1="28.60" y1="650.70" x2="332.20" y2="650.70" stroke="#f8826f" stroke-width="0.9" stroke-dasharray="2.6,2"/>
<line x1="28.60" y1="656.40" x2="332.20" y2="656.40" stroke="#1a1aa0" stroke-width="1.1" stroke-dasharray="2.6,2"/>
<line x1="28.60" y1="511.50" x2="28.60" y2="667.50" stroke="#000" stroke-width="1.2" />
<line x1="28.00" y1="667.00" x2="332.20" y2="667.00" stroke="#000" stroke-width="1.4" />
<line x1="26.00" y1="660.10" x2="28.60" y2="660.10" stroke="#222" stroke-width="1.1" />
<text x="24.20" y="662.50" font-size="7" fill="#4d4d4d" text-anchor="end" font-weight="normal" stroke="#4d4d4d" stroke-width="0.18" >0</text>
<line x1="26.00" y1="642.10" x2="28.60" y2="642.10" stroke="#222" stroke-width="1.1" />
<text x="24.20" y="644.50" font-size="7" fill="#4d4d4d" text-anchor="end" font-weight="normal" stroke="#4d4d4d" stroke-width="0.18" >10</text>
<line x1="26.00" y1="624.10" x2="28.60" y2="624.10" stroke="#222" stroke-width="1.1" />
<text x="24.20" y="626.50" font-size="7" fill="#4d4d4d" text-anchor="end" font-weight="normal" stroke="#4d4d4d" stroke-width="0.18" >20</text>
<line x1="26.00" y1="606.10" x2="28.60" y2="606.10" stroke="#222" stroke-width="1.1" />
<text x="24.20" y="608.50" font-size="7" fill="#4d4d4d" text-anchor="end" font-weight="normal" stroke="#4d4d4d" stroke-width="0.18" >30</text>
<line x1="26.00" y1="588.10" x2="28.60" y2="588.10" stroke="#222" stroke-width="1.1" />
<text x="24.20" y="590.50" font-size="7" fill="#4d4d4d" text-anchor="end" font-weight="normal" stroke="#4d4d4d" stroke-width="0.18" >40</text>
<line x1="26.00" y1="570.10" x2="28.60" y2="570.10" stroke="#222" stroke-width="1.1" />
<text x="24.20" y="572.50" font-size="7" fill="#4d4d4d" text-anchor="end" font-weight="normal" stroke="#4d4d4d" stroke-width="0.18" >50</text>
<line x1="26.00" y1="552.10" x2="28.60" y2="552.10" stroke="#222" stroke-width="1.1" />
<text x="24.20" y="554.50" font-size="7" fill="#4d4d4d" text-anchor="end" font-weight="normal" stroke="#4d4d4d" stroke-width="0.18" >60</text>
<line x1="26.00" y1="534.10" x2="28.60" y2="534.10" stroke="#222" stroke-width="1.1" />
<text x="24.20" y="536.50" font-size="7" fill="#4d4d4d" text-anchor="end" font-weight="normal" stroke="#4d4d4d" stroke-width="0.18" >70</text>
<line x1="26.00" y1="516.10" x2="28.60" y2="516.10" stroke="#222" stroke-width="1.1" />
<text x="24.20" y="518.50" font-size="7" fill="#4d4d4d" text-anchor="end" font-weight="normal" stroke="#4d4d4d" stroke-width="0.18" >80</text>
<line x1="49.70" y1="667.00" x2="49.70" y2="670.00" stroke="#333" stroke-width="0.8" />
<text transform="translate(51.34,678.17) rotate(-45)" font-size="5.9" fill="#262626" text-anchor="end">neoplasms</text>
<line x1="66.00" y1="667.00" x2="66.00" y2="670.00" stroke="#333" stroke-width="0.8" />
<text transform="translate(71.47,674.34) rotate(-45)" font-size="5.9" fill="#262626" text-anchor="end">endocrine/metabolic</text>
<line x1="82.30" y1="667.00" x2="82.30" y2="670.00" stroke="#333" stroke-width="0.8" />
<text transform="translate(86.32,675.79) rotate(-45)" font-size="5.9" fill="#262626" text-anchor="end">mental disorders</text>
<line x1="98.60" y1="667.00" x2="98.60" y2="670.00" stroke="#333" stroke-width="0.8" />
<text transform="translate(101.54,676.88) rotate(-45)" font-size="5.9" fill="#262626" text-anchor="end">hematopoietic</text>
<line x1="114.90" y1="667.00" x2="114.90" y2="670.00" stroke="#333" stroke-width="0.8" />
<text transform="translate(116.44,678.28) rotate(-45)" font-size="5.9" fill="#262626" text-anchor="end">respiratory</text>
<line x1="131.20" y1="667.00" x2="131.20" y2="670.00" stroke="#333" stroke-width="0.8" />
<text transform="translate(135.79,675.23) rotate(-45)" font-size="5.9" fill="#262626" text-anchor="end">circulatory system</text>
<line x1="147.50" y1="667.00" x2="147.50" y2="670.00" stroke="#333" stroke-width="0.8" />
<text transform="translate(152.50,674.81) rotate(-45)" font-size="5.9" fill="#262626" text-anchor="end">infectious diseases</text>
<line x1="163.80" y1="667.00" x2="163.80" y2="670.00" stroke="#333" stroke-width="0.8" />
<text transform="translate(166.32,677.29) rotate(-45)" font-size="5.9" fill="#262626" text-anchor="end">genitourinary</text>
<line x1="180.10" y1="667.00" x2="180.10" y2="670.00" stroke="#333" stroke-width="0.8" />
<text transform="translate(187.48,672.43) rotate(-45)" font-size="5.9" fill="#262626" text-anchor="end">pregnancy complications</text>
<line x1="196.40" y1="667.00" x2="196.40" y2="670.00" stroke="#333" stroke-width="0.8" />
<text transform="translate(197.21,679.00) rotate(-45)" font-size="5.9" fill="#262626" text-anchor="end">digestive</text>
<line x1="212.70" y1="667.00" x2="212.70" y2="670.00" stroke="#333" stroke-width="0.8" />
<text transform="translate(216.46,676.05) rotate(-45)" font-size="5.9" fill="#262626" text-anchor="end">musculoskeletal</text>
<line x1="229.00" y1="667.00" x2="229.00" y2="670.00" stroke="#333" stroke-width="0.8" />
<text transform="translate(234.88,673.93) rotate(-45)" font-size="5.9" fill="#262626" text-anchor="end">congenital anomalies</text>
<line x1="245.30" y1="667.00" x2="245.30" y2="670.00" stroke="#333" stroke-width="0.8" />
<text transform="translate(247.77,677.34) rotate(-45)" font-size="5.9" fill="#262626" text-anchor="end">dermatologic</text>
<line x1="261.60" y1="667.00" x2="261.60" y2="670.00" stroke="#333" stroke-width="0.8" />
<text transform="translate(267.28,674.14) rotate(-45)" font-size="5.9" fill="#262626" text-anchor="end">injuries &amp; poisonings</text>
<line x1="277.90" y1="667.00" x2="277.90" y2="670.00" stroke="#333" stroke-width="0.8" />
<text transform="translate(280.06,677.65) rotate(-45)" font-size="5.9" fill="#262626" text-anchor="end">neurological</text>
<line x1="294.20" y1="667.00" x2="294.20" y2="670.00" stroke="#333" stroke-width="0.8" />
<text transform="translate(296.93,677.08) rotate(-45)" font-size="5.9" fill="#262626" text-anchor="end">sense organs</text>
<line x1="310.50" y1="667.00" x2="310.50" y2="670.00" stroke="#333" stroke-width="0.8" />
<text transform="translate(311.88,678.43) rotate(-45)" font-size="5.9" fill="#262626" text-anchor="end">symptoms</text>
<text transform="translate(7.60,591.90) rotate(-90)" font-size="9.3" fill="#1a1a1a" text-anchor="middle">-log<tspan font-size="5.77" dy="2.79">10</tspan><tspan dy="-2.79"> p-value</tspan></text>
<text x="190.40" y="513.70" font-size="8.2" fill="#1a1a1a" text-anchor="middle" font-weight="normal" >rs72654473</text>
<path d="M65.00 521.04L67.00 517.36L63.00 517.36Z" fill="#7b1a1a" />
<path d="M60.30 521.84L62.30 518.16L58.30 518.16Z" fill="#7b1a1a" />
<path d="M71.90 543.54L73.90 539.86L69.90 539.86Z" fill="#7b1a1a" />
<path d="M69.90 583.44L71.90 579.76L67.90 579.76Z" fill="#7b1a1a" />
<path d="M64.00 638.26L66.00 641.94L62.00 641.94Z" fill="#7b1a1a" />
<path d="M67.40 651.14L69.40 647.46L65.40 647.46Z" fill="#7b1a1a" />
<path d="M128.30 650.04L130.30 646.36L126.30 646.36Z" fill="#ff0000" />
<path d="M130.60 651.64L132.60 647.96L128.60 647.96Z" fill="#ff0000" />
<path d="M124.00 652.66L126.00 656.34L122.00 656.34Z" fill="#ff0000" />
<path d="M133.00 652.16L135.00 655.84L131.00 655.84Z" fill="#ff0000" />
<text x="69.10" y="516.50" font-size="5.9" fill="#262626" text-anchor="start" font-weight="normal" stroke="#262626" stroke-width="0.18" >Hyperlipidemia</text>
<text x="54.80" y="527.40" font-size="5.9" fill="#262626" text-anchor="start" font-weight="normal" stroke="#262626" stroke-width="0.18" >Disorders of lipoid metabolism</text>
<text x="76.60" y="539.40" font-size="5.9" fill="#262626" text-anchor="start" font-weight="normal" stroke="#262626" stroke-width="0.18" >Hypercholesterolemia</text>
<text x="74.60" y="579.50" font-size="5.9" fill="#262626" text-anchor="start" font-weight="normal" stroke="#262626" stroke-width="0.18" >Mixed hyperlipidemia</text>
<text x="67.90" y="637.00" font-size="5.9" fill="#262626" text-anchor="start" font-weight="normal" stroke="#262626" stroke-width="0.18" >Hyperglyceridemia</text>
<text x="29.60" y="646.20" font-size="5.75" fill="#262626" text-anchor="start" font-weight="normal" stroke="#262626" stroke-width="0.18" >Unspecified disorder of lipoid metabolism</text>
<text x="128.00" y="640.00" font-size="5.9" fill="#262626" text-anchor="start" font-weight="normal" stroke="#262626" stroke-width="0.18" >Coronary atherosclerosis</text>
<text x="136.20" y="649.00" font-size="5.9" fill="#262626" text-anchor="start" font-weight="normal" stroke="#262626" stroke-width="0.18" >Ischemic Heart Disease</text>
<line x1="508.30" y1="296.00" x2="508.30" y2="482.90" stroke="#000" stroke-width="0.9" stroke-dasharray="2.8,1.6"/>
<line x1="467.60" y1="296.00" x2="467.60" y2="483.50" stroke="#000" stroke-width="1.2" />
<line x1="467.00" y1="482.90" x2="658.20" y2="482.90" stroke="#000" stroke-width="1.2" />
<line x1="464.80" y1="305.00" x2="467.60" y2="305.00" stroke="#222" stroke-width="1.0" />
<text x="462.20" y="307.14" font-size="5.95" fill="#262626" text-anchor="end" font-weight="normal" stroke="#262626" stroke-width="0.18" >Dementias</text>
<line x1="574.40" y1="305.00" x2="587.10" y2="305.00" stroke="#ff00ff" stroke-width="1.0" />
<line x1="574.40" y1="304.00" x2="574.40" y2="306.00" stroke="#ff00ff" stroke-width="1.0" />
<line x1="587.10" y1="304.00" x2="587.10" y2="306.00" stroke="#ff00ff" stroke-width="1.0" />
<rect x="578.50" y="302.90" width="4.20" height="4.20" fill="#ff00ff" />
<line x1="464.80" y1="313.92" x2="467.60" y2="313.92" stroke="#222" stroke-width="1.0" />
<text x="462.20" y="316.06" font-size="5.95" fill="#262626" text-anchor="end" font-weight="normal" stroke="#262626" stroke-width="0.18" >Alzheimer's disease</text>
<line x1="625.80" y1="313.92" x2="648.00" y2="313.92" stroke="#ff00ff" stroke-width="1.0" />
<line x1="625.80" y1="312.92" x2="625.80" y2="314.92" stroke="#ff00ff" stroke-width="1.0" />
<line x1="648.00" y1="312.92" x2="648.00" y2="314.92" stroke="#ff00ff" stroke-width="1.0" />
<rect x="634.80" y="311.82" width="4.20" height="4.20" fill="#ff00ff" />
<line x1="464.80" y1="322.84" x2="467.60" y2="322.84" stroke="#222" stroke-width="1.0" />
<text x="462.20" y="324.98" font-size="5.95" fill="#262626" text-anchor="end" font-weight="normal" stroke="#262626" stroke-width="0.18" >Delirium dementia</text>
<line x1="546.50" y1="322.84" x2="556.50" y2="322.84" stroke="#ff00ff" stroke-width="1.0" />
<line x1="546.50" y1="321.84" x2="546.50" y2="323.84" stroke="#ff00ff" stroke-width="1.0" />
<line x1="556.50" y1="321.84" x2="556.50" y2="323.84" stroke="#ff00ff" stroke-width="1.0" />
<rect x="549.50" y="320.74" width="4.20" height="4.20" fill="#ff00ff" />
<line x1="464.80" y1="331.76" x2="467.60" y2="331.76" stroke="#222" stroke-width="1.0" />
<text x="462.20" y="333.90" font-size="5.95" fill="#262626" text-anchor="end" font-weight="normal" stroke="#262626" stroke-width="0.18" >Hyperglyceridemia</text>
<line x1="538.00" y1="331.76" x2="546.90" y2="331.76" stroke="#8b1a1a" stroke-width="1.0" />
<line x1="538.00" y1="330.76" x2="538.00" y2="332.76" stroke="#8b1a1a" stroke-width="1.0" />
<line x1="546.90" y1="330.76" x2="546.90" y2="332.76" stroke="#8b1a1a" stroke-width="1.0" />
<rect x="540.10" y="329.66" width="4.20" height="4.20" fill="#8b1a1a" />
<line x1="464.80" y1="340.68" x2="467.60" y2="340.68" stroke="#222" stroke-width="1.0" />
<text x="462.20" y="342.82" font-size="5.95" fill="#262626" text-anchor="end" font-weight="normal" stroke="#262626" stroke-width="0.18" >Mild cognitive impairment</text>
<line x1="545.20" y1="340.68" x2="556.00" y2="340.68" stroke="#ff00ff" stroke-width="1.0" />
<line x1="545.20" y1="339.68" x2="545.20" y2="341.68" stroke="#ff00ff" stroke-width="1.0" />
<line x1="556.00" y1="339.68" x2="556.00" y2="341.68" stroke="#ff00ff" stroke-width="1.0" />
<rect x="548.40" y="338.58" width="4.20" height="4.20" fill="#ff00ff" />
<line x1="464.80" y1="349.60" x2="467.60" y2="349.60" stroke="#222" stroke-width="1.0" />
<text x="462.20" y="351.74" font-size="5.95" fill="#262626" text-anchor="end" font-weight="normal" stroke="#262626" stroke-width="0.18" >Memory loss</text>
<line x1="528.50" y1="349.60" x2="535.60" y2="349.60" stroke="#ff00ff" stroke-width="1.0" />
<line x1="528.50" y1="348.60" x2="528.50" y2="350.60" stroke="#ff00ff" stroke-width="1.0" />
<line x1="535.60" y1="348.60" x2="535.60" y2="350.60" stroke="#ff00ff" stroke-width="1.0" />
<rect x="529.90" y="347.50" width="4.20" height="4.20" fill="#ff00ff" />
<line x1="464.80" y1="358.52" x2="467.60" y2="358.52" stroke="#222" stroke-width="1.0" />
<text x="462.20" y="360.66" font-size="5.95" fill="#262626" text-anchor="end" font-weight="normal" stroke="#262626" stroke-width="0.18" >Chronic liver disease and cirrhosis</text>
<line x1="494.00" y1="358.52" x2="497.60" y2="358.52" stroke="#3a8a1a" stroke-width="1.0" />
<line x1="494.00" y1="357.52" x2="494.00" y2="359.52" stroke="#3a8a1a" stroke-width="1.0" />
<line x1="497.60" y1="357.52" x2="497.60" y2="359.52" stroke="#3a8a1a" stroke-width="1.0" />
<ellipse cx="495.80" cy="358.52" rx="2.6" ry="1.75" fill="#3a8a1a"/>
<line x1="464.80" y1="367.44" x2="467.60" y2="367.44" stroke="#222" stroke-width="1.0" />
<text x="462.20" y="369.58" font-size="5.95" fill="#262626" text-anchor="end" font-weight="normal" stroke="#262626" stroke-width="0.18" >Neurological disorders</text>
<line x1="518.00" y1="367.44" x2="520.50" y2="367.44" stroke="#ff00ff" stroke-width="1.0" />
<line x1="518.00" y1="366.44" x2="518.00" y2="368.44" stroke="#ff00ff" stroke-width="1.0" />
<line x1="520.50" y1="366.44" x2="520.50" y2="368.44" stroke="#ff00ff" stroke-width="1.0" />
<ellipse cx="519.30" cy="367.44" rx="2.6" ry="1.75" fill="#ff00ff"/>
<line x1="464.80" y1="376.36" x2="467.60" y2="376.36" stroke="#222" stroke-width="1.0" />
<text x="462.20" y="378.50" font-size="5.95" fill="#262626" text-anchor="end" font-weight="normal" stroke="#262626" stroke-width="0.18" >Dementia with cerebral degenerations</text>
<line x1="607.40" y1="376.36" x2="649.70" y2="376.36" stroke="#ff00ff" stroke-width="1.0" />
<line x1="607.40" y1="375.36" x2="607.40" y2="377.36" stroke="#ff00ff" stroke-width="1.0" />
<line x1="649.70" y1="375.36" x2="649.70" y2="377.36" stroke="#ff00ff" stroke-width="1.0" />
<path d="M628.60 374.06L630.80 377.86L626.40 377.86Z" fill="#ff00ff"/>
<line x1="464.80" y1="385.28" x2="467.60" y2="385.28" stroke="#222" stroke-width="1.0" />
<text x="462.20" y="387.42" font-size="5.95" fill="#262626" text-anchor="end" font-weight="normal" stroke="#262626" stroke-width="0.18" >Other persistent mental disorders</text>
<line x1="533.50" y1="385.28" x2="547.80" y2="385.28" stroke="#ff00ff" stroke-width="1.0" />
<line x1="533.50" y1="384.28" x2="533.50" y2="386.28" stroke="#ff00ff" stroke-width="1.0" />
<line x1="547.80" y1="384.28" x2="547.80" y2="386.28" stroke="#ff00ff" stroke-width="1.0" />
<path d="M540.40 382.98L542.60 386.78L538.20 386.78Z" fill="#ff00ff"/>
<line x1="464.80" y1="394.20" x2="467.60" y2="394.20" stroke="#222" stroke-width="1.0" />
<text x="462.20" y="396.34" font-size="5.95" fill="#262626" text-anchor="end" font-weight="normal" stroke="#262626" stroke-width="0.18" >Other symptoms/disorders or the urinary system</text>
<line x1="501.50" y1="394.20" x2="505.00" y2="394.20" stroke="#000000" stroke-width="1.0" />
<line x1="501.50" y1="393.20" x2="501.50" y2="395.20" stroke="#000000" stroke-width="1.0" />
<line x1="505.00" y1="393.20" x2="505.00" y2="395.20" stroke="#000000" stroke-width="1.0" />
<path d="M503.20 391.90L505.40 395.70L501.00 395.70Z" fill="#000000"/>
<line x1="464.80" y1="403.12" x2="467.60" y2="403.12" stroke="#222" stroke-width="1.0" />
<text x="462.20" y="405.26" font-size="5.95" fill="#262626" text-anchor="end" font-weight="normal" stroke="#262626" stroke-width="0.18" >Septal Deviations/Turbinate Hypertrophy</text>
<line x1="493.40" y1="403.12" x2="501.50" y2="403.12" stroke="#7d3a2a" stroke-width="1.0" />
<line x1="493.40" y1="402.12" x2="493.40" y2="404.12" stroke="#7d3a2a" stroke-width="1.0" />
<line x1="501.50" y1="402.12" x2="501.50" y2="404.12" stroke="#7d3a2a" stroke-width="1.0" />
<path d="M497.40 400.82L499.60 404.62L495.20 404.62Z" fill="#7d3a2a"/>
<line x1="464.80" y1="412.04" x2="467.60" y2="412.04" stroke="#222" stroke-width="1.0" />
<text x="462.20" y="414.18" font-size="5.95" fill="#262626" text-anchor="end" font-weight="normal" stroke="#262626" stroke-width="0.18" >Influenza</text>
<line x1="492.00" y1="412.04" x2="500.60" y2="412.04" stroke="#7d3a2a" stroke-width="1.0" />
<line x1="492.00" y1="411.04" x2="492.00" y2="413.04" stroke="#7d3a2a" stroke-width="1.0" />
<line x1="500.60" y1="411.04" x2="500.60" y2="413.04" stroke="#7d3a2a" stroke-width="1.0" />
<path d="M496.10 409.74L498.30 413.54L493.90 413.54Z" fill="#7d3a2a"/>
<line x1="464.80" y1="420.96" x2="467.60" y2="420.96" stroke="#222" stroke-width="1.0" />
<text x="462.20" y="423.10" font-size="5.95" fill="#262626" text-anchor="end" font-weight="normal" stroke="#262626" stroke-width="0.18" >Tension headache</text>
<line x1="487.60" y1="420.96" x2="498.50" y2="420.96" stroke="#ff00ff" stroke-width="1.0" />
<line x1="487.60" y1="419.96" x2="487.60" y2="421.96" stroke="#ff00ff" stroke-width="1.0" />
<line x1="498.50" y1="419.96" x2="498.50" y2="421.96" stroke="#ff00ff" stroke-width="1.0" />
<path d="M493.00 418.66L495.20 422.46L490.80 422.46Z" fill="#ff00ff"/>
<line x1="464.80" y1="429.88" x2="467.60" y2="429.88" stroke="#222" stroke-width="1.0" />
<text x="462.20" y="432.02" font-size="5.95" fill="#262626" text-anchor="end" font-weight="normal" stroke="#262626" stroke-width="0.18" >Dysuria</text>
<line x1="500.00" y1="429.88" x2="503.80" y2="429.88" stroke="#000000" stroke-width="1.0" />
<line x1="500.00" y1="428.88" x2="500.00" y2="430.88" stroke="#000000" stroke-width="1.0" />
<line x1="503.80" y1="428.88" x2="503.80" y2="430.88" stroke="#000000" stroke-width="1.0" />
<path d="M501.80 427.58L504.00 431.38L499.60 431.38Z" fill="#000000"/>
<line x1="464.80" y1="438.80" x2="467.60" y2="438.80" stroke="#222" stroke-width="1.0" />
<text x="462.20" y="440.94" font-size="5.95" fill="#262626" text-anchor="end" font-weight="normal" stroke="#262626" stroke-width="0.18" >Varicella infection</text>
<line x1="475.90" y1="438.80" x2="492.40" y2="438.80" stroke="#1a1aff" stroke-width="1.0" />
<line x1="475.90" y1="437.80" x2="475.90" y2="439.80" stroke="#1a1aff" stroke-width="1.0" />
<line x1="492.40" y1="437.80" x2="492.40" y2="439.80" stroke="#1a1aff" stroke-width="1.0" />
<path d="M484.00 436.50L486.20 440.30L481.80 440.30Z" fill="#1a1aff"/>
<line x1="464.80" y1="447.72" x2="467.60" y2="447.72" stroke="#222" stroke-width="1.0" />
<text x="462.20" y="449.86" font-size="5.95" fill="#262626" text-anchor="end" font-weight="normal" stroke="#262626" stroke-width="0.18" >Abnormal results of function study of liver</text>
<line x1="489.50" y1="447.72" x2="499.30" y2="447.72" stroke="#3a8a1a" stroke-width="1.0" />
<line x1="489.50" y1="446.72" x2="489.50" y2="448.72" stroke="#3a8a1a" stroke-width="1.0" />
<line x1="499.30" y1="446.72" x2="499.30" y2="448.72" stroke="#3a8a1a" stroke-width="1.0" />
<path d="M494.20 445.42L496.40 449.22L492.00 449.22Z" fill="#3a8a1a"/>
<line x1="464.80" y1="456.64" x2="467.60" y2="456.64" stroke="#222" stroke-width="1.0" />
<text x="462.20" y="458.78" font-size="5.95" fill="#262626" text-anchor="end" font-weight="normal" stroke="#262626" stroke-width="0.18" >IBD and other gastroenteritis and colitis</text>
<line x1="489.50" y1="456.64" x2="499.30" y2="456.64" stroke="#3a8a1a" stroke-width="1.0" />
<line x1="489.50" y1="455.64" x2="489.50" y2="457.64" stroke="#3a8a1a" stroke-width="1.0" />
<line x1="499.30" y1="455.64" x2="499.30" y2="457.64" stroke="#3a8a1a" stroke-width="1.0" />
<path d="M494.20 454.34L496.40 458.14L492.00 458.14Z" fill="#3a8a1a"/>
<line x1="464.80" y1="465.56" x2="467.60" y2="465.56" stroke="#222" stroke-width="1.0" />
<text x="462.20" y="467.70" font-size="5.95" fill="#262626" text-anchor="end" font-weight="normal" stroke="#262626" stroke-width="0.18" >Pruritus and related conditions</text>
<line x1="497.00" y1="465.56" x2="502.50" y2="465.56" stroke="#a01820" stroke-width="1.0" />
<line x1="497.00" y1="464.56" x2="497.00" y2="466.56" stroke="#a01820" stroke-width="1.0" />
<line x1="502.50" y1="464.56" x2="502.50" y2="466.56" stroke="#a01820" stroke-width="1.0" />
<path d="M499.70 463.26L501.90 467.06L497.50 467.06Z" fill="#a01820"/>
<line x1="464.80" y1="474.48" x2="467.60" y2="474.48" stroke="#222" stroke-width="1.0" />
<text x="462.20" y="476.62" font-size="5.95" fill="#262626" text-anchor="end" font-weight="normal" stroke="#262626" stroke-width="0.18" >Irregular menstrual cycle</text>
<line x1="494.50" y1="474.48" x2="502.00" y2="474.48" stroke="#000000" stroke-width="1.0" />
<line x1="494.50" y1="473.48" x2="494.50" y2="475.48" stroke="#000000" stroke-width="1.0" />
<line x1="502.00" y1="473.48" x2="502.00" y2="475.48" stroke="#000000" stroke-width="1.0" />
<path d="M498.30 472.18L500.50 475.98L496.10 475.98Z" fill="#000000"/>
<line x1="472.90" y1="482.90" x2="472.90" y2="485.90" stroke="#333" stroke-width="0.8" />
<text x="472.90" y="494.80" font-size="8" fill="#4d4d4d" text-anchor="middle" font-weight="normal" >0.8</text>
<line x1="508.17" y1="482.90" x2="508.17" y2="485.90" stroke="#333" stroke-width="0.8" />
<text x="508.17" y="494.80" font-size="8" fill="#4d4d4d" text-anchor="middle" font-weight="normal" >1.0</text>
<line x1="543.44" y1="482.90" x2="543.44" y2="485.90" stroke="#333" stroke-width="0.8" />
<text x="543.44" y="494.80" font-size="8" fill="#4d4d4d" text-anchor="middle" font-weight="normal" >1.2</text>
<line x1="578.71" y1="482.90" x2="578.71" y2="485.90" stroke="#333" stroke-width="0.8" />
<text x="578.71" y="494.80" font-size="8" fill="#4d4d4d" text-anchor="middle" font-weight="normal" >1.4</text>
<line x1="613.98" y1="482.90" x2="613.98" y2="485.90" stroke="#333" stroke-width="0.8" />
<text x="613.98" y="494.80" font-size="8" fill="#4d4d4d" text-anchor="middle" font-weight="normal" >1.6</text>
<line x1="649.25" y1="482.90" x2="649.25" y2="485.90" stroke="#333" stroke-width="0.8" />
<text x="649.25" y="494.80" font-size="8" fill="#4d4d4d" text-anchor="middle" font-weight="normal" >1.8</text>
<text x="575.00" y="294.30" font-size="9.3" fill="#1a1a1a" text-anchor="middle" font-weight="normal" >rs438811</text>
<text x="572.50" y="504.90" font-size="8.2" fill="#1a1a1a" text-anchor="middle" font-weight="normal" >Odds Ratio with SE</text>
<text x="620.80" y="396.50" font-size="5.6" fill="#262626" text-anchor="start" font-weight="normal" stroke="#262626" stroke-width="0.18" >Significance and groups</text>
<line x1="615.80" y1="402.20" x2="628.00" y2="402.20" stroke="#000" stroke-width="1.0" />
<rect x="618.90" y="399.20" width="6.00" height="6.00" fill="#000" />
<text x="632.10" y="404.22" font-size="5.6" fill="#262626" text-anchor="start" font-weight="normal" stroke="#262626" stroke-width="0.18" >Bonferroni Significant</text>
<line x1="615.80" y1="410.14" x2="628.00" y2="410.14" stroke="#000" stroke-width="1.0" />
<path d="M621.90 406.24L625.70 412.94L618.10 412.94Z" fill="#000"/>
<text x="632.10" y="412.16" font-size="5.6" fill="#262626" text-anchor="start" font-weight="normal" stroke="#262626" stroke-width="0.18" >Nominal Significant</text>
<line x1="615.80" y1="418.08" x2="628.00" y2="418.08" stroke="#000" stroke-width="1.0" />
<path d="M621.90 413.88L626.10 418.08L621.90 422.28L617.70 418.08Z" fill="#000"/>
<text x="632.10" y="420.10" font-size="5.6" fill="#262626" text-anchor="start" font-weight="normal" stroke="#262626" stroke-width="0.18" >Not Significant</text>
<line x1="615.80" y1="426.02" x2="628.00" y2="426.02" stroke="#1a1aff" stroke-width="1.0" />
<rect x="618.90" y="423.02" width="6.00" height="6.00" fill="#1a1aff" />
<text x="632.10" y="428.04" font-size="5.6" fill="#262626" text-anchor="start" font-weight="normal" stroke="#262626" stroke-width="0.18" >infectious diseases</text>
<line x1="615.80" y1="433.96" x2="628.00" y2="433.96" stroke="#8b1a1a" stroke-width="1.0" />
<rect x="618.90" y="430.96" width="6.00" height="6.00" fill="#8b1a1a" />
<text x="632.10" y="435.98" font-size="5.6" fill="#262626" text-anchor="start" font-weight="normal" stroke="#262626" stroke-width="0.18" >endocrine/metabolic</text>
<line x1="615.80" y1="441.90" x2="628.00" y2="441.90" stroke="#ff00ff" stroke-width="1.0" />
<rect x="618.90" y="438.90" width="6.00" height="6.00" fill="#ff00ff" />
<text x="632.10" y="443.92" font-size="5.6" fill="#262626" text-anchor="start" font-weight="normal" stroke="#262626" stroke-width="0.18" >mental disorders</text>
<line x1="615.80" y1="449.84" x2="628.00" y2="449.84" stroke="#7d3a2a" stroke-width="1.0" />
<rect x="618.90" y="446.84" width="6.00" height="6.00" fill="#7d3a2a" />
<text x="632.10" y="451.86" font-size="5.6" fill="#262626" text-anchor="start" font-weight="normal" stroke="#262626" stroke-width="0.18" >respiratory</text>
<line x1="615.80" y1="457.78" x2="628.00" y2="457.78" stroke="#3a7a10" stroke-width="1.0" />
<rect x="618.90" y="454.78" width="6.00" height="6.00" fill="#3a7a10" />
<text x="632.10" y="459.80" font-size="5.6" fill="#262626" text-anchor="start" font-weight="normal" stroke="#262626" stroke-width="0.18" >digestive</text>
<line x1="615.80" y1="465.72" x2="628.00" y2="465.72" stroke="#000" stroke-width="1.0" />
<rect x="618.90" y="462.72" width="6.00" height="6.00" fill="#000" />
<text x="632.10" y="467.74" font-size="5.6" fill="#262626" text-anchor="start" font-weight="normal" stroke="#262626" stroke-width="0.18" >genitourinary</text>
<line x1="615.80" y1="473.66" x2="628.00" y2="473.66" stroke="#a01820" stroke-width="1.0" />
<rect x="618.90" y="470.66" width="6.00" height="6.00" fill="#a01820" />
<text x="632.10" y="475.68" font-size="5.6" fill="#262626" text-anchor="start" font-weight="normal" stroke="#262626" stroke-width="0.18" >dermatologic</text>
<line x1="523.30" y1="533.90" x2="523.30" y2="682.20" stroke="#000" stroke-width="0.9" stroke-dasharray="2.8,1.6"/>
<line x1="467.90" y1="533.90" x2="467.90" y2="682.80" stroke="#000" stroke-width="1.2" />
<line x1="467.30" y1="682.20" x2="658.90" y2="682.20" stroke="#000" stroke-width="1.2" />
<line x1="465.90" y1="541.30" x2="467.90" y2="541.30" stroke="#222" stroke-width="1.0" />
<text x="464.00" y="543.42" font-size="5.9" fill="#262626" text-anchor="end" font-weight="normal" stroke="#262626" stroke-width="0.18" >Hyperlipidemia</text>
<ellipse cx="494.50" cy="541.30" rx="2.4" ry="1.5" fill="#8b1a1a"/>
<line x1="465.90" y1="548.38" x2="467.90" y2="548.38" stroke="#222" stroke-width="1.0" />
<text x="464.00" y="550.50" font-size="5.9" fill="#262626" text-anchor="end" font-weight="normal" stroke="#262626" stroke-width="0.18" >Disorders of lipoid metabolism</text>
<ellipse cx="494.50" cy="548.38" rx="2.4" ry="1.5" fill="#8b1a1a"/>
<line x1="465.90" y1="555.46" x2="467.90" y2="555.46" stroke="#222" stroke-width="1.0" />
<text x="464.00" y="557.58" font-size="5.9" fill="#262626" text-anchor="end" font-weight="normal" stroke="#262626" stroke-width="0.18" >Hypercholesterolemia</text>
<line x1="483.00" y1="555.46" x2="488.60" y2="555.46" stroke="#8b1a1a" stroke-width="1.0" />
<line x1="483.00" y1="554.46" x2="483.00" y2="556.46" stroke="#8b1a1a" stroke-width="1.0" />
<line x1="488.60" y1="554.46" x2="488.60" y2="556.46" stroke="#8b1a1a" stroke-width="1.0" />
<ellipse cx="485.80" cy="555.46" rx="2.4" ry="1.5" fill="#8b1a1a"/>
<line x1="465.90" y1="562.54" x2="467.90" y2="562.54" stroke="#222" stroke-width="1.0" />
<text x="464.00" y="564.66" font-size="5.9" fill="#262626" text-anchor="end" font-weight="normal" stroke="#262626" stroke-width="0.18" >Mixed hyperlipidemia</text>
<line x1="488.30" y1="562.54" x2="494.80" y2="562.54" stroke="#8b1a1a" stroke-width="1.0" />
<line x1="488.30" y1="561.54" x2="488.30" y2="563.54" stroke="#8b1a1a" stroke-width="1.0" />
<line x1="494.80" y1="561.54" x2="494.80" y2="563.54" stroke="#8b1a1a" stroke-width="1.0" />
<ellipse cx="491.50" cy="562.54" rx="2.4" ry="1.5" fill="#8b1a1a"/>
<line x1="465.90" y1="569.62" x2="467.90" y2="569.62" stroke="#222" stroke-width="1.0" />
<text x="464.00" y="571.74" font-size="5.9" fill="#262626" text-anchor="end" font-weight="normal" stroke="#262626" stroke-width="0.18" >Hyperglyceridemia</text>
<line x1="552.40" y1="569.62" x2="562.20" y2="569.62" stroke="#8b1a1a" stroke-width="1.0" />
<line x1="552.40" y1="568.62" x2="552.40" y2="570.62" stroke="#8b1a1a" stroke-width="1.0" />
<line x1="562.20" y1="568.62" x2="562.20" y2="570.62" stroke="#8b1a1a" stroke-width="1.0" />
<rect x="555.40" y="567.52" width="4.20" height="4.20" fill="#8b1a1a" />
<line x1="465.90" y1="576.70" x2="467.90" y2="576.70" stroke="#222" stroke-width="1.0" />
<text x="464.00" y="578.82" font-size="5.9" fill="#262626" text-anchor="end" font-weight="normal" stroke="#262626" stroke-width="0.18" >Coronary atherosclerosis</text>
<line x1="509.30" y1="576.70" x2="514.00" y2="576.70" stroke="#ff0000" stroke-width="1.0" />
<line x1="509.30" y1="575.70" x2="509.30" y2="577.70" stroke="#ff0000" stroke-width="1.0" />
<line x1="514.00" y1="575.70" x2="514.00" y2="577.70" stroke="#ff0000" stroke-width="1.0" />
<ellipse cx="511.60" cy="576.70" rx="2.4" ry="1.5" fill="#ff0000"/>
<line x1="465.90" y1="583.78" x2="467.90" y2="583.78" stroke="#222" stroke-width="1.0" />
<text x="464.00" y="585.90" font-size="5.9" fill="#262626" text-anchor="end" font-weight="normal" stroke="#262626" stroke-width="0.18" >Unspecified disorder of lipoid metabolism</text>
<line x1="476.40" y1="583.78" x2="494.60" y2="583.78" stroke="#8b1a1a" stroke-width="1.0" />
<line x1="476.40" y1="582.78" x2="476.40" y2="584.78" stroke="#8b1a1a" stroke-width="1.0" />
<line x1="494.60" y1="582.78" x2="494.60" y2="584.78" stroke="#8b1a1a" stroke-width="1.0" />
<rect x="483.30" y="581.68" width="4.20" height="4.20" fill="#8b1a1a" />
<line x1="465.90" y1="590.86" x2="467.90" y2="590.86" stroke="#222" stroke-width="1.0" />
<text x="464.00" y="592.98" font-size="5.9" fill="#262626" text-anchor="end" font-weight="normal" stroke="#262626" stroke-width="0.18" >Ischemic Heart Disease</text>
<line x1="511.00" y1="590.86" x2="515.60" y2="590.86" stroke="#ff0000" stroke-width="1.0" />
<line x1="511.00" y1="589.86" x2="511.00" y2="591.86" stroke="#ff0000" stroke-width="1.0" />
<line x1="515.60" y1="589.86" x2="515.60" y2="591.86" stroke="#ff0000" stroke-width="1.0" />
<ellipse cx="513.30" cy="590.86" rx="2.4" ry="1.5" fill="#ff0000"/>
<line x1="465.90" y1="597.94" x2="467.90" y2="597.94" stroke="#222" stroke-width="1.0" />
<text x="464.00" y="600.06" font-size="5.9" fill="#262626" text-anchor="end" font-weight="normal" stroke="#262626" stroke-width="0.18" >Myocardial infarction</text>
<line x1="507.60" y1="597.94" x2="515.80" y2="597.94" stroke="#ff0000" stroke-width="1.0" />
<line x1="507.60" y1="596.94" x2="507.60" y2="598.94" stroke="#ff0000" stroke-width="1.0" />
<line x1="515.80" y1="596.94" x2="515.80" y2="598.94" stroke="#ff0000" stroke-width="1.0" />
<path d="M511.70 595.64L513.90 599.44L509.50 599.44Z" fill="#ff0000"/>
<line x1="465.90" y1="605.02" x2="467.90" y2="605.02" stroke="#222" stroke-width="1.0" />
<text x="464.00" y="607.14" font-size="5.9" fill="#262626" text-anchor="end" font-weight="normal" stroke="#262626" stroke-width="0.18" >Other chronic ischemic heart disease, unspecified</text>
<line x1="501.90" y1="605.02" x2="513.50" y2="605.02" stroke="#ff0000" stroke-width="1.0" />
<line x1="501.90" y1="604.02" x2="501.90" y2="606.02" stroke="#ff0000" stroke-width="1.0" />
<line x1="513.50" y1="604.02" x2="513.50" y2="606.02" stroke="#ff0000" stroke-width="1.0" />
<path d="M507.20 602.72L509.40 606.52L505.00 606.52Z" fill="#ff0000"/>
<line x1="465.90" y1="612.10" x2="467.90" y2="612.10" stroke="#222" stroke-width="1.0" />
<text x="464.00" y="614.22" font-size="5.9" fill="#262626" text-anchor="end" font-weight="normal" stroke="#262626" stroke-width="0.18" >Hypertension</text>
<line x1="516.80" y1="612.10" x2="520.60" y2="612.10" stroke="#ff0000" stroke-width="1.0" />
<line x1="516.80" y1="611.10" x2="516.80" y2="613.10" stroke="#ff0000" stroke-width="1.0" />
<line x1="520.60" y1="611.10" x2="520.60" y2="613.10" stroke="#ff0000" stroke-width="1.0" />
<path d="M518.70 609.80L520.90 613.60L516.50 613.60Z" fill="#ff0000"/>
<line x1="465.90" y1="619.18" x2="467.90" y2="619.18" stroke="#222" stroke-width="1.0" />
<text x="464.00" y="621.30" font-size="5.9" fill="#262626" text-anchor="end" font-weight="normal" stroke="#262626" stroke-width="0.18" >Thyrotoxicosis with or without goiter</text>
<line x1="533.60" y1="619.18" x2="543.80" y2="619.18" stroke="#8b1a1a" stroke-width="1.0" />
<line x1="533.60" y1="618.18" x2="533.60" y2="620.18" stroke="#8b1a1a" stroke-width="1.0" />
<line x1="543.80" y1="618.18" x2="543.80" y2="620.18" stroke="#8b1a1a" stroke-width="1.0" />
<path d="M538.70 616.88L540.90 620.68L536.50 620.68Z" fill="#8b1a1a"/>
<line x1="465.90" y1="626.26" x2="467.90" y2="626.26" stroke="#222" stroke-width="1.0" />
<text x="464.00" y="628.38" font-size="5.9" fill="#262626" text-anchor="end" font-weight="normal" stroke="#262626" stroke-width="0.18" >Essential hypertension</text>
<line x1="516.80" y1="626.26" x2="520.60" y2="626.26" stroke="#ff0000" stroke-width="1.0" />
<line x1="516.80" y1="625.26" x2="516.80" y2="627.26" stroke="#ff0000" stroke-width="1.0" />
<line x1="520.60" y1="625.26" x2="520.60" y2="627.26" stroke="#ff0000" stroke-width="1.0" />
<path d="M518.70 623.96L520.90 627.76L516.50 627.76Z" fill="#ff0000"/>
<line x1="465.90" y1="633.34" x2="467.90" y2="633.34" stroke="#222" stroke-width="1.0" />
<text x="464.00" y="635.46" font-size="5.9" fill="#262626" text-anchor="end" font-weight="normal" stroke="#262626" stroke-width="0.18" >Diseases of pulp and periapical tissues</text>
<line x1="534.60" y1="633.34" x2="546.20" y2="633.34" stroke="#3a8a1a" stroke-width="1.0" />
<line x1="534.60" y1="632.34" x2="534.60" y2="634.34" stroke="#3a8a1a" stroke-width="1.0" />
<line x1="546.20" y1="632.34" x2="546.20" y2="634.34" stroke="#3a8a1a" stroke-width="1.0" />
<path d="M540.30 631.04L542.50 634.84L538.10 634.84Z" fill="#3a8a1a"/>
<line x1="465.90" y1="640.42" x2="467.90" y2="640.42" stroke="#222" stroke-width="1.0" />
<text x="464.00" y="642.54" font-size="5.9" fill="#262626" text-anchor="end" font-weight="normal" stroke="#262626" stroke-width="0.18" >Superficial cellulitis and abscess</text>
<line x1="528.00" y1="640.42" x2="532.20" y2="640.42" stroke="#a01820" stroke-width="1.0" />
<line x1="528.00" y1="639.42" x2="528.00" y2="641.42" stroke="#a01820" stroke-width="1.0" />
<line x1="532.20" y1="639.42" x2="532.20" y2="641.42" stroke="#a01820" stroke-width="1.0" />
<ellipse cx="530.10" cy="640.42" rx="2.4" ry="1.5" fill="#a01820"/>
<line x1="465.90" y1="647.50" x2="467.90" y2="647.50" stroke="#222" stroke-width="1.0" />
<text x="464.00" y="649.62" font-size="5.9" fill="#262626" text-anchor="end" font-weight="normal" stroke="#262626" stroke-width="0.18" >H. pylori</text>
<line x1="493.70" y1="647.50" x2="509.50" y2="647.50" stroke="#1a1aff" stroke-width="1.0" />
<line x1="493.70" y1="646.50" x2="493.70" y2="648.50" stroke="#1a1aff" stroke-width="1.0" />
<line x1="509.50" y1="646.50" x2="509.50" y2="648.50" stroke="#1a1aff" stroke-width="1.0" />
<path d="M501.70 645.20L503.90 649.00L499.50 649.00Z" fill="#1a1aff"/>
<line x1="465.90" y1="654.58" x2="467.90" y2="654.58" stroke="#222" stroke-width="1.0" />
<text x="464.00" y="656.70" font-size="5.9" fill="#262626" text-anchor="end" font-weight="normal" stroke="#262626" stroke-width="0.18" >Angina pectoris</text>
<line x1="508.40" y1="654.58" x2="516.80" y2="654.58" stroke="#ff0000" stroke-width="1.0" />
<line x1="508.40" y1="653.58" x2="508.40" y2="655.58" stroke="#ff0000" stroke-width="1.0" />
<line x1="516.80" y1="653.58" x2="516.80" y2="655.58" stroke="#ff0000" stroke-width="1.0" />
<path d="M512.50 652.28L514.70 656.08L510.30 656.08Z" fill="#ff0000"/>
<line x1="465.90" y1="661.66" x2="467.90" y2="661.66" stroke="#222" stroke-width="1.0" />
<text x="464.00" y="663.78" font-size="5.9" fill="#262626" text-anchor="end" font-weight="normal" stroke="#262626" stroke-width="0.18" >Mittelschmerz</text>
<line x1="598.00" y1="661.66" x2="651.00" y2="661.66" stroke="#000000" stroke-width="1.0" />
<line x1="598.00" y1="660.66" x2="598.00" y2="662.66" stroke="#000000" stroke-width="1.0" />
<line x1="651.00" y1="660.66" x2="651.00" y2="662.66" stroke="#000000" stroke-width="1.0" />
<path d="M624.20 659.36L626.40 663.16L622.00 663.16Z" fill="#000000"/>
<line x1="465.90" y1="668.74" x2="467.90" y2="668.74" stroke="#222" stroke-width="1.0" />
<text x="464.00" y="670.86" font-size="5.9" fill="#262626" text-anchor="end" font-weight="normal" stroke="#262626" stroke-width="0.18" >Occlusion and stenosis of precerebral arteries</text>
<line x1="506.00" y1="668.74" x2="516.00" y2="668.74" stroke="#ff0000" stroke-width="1.0" />
<line x1="506.00" y1="667.74" x2="506.00" y2="669.74" stroke="#ff0000" stroke-width="1.0" />
<line x1="516.00" y1="667.74" x2="516.00" y2="669.74" stroke="#ff0000" stroke-width="1.0" />
<path d="M510.80 666.44L513.00 670.24L508.60 670.24Z" fill="#ff0000"/>
<line x1="465.90" y1="675.82" x2="467.90" y2="675.82" stroke="#222" stroke-width="1.0" />
<text x="464.00" y="677.94" font-size="5.9" fill="#262626" text-anchor="end" font-weight="normal" stroke="#262626" stroke-width="0.18" >Hypotony of eye</text>
<line x1="596.30" y1="675.82" x2="650.30" y2="675.82" stroke="#5e8a2e" stroke-width="1.0" />
<line x1="596.30" y1="674.82" x2="596.30" y2="676.82" stroke="#5e8a2e" stroke-width="1.0" />
<line x1="650.30" y1="674.82" x2="650.30" y2="676.82" stroke="#5e8a2e" stroke-width="1.0" />
<path d="M623.10 673.52L625.30 677.32L620.90 677.32Z" fill="#5e8a2e"/>
<line x1="492.60" y1="682.20" x2="492.60" y2="685.20" stroke="#333" stroke-width="0.8" />
<text x="492.60" y="692.30" font-size="8" fill="#4d4d4d" text-anchor="middle" font-weight="normal" >0.8</text>
<line x1="523.72" y1="682.20" x2="523.72" y2="685.20" stroke="#333" stroke-width="0.8" />
<text x="523.72" y="692.30" font-size="8" fill="#4d4d4d" text-anchor="middle" font-weight="normal" >1.0</text>
<line x1="554.84" y1="682.20" x2="554.84" y2="685.20" stroke="#333" stroke-width="0.8" />
<text x="554.84" y="692.30" font-size="8" fill="#4d4d4d" text-anchor="middle" font-weight="normal" >1.2</text>
<line x1="585.96" y1="682.20" x2="585.96" y2="685.20" stroke="#333" stroke-width="0.8" />
<text x="585.96" y="692.30" font-size="8" fill="#4d4d4d" text-anchor="middle" font-weight="normal" >1.4</text>
<line x1="617.08" y1="682.20" x2="617.08" y2="685.20" stroke="#333" stroke-width="0.8" />
<text x="617.08" y="692.30" font-size="8" fill="#4d4d4d" text-anchor="middle" font-weight="normal" >1.6</text>
<line x1="648.20" y1="682.20" x2="648.20" y2="685.20" stroke="#333" stroke-width="0.8" />
<text x="648.20" y="692.30" font-size="8" fill="#4d4d4d" text-anchor="middle" font-weight="normal" >1.8</text>
<text x="554.20" y="531.20" font-size="9.4" fill="#1a1a1a" text-anchor="middle" font-weight="normal" >rs72654473</text>
<text x="578.40" y="703.00" font-size="8.2" fill="#1a1a1a" text-anchor="middle" font-weight="normal" >Odds Ratio with SE</text>
<text x="622.00" y="534.90" font-size="5.4" fill="#262626" text-anchor="start" font-weight="normal" stroke="#262626" stroke-width="0.18" >Significance and groups</text>
<line x1="617.00" y1="540.60" x2="628.90" y2="540.60" stroke="#000" stroke-width="1.0" />
<rect x="619.95" y="537.60" width="6.00" height="6.00" fill="#000" />
<text x="632.90" y="542.54" font-size="5.4" fill="#262626" text-anchor="start" font-weight="normal" stroke="#262626" stroke-width="0.18" >Bonferroni Significant</text>
<line x1="617.00" y1="548.31" x2="628.90" y2="548.31" stroke="#000" stroke-width="1.0" />
<path d="M622.95 544.41L626.75 551.11L619.15 551.11Z" fill="#000"/>
<text x="632.90" y="550.25" font-size="5.4" fill="#262626" text-anchor="start" font-weight="normal" stroke="#262626" stroke-width="0.18" >Nominal Significant</text>
<line x1="617.00" y1="556.02" x2="628.90" y2="556.02" stroke="#000" stroke-width="1.0" />
<path d="M622.95 551.82L627.15 556.02L622.95 560.22L618.75 556.02Z" fill="#000"/>
<text x="632.90" y="557.96" font-size="5.4" fill="#262626" text-anchor="start" font-weight="normal" stroke="#262626" stroke-width="0.18" >Not Significant</text>
<line x1="617.00" y1="563.73" x2="628.90" y2="563.73" stroke="#1a1aff" stroke-width="1.0" />
<rect x="619.95" y="560.73" width="6.00" height="6.00" fill="#1a1aff" />
<text x="632.90" y="565.67" font-size="5.4" fill="#262626" text-anchor="start" font-weight="normal" stroke="#262626" stroke-width="0.18" >infectious diseases</text>
<line x1="617.00" y1="571.44" x2="628.90" y2="571.44" stroke="#8b1a1a" stroke-width="1.0" />
<rect x="619.95" y="568.44" width="6.00" height="6.00" fill="#8b1a1a" />
<text x="632.90" y="573.38" font-size="5.4" fill="#262626" text-anchor="start" font-weight="normal" stroke="#262626" stroke-width="0.18" >endocrine/metabolic</text>
<line x1="617.00" y1="579.15" x2="628.90" y2="579.15" stroke="#5e7e2a" stroke-width="1.0" />
<rect x="619.95" y="576.15" width="6.00" height="6.00" fill="#5e7e2a" />
<text x="632.90" y="581.09" font-size="5.4" fill="#262626" text-anchor="start" font-weight="normal" stroke="#262626" stroke-width="0.18" >sense organs</text>
<line x1="617.00" y1="586.86" x2="628.90" y2="586.86" stroke="#ff0000" stroke-width="1.0" />
<rect x="619.95" y="583.86" width="6.00" height="6.00" fill="#ff0000" />
<text x="632.90" y="588.80" font-size="5.4" fill="#262626" text-anchor="start" font-weight="normal" stroke="#262626" stroke-width="0.18" >circulatory system</text>
<line x1="617.00" y1="594.57" x2="628.90" y2="594.57" stroke="#3a7a10" stroke-width="1.0" />
<rect x="619.95" y="591.57" width="6.00" height="6.00" fill="#3a7a10" />
<text x="632.90" y="596.51" font-size="5.4" fill="#262626" text-anchor="start" font-weight="normal" stroke="#262626" stroke-width="0.18" >digestive</text>
<line x1="617.00" y1="602.28" x2="628.90" y2="602.28" stroke="#000" stroke-width="1.0" />
<rect x="619.95" y="599.28" width="6.00" height="6.00" fill="#000" />
<text x="632.90" y="604.22" font-size="5.4" fill="#262626" text-anchor="start" font-weight="normal" stroke="#262626" stroke-width="0.18" >genitourinary</text>
<line x1="617.00" y1="609.99" x2="628.90" y2="609.99" stroke="#a01820" stroke-width="1.0" />
<rect x="619.95" y="606.99" width="6.00" height="6.00" fill="#a01820" />
<text x="632.90" y="611.93" font-size="5.4" fill="#262626" text-anchor="start" font-weight="normal" stroke="#262626" stroke-width="0.18" >dermatologic</text>
</svg>
</body></html>
